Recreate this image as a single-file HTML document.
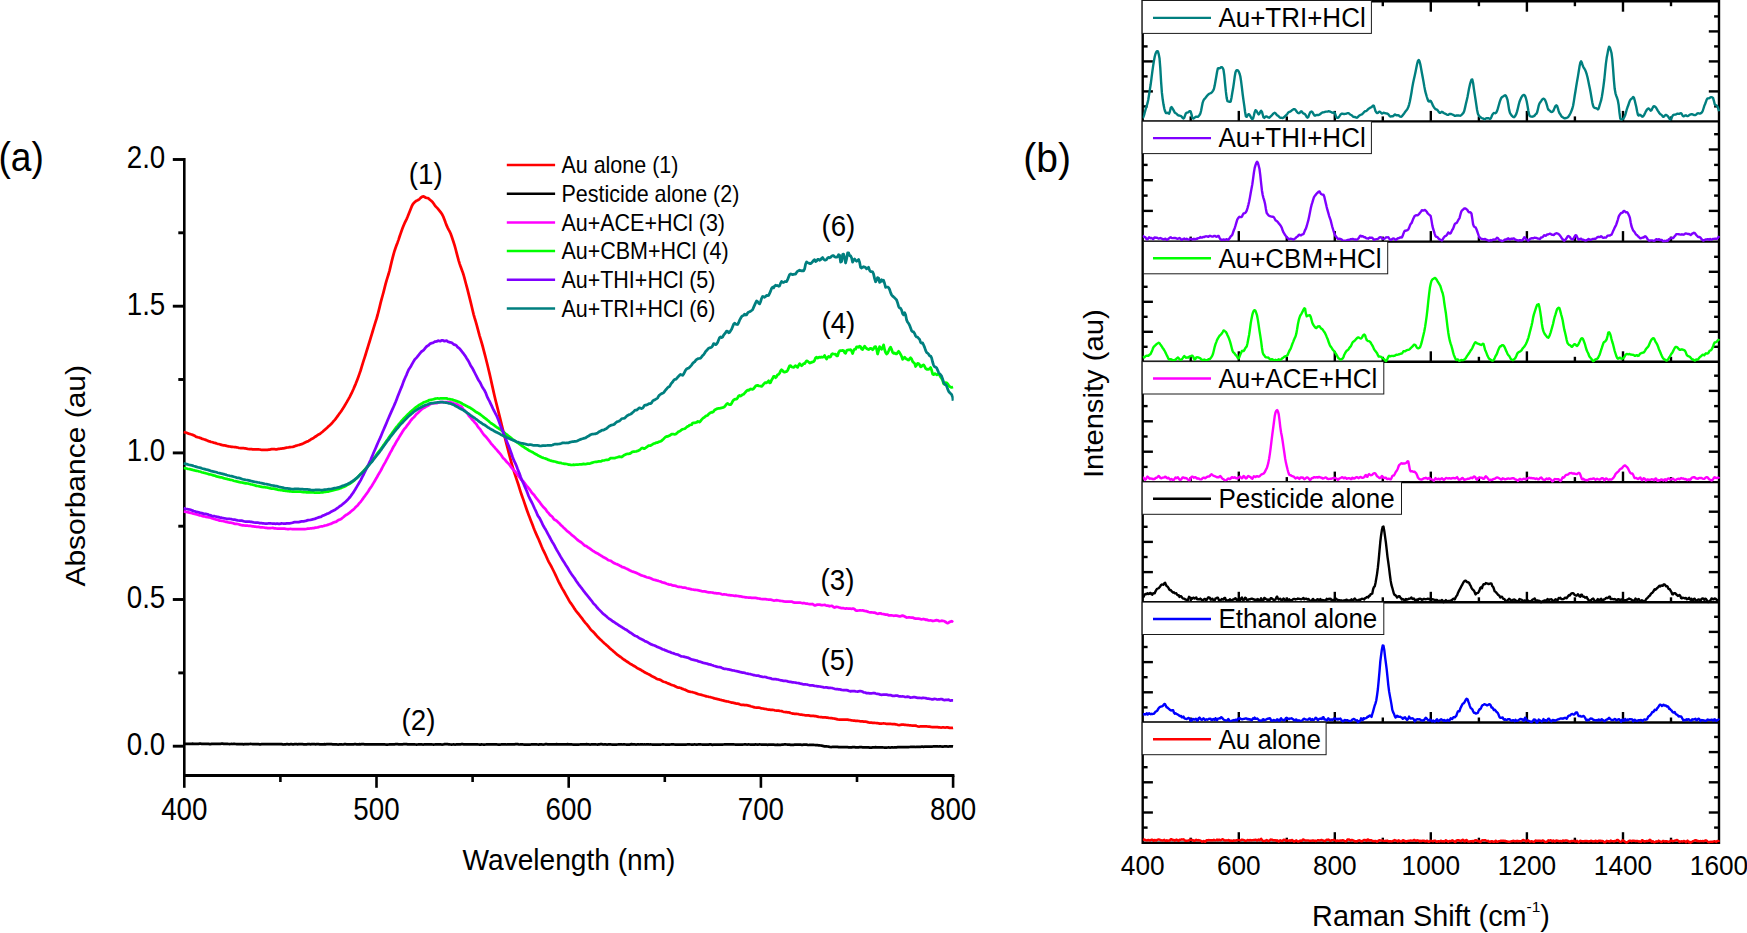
<!DOCTYPE html>
<html lang="en"><head><meta charset="utf-8"><title>UV-vis and Raman spectra</title>
<style>html,body{margin:0;padding:0;background:#fff;}svg{display:block;}</style></head>
<body>
<svg width="1747" height="933" viewBox="0 0 1747 933" font-family='"Liberation Sans", Arial, sans-serif' fill="#000">
<rect x="0" y="0" width="1747" height="933" fill="#fff"/>
<g id="uvvis">
<line x1="184.3" y1="158.1" x2="184.3" y2="777" stroke="#000" stroke-width="2.6" stroke-linecap="butt"/>
<line x1="183" y1="775.5" x2="954.4" y2="775.5" stroke="#000" stroke-width="2.9" stroke-linecap="butt"/>
<line x1="184.3" y1="775.5" x2="184.3" y2="787.8" stroke="#000" stroke-width="2.6" stroke-linecap="butt"/>
<text transform="translate(184.3,819.6) scale(0.89,1)" font-size="31.2" text-anchor="middle" >400</text>
<line x1="280.4" y1="775.5" x2="280.4" y2="782" stroke="#000" stroke-width="2.6" stroke-linecap="butt"/>
<line x1="376.5" y1="775.5" x2="376.5" y2="787.8" stroke="#000" stroke-width="2.6" stroke-linecap="butt"/>
<text transform="translate(376.5,819.6) scale(0.89,1)" font-size="31.2" text-anchor="middle" >500</text>
<line x1="472.6" y1="775.5" x2="472.6" y2="782" stroke="#000" stroke-width="2.6" stroke-linecap="butt"/>
<line x1="568.7" y1="775.5" x2="568.7" y2="787.8" stroke="#000" stroke-width="2.6" stroke-linecap="butt"/>
<text transform="translate(568.7,819.6) scale(0.89,1)" font-size="31.2" text-anchor="middle" >600</text>
<line x1="664.8" y1="775.5" x2="664.8" y2="782" stroke="#000" stroke-width="2.6" stroke-linecap="butt"/>
<line x1="760.9" y1="775.5" x2="760.9" y2="787.8" stroke="#000" stroke-width="2.6" stroke-linecap="butt"/>
<text transform="translate(760.9,819.6) scale(0.89,1)" font-size="31.2" text-anchor="middle" >700</text>
<line x1="857" y1="775.5" x2="857" y2="782" stroke="#000" stroke-width="2.6" stroke-linecap="butt"/>
<line x1="953.1" y1="775.5" x2="953.1" y2="787.8" stroke="#000" stroke-width="2.6" stroke-linecap="butt"/>
<text transform="translate(953.1,819.6) scale(0.89,1)" font-size="31.2" text-anchor="middle" >800</text>
<line x1="172.8" y1="746.2" x2="184.3" y2="746.2" stroke="#000" stroke-width="2.9" stroke-linecap="butt"/>
<text transform="translate(165.3,754.5) scale(0.89,1)" font-size="31.2" text-anchor="end" >0.0</text>
<line x1="178.3" y1="672.9" x2="184.3" y2="672.9" stroke="#000" stroke-width="2.9" stroke-linecap="butt"/>
<line x1="172.8" y1="599.5" x2="184.3" y2="599.5" stroke="#000" stroke-width="2.9" stroke-linecap="butt"/>
<text transform="translate(165.3,607.8) scale(0.89,1)" font-size="31.2" text-anchor="end" >0.5</text>
<line x1="178.3" y1="526.2" x2="184.3" y2="526.2" stroke="#000" stroke-width="2.9" stroke-linecap="butt"/>
<line x1="172.8" y1="452.9" x2="184.3" y2="452.9" stroke="#000" stroke-width="2.9" stroke-linecap="butt"/>
<text transform="translate(165.3,461.2) scale(0.89,1)" font-size="31.2" text-anchor="end" >1.0</text>
<line x1="178.3" y1="379.5" x2="184.3" y2="379.5" stroke="#000" stroke-width="2.9" stroke-linecap="butt"/>
<line x1="172.8" y1="306.2" x2="184.3" y2="306.2" stroke="#000" stroke-width="2.9" stroke-linecap="butt"/>
<text transform="translate(165.3,314.5) scale(0.89,1)" font-size="31.2" text-anchor="end" >1.5</text>
<line x1="178.3" y1="232.8" x2="184.3" y2="232.8" stroke="#000" stroke-width="2.9" stroke-linecap="butt"/>
<line x1="172.8" y1="159.5" x2="184.3" y2="159.5" stroke="#000" stroke-width="2.9" stroke-linecap="butt"/>
<text transform="translate(165.3,167.8) scale(0.89,1)" font-size="31.2" text-anchor="end" >2.0</text>
<text transform="translate(569,869.9) scale(0.937,1)" font-size="30" text-anchor="middle" >Wavelength (nm)</text>
<text transform="translate(84.8,475.8) scale(0.925,1) rotate(-90)" font-size="30" text-anchor="middle">Absorbance (au)</text>
<text transform="translate(-1.6,171.4) scale(0.93,1)" font-size="40" text-anchor="start" >(a)</text>
<clipPath id="cl"><rect x="183.3" y="154.5" width="770.4" height="621"/></clipPath>
<g clip-path="url(#cl)">
<polyline points="183.6,432 184.6,432.3 185.6,432.5 186.6,432.8 187.6,433.2 188.6,433.6 189.6,433.9 190.6,434.2 191.6,434.5 192.6,434.9 193.6,435.3 194.6,435.8 195.6,436.4 196.6,436.9 197.6,437.2 198.6,437.5 199.6,437.7 200.6,438.1 201.6,438.6 202.6,438.9 203.6,439.2 204.6,439.5 205.6,439.9 206.6,440.3 207.6,440.7 208.6,441.1 209.6,441.4 210.6,441.8 211.6,442 212.6,442.3 213.6,442.6 214.6,442.8 215.6,443.1 216.6,443.5 217.6,443.8 218.6,444 219.6,444.3 220.6,444.6 221.6,444.9 222.6,445.2 223.6,445.4 224.6,445.4 225.6,445.6 226.6,445.9 227.6,446.1 228.6,446.3 229.6,446.5 230.6,446.7 231.6,446.9 232.6,446.9 233.6,447 234.6,447.1 235.6,447.2 236.6,447.3 237.6,447.5 238.6,447.8 239.6,448 240.6,448.1 241.6,448.1 242.6,448.1 243.6,448.2 244.6,448.3 245.6,448.4 246.6,448.7 247.6,448.9 248.6,449 249.6,449 250.6,449 251.6,449.1 252.6,449.3 253.6,449.3 254.6,449.3 255.6,449.4 256.6,449.4 257.6,449.4 258.6,449.4 259.6,449.5 260.6,449.7 261.6,449.8 262.6,449.9 263.6,449.9 264.6,449.9 265.6,449.9 266.6,449.9 267.6,449.9 268.6,449.7 269.6,449.6 270.6,449.4 271.6,449.2 272.6,449.1 273.6,449.1 274.6,449.2 275.6,449.3 276.6,449.3 277.6,449.1 278.6,448.9 279.6,448.8 280.6,448.7 281.6,448.6 282.6,448.4 283.6,448.3 284.6,448.1 285.6,447.9 286.6,447.7 287.6,447.5 288.6,447.4 289.6,447.2 290.6,447.1 291.6,447 292.6,446.9 293.6,446.6 294.6,446.2 295.6,445.9 296.6,445.5 297.6,445.3 298.6,445 299.6,444.8 300.6,444.4 301.6,444.1 302.6,443.7 303.6,443.3 304.6,442.8 305.6,442.3 306.6,441.8 307.6,441.4 308.6,440.9 309.6,440.3 310.6,439.6 311.6,438.9 312.6,438.4 313.6,437.9 314.6,437.2 315.6,436.5 316.6,435.8 317.6,435.1 318.6,434.5 319.6,434 320.6,433.3 321.6,432.5 322.6,431.7 323.6,430.8 324.6,429.9 325.6,429.1 326.6,428.2 327.6,427.3 328.6,426.3 329.6,425.4 330.6,424.5 331.6,423.5 332.6,422.4 333.6,421.2 334.6,420.1 335.6,418.9 336.6,417.5 337.6,416.1 338.6,414.7 339.6,413.3 340.6,412 341.6,410.6 342.6,409.1 343.6,407.4 344.6,405.8 345.6,404.1 346.6,402.4 347.6,400.6 348.6,398.9 349.6,397.1 350.6,395.2 351.6,393.2 352.6,391 353.6,388.8 354.6,386.4 355.6,384.1 356.6,381.5 357.6,378.9 358.6,376.2 359.6,373.4 360.6,370.5 361.6,367.2 362.6,363.8 363.6,360.7 364.6,357.6 365.6,354.5 366.6,351.2 367.6,348 368.6,344.7 369.6,341.5 370.6,338.1 371.6,334.8 372.6,331.5 373.6,328.2 374.6,324.9 375.6,321.7 376.6,318.5 377.6,315 378.6,311.1 379.6,307.1 380.6,302.9 381.6,299.2 382.6,295.5 383.6,291.8 384.6,287.9 385.6,283.9 386.6,280.3 387.6,277.2 388.6,274 389.6,270.3 390.6,266.2 391.6,261.9 392.6,257.9 393.6,254.1 394.6,250.7 395.6,247.7 396.6,245 397.6,242.4 398.6,239.6 399.6,236.5 400.6,233.6 401.6,230.7 402.6,228.1 403.6,225.6 404.6,223.2 405.6,221.1 406.6,219.1 407.6,216.8 408.6,214.3 409.6,211.8 410.6,209.3 411.6,206.7 412.6,204.6 413.6,203.2 414.6,202.2 415.6,201.4 416.6,200.7 417.6,200.3 418.6,199.8 419.6,198.9 420.6,197.9 421.6,197.1 422.6,196.5 423.6,196.4 424.6,197 425.6,197.7 426.6,197.9 427.6,198 428.6,198.5 429.6,199.4 430.6,200.3 431.6,201.1 432.6,202.2 433.6,203.5 434.6,205 435.6,206.4 436.6,207.4 437.6,208.4 438.6,209.6 439.6,210.8 440.6,212.1 441.6,213.5 442.6,215.2 443.6,217.4 444.6,220 445.6,222.8 446.6,225.4 447.6,227.6 448.6,229.6 449.6,231.4 450.6,233.5 451.6,236.2 452.6,239.2 453.6,242.2 454.6,245.4 455.6,249 456.6,252.9 457.6,256.7 458.6,260.3 459.6,263.6 460.6,266.6 461.6,269.3 462.6,271.9 463.6,275 464.6,278.7 465.6,282.5 466.6,286.2 467.6,289.9 468.6,293.8 469.6,297.8 470.6,301.8 471.6,306 472.6,310.3 473.6,314.3 474.6,317.9 475.6,321.2 476.6,324.7 477.6,328.4 478.6,332.2 479.6,335.8 480.6,339.1 481.6,342.5 482.6,346 483.6,349.8 484.6,353.7 485.6,357.5 486.6,361.5 487.6,365.5 488.6,369.7 489.6,373.9 490.6,378.3 491.6,382.9 492.6,387.4 493.6,391.9 494.6,396.3 495.6,400.5 496.6,404.4 497.6,408.3 498.6,412.3 499.6,416.3 500.6,420.3 501.6,424.5 502.6,428.6 503.6,432.5 504.6,436.4 505.6,440.4 506.6,444.3 507.6,448.2 508.6,452.1 509.6,456 510.6,459.7 511.6,463.3 512.6,466.8 513.6,470.1 514.6,473.3 515.6,476.4 516.6,479.4 517.6,482.3 518.6,485.3 519.6,488.6 520.6,491.8 521.6,494.8 522.6,497.6 523.6,500.4 524.6,503.4 525.6,506.3 526.6,509.2 527.6,512 528.6,514.7 529.6,517.3 530.6,519.9 531.6,522.5 532.6,525.1 533.6,527.8 534.6,530.3 535.6,532.6 536.6,534.9 537.6,537.1 538.6,539.3 539.6,541.6 540.6,544 541.6,546.5 542.6,548.8 543.6,550.8 544.6,552.9 545.6,555 546.6,557.2 547.6,559.5 548.6,561.6 549.6,563.4 550.6,565.2 551.6,567 552.6,569 553.6,571 554.6,573 555.6,575.1 556.6,577.3 557.6,579.5 558.6,581.6 559.6,583.5 560.6,585.4 561.6,587.3 562.6,589.1 563.6,590.8 564.6,592.5 565.6,594.3 566.6,596.1 567.6,597.9 568.6,599.7 569.6,601.4 570.6,602.9 571.6,604.3 572.6,605.8 573.6,607.3 574.6,608.9 575.6,610.3 576.6,611.6 577.6,612.8 578.6,614 579.6,615.3 580.6,616.7 581.6,617.9 582.6,619.2 583.6,620.6 584.6,621.9 585.6,623.1 586.6,624.2 587.6,625.4 588.6,626.7 589.6,628 590.6,629.3 591.6,630.4 592.6,631.3 593.6,632.3 594.6,633.3 595.6,634.5 596.6,635.7 597.6,636.8 598.6,637.8 599.6,638.8 600.6,639.7 601.6,640.6 602.6,641.6 603.6,642.6 604.6,643.5 605.6,644.3 606.6,645.2 607.6,646.1 608.6,647 609.6,648 610.6,648.9 611.6,649.7 612.6,650.5 613.6,651.4 614.6,652.3 615.6,653.2 616.6,654.1 617.6,654.9 618.6,655.6 619.6,656.3 620.6,657 621.6,657.8 622.6,658.6 623.6,659.3 624.6,660 625.6,660.7 626.6,661.3 627.6,662 628.6,662.7 629.6,663.4 630.6,664 631.6,664.5 632.6,665.1 633.6,665.7 634.6,666.3 635.6,666.9 636.6,667.6 637.6,668.2 638.6,668.7 639.6,669.2 640.6,669.8 641.6,670.4 642.6,671.1 643.6,671.6 644.6,672.2 645.6,672.8 646.6,673.3 647.6,673.8 648.6,674.2 649.6,674.7 650.6,675.3 651.6,676 652.6,676.6 653.6,677.1 654.6,677.6 655.6,678.1 656.6,678.7 657.6,679.1 658.6,679.3 659.6,679.6 660.6,680 661.6,680.6 662.6,681.2 663.6,681.7 664.6,682 665.6,682.3 666.6,682.8 667.6,683.2 668.6,683.6 669.6,684 670.6,684.5 671.6,684.9 672.6,685.2 673.6,685.5 674.6,685.9 675.6,686.4 676.6,687 677.6,687.4 678.6,687.6 679.6,687.7 680.6,688 681.6,688.4 682.6,688.9 683.6,689.3 684.6,689.6 685.6,689.9 686.6,690.4 687.6,690.9 688.6,691.4 689.6,691.7 690.6,691.9 691.6,692 692.6,692.2 693.6,692.5 694.6,692.8 695.6,693.1 696.6,693.5 697.6,693.9 698.6,694.2 699.6,694.5 700.6,694.7 701.6,694.9 702.6,695.2 703.6,695.5 704.6,695.8 705.6,696.1 706.6,696.4 707.6,696.5 708.6,696.8 709.6,697 710.6,697.2 711.6,697.5 712.6,697.8 713.6,698.1 714.6,698.5 715.6,698.7 716.6,698.9 717.6,699.1 718.6,699.3 719.6,699.6 720.6,699.8 721.6,700.1 722.6,700.3 723.6,700.6 724.6,700.9 725.6,701.1 726.6,701.3 727.6,701.5 728.6,701.7 729.6,702 730.6,702.3 731.6,702.6 732.6,702.7 733.6,702.9 734.6,703.1 735.6,703.4 736.6,703.6 737.6,703.7 738.6,703.9 739.6,704.3 740.6,704.6 741.6,704.8 742.6,704.8 743.6,704.9 744.6,705.1 745.6,705.1 746.6,705.2 747.6,705.4 748.6,705.6 749.6,705.8 750.6,706.2 751.6,706.5 752.6,706.8 753.6,707.1 754.6,707.4 755.6,707.5 756.6,707.5 757.6,707.5 758.6,707.5 759.6,707.8 760.6,708.1 761.6,708.3 762.6,708.5 763.6,708.7 764.6,708.8 765.6,709 766.6,709.2 767.6,709.5 768.6,709.6 769.6,709.7 770.6,709.8 771.6,709.8 772.6,709.9 773.6,710 774.6,710.3 775.6,710.5 776.6,710.6 777.6,710.6 778.6,710.7 779.6,710.9 780.6,711 781.6,711.1 782.6,711.5 783.6,711.8 784.6,712 785.6,712.1 786.6,712.2 787.6,712.3 788.6,712.3 789.6,712.6 790.6,713 791.6,713.3 792.6,713.6 793.6,713.7 794.6,713.8 795.6,713.8 796.6,713.9 797.6,714 798.6,714.2 799.6,714.5 800.6,714.7 801.6,714.7 802.6,714.8 803.6,715 804.6,715.2 805.6,715.3 806.6,715.3 807.6,715.4 808.6,715.4 809.6,715.6 810.6,715.8 811.6,715.9 812.6,715.9 813.6,715.9 814.6,716.1 815.6,716.2 816.6,716.4 817.6,716.6 818.6,716.9 819.6,717 820.6,717.1 821.6,717.2 822.6,717.3 823.6,717.4 824.6,717.4 825.6,717.4 826.6,717.6 827.6,717.7 828.6,717.9 829.6,718 830.6,718.1 831.6,718.2 832.6,718.3 833.6,718.5 834.6,718.6 835.6,718.8 836.6,719.1 837.6,719.4 838.6,719.5 839.6,719.5 840.6,719.5 841.6,719.5 842.6,719.5 843.6,719.5 844.6,719.6 845.6,719.6 846.6,719.6 847.6,719.6 848.6,719.8 849.6,720 850.6,720.2 851.6,720.3 852.6,720.5 853.6,720.7 854.6,720.7 855.6,720.8 856.6,720.8 857.6,720.9 858.6,721 859.6,721.2 860.6,721.3 861.6,721.3 862.6,721.4 863.6,721.6 864.6,721.6 865.6,721.6 866.6,721.8 867.6,722.1 868.6,722.5 869.6,722.6 870.6,722.6 871.6,722.7 872.6,722.8 873.6,722.8 874.6,722.9 875.6,723 876.6,723.1 877.6,723.2 878.6,723.3 879.6,723.6 880.6,723.7 881.6,723.6 882.6,723.5 883.6,723.4 884.6,723.5 885.6,723.7 886.6,723.8 887.6,723.9 888.6,723.8 889.6,723.8 890.6,723.9 891.6,724 892.6,724 893.6,724.1 894.6,724.1 895.6,724.3 896.6,724.5 897.6,724.8 898.6,725 899.6,725 900.6,724.8 901.6,724.6 902.6,724.6 903.6,724.7 904.6,724.8 905.6,724.9 906.6,725 907.6,725 908.6,725.2 909.6,725.3 910.6,725.4 911.6,725.5 912.6,725.5 913.6,725.5 914.6,725.5 915.6,725.6 916.6,726 917.6,726.3 918.6,726.5 919.6,726.5 920.6,726.4 921.6,726.4 922.6,726.4 923.6,726.4 924.6,726.4 925.6,726.4 926.6,726.4 927.6,726.5 928.6,726.5 929.6,726.6 930.6,726.8 931.6,727 932.6,727 933.6,727 934.6,727 935.6,727 936.6,727 937.6,727.1 938.6,727.3 939.6,727.4 940.6,727.5 941.6,727.5 942.6,727.4 943.6,727.4 944.6,727.5 945.6,727.5 946.6,727.4 947.6,727.4 948.6,727.6 949.6,727.8 950.6,727.9 951.6,727.9 952.6,727.9 953.1,727.8" fill="none" stroke="#ff0000" stroke-width="2.75" stroke-linejoin="round" stroke-linecap="butt" />
<polyline points="183.6,743.8 184.6,743.8 185.6,743.9 186.6,743.9 187.6,743.9 188.6,743.9 189.6,743.9 190.6,743.9 191.6,743.8 192.6,743.7 193.6,743.8 194.6,743.8 195.6,743.8 196.6,743.8 197.6,743.9 198.6,743.9 199.6,743.7 200.6,743.7 201.6,743.8 202.6,743.8 203.6,743.8 204.6,743.8 205.6,743.9 206.6,743.9 207.6,743.9 208.6,743.9 209.6,744.1 210.6,744.1 211.6,743.9 212.6,743.8 213.6,743.9 214.6,743.9 215.6,743.8 216.6,743.8 217.6,743.9 218.6,743.8 219.6,743.8 220.6,743.8 221.6,743.7 222.6,743.7 223.6,743.9 224.6,743.9 225.6,743.9 226.6,743.8 227.6,743.9 228.6,744 229.6,744.1 230.6,744 231.6,743.9 232.6,744 233.6,743.9 234.6,743.9 235.6,744 236.6,744.1 237.6,744.1 238.6,744.1 239.6,744.1 240.6,744.1 241.6,744 242.6,744.1 243.6,744.3 244.6,744.2 245.6,744.1 246.6,744.1 247.6,744.1 248.6,744.1 249.6,744 250.6,743.9 251.6,744 252.6,744.1 253.6,744.1 254.6,744.2 255.6,744.2 256.6,744.1 257.6,744.1 258.6,744.2 259.6,744.3 260.6,744.3 261.6,744.2 262.6,744.2 263.6,744.2 264.6,744.1 265.6,744.1 266.6,744.2 267.6,744.2 268.6,744.1 269.6,744.1 270.6,744.1 271.6,744.1 272.6,744.1 273.6,744 274.6,744.1 275.6,744.2 276.6,744.1 277.6,744.1 278.6,744.1 279.6,744.1 280.6,744.1 281.6,744.1 282.6,744.3 283.6,744.5 284.6,744.4 285.6,744.3 286.6,744.2 287.6,744.2 288.6,744.3 289.6,744.3 290.6,744.2 291.6,744.2 292.6,744.3 293.6,744.3 294.6,744.2 295.6,744.2 296.6,744.2 297.6,744.3 298.6,744.2 299.6,744.2 300.6,744.1 301.6,744.1 302.6,744.2 303.6,744.3 304.6,744.3 305.6,744.3 306.6,744.3 307.6,744.2 308.6,744.1 309.6,744.2 310.6,744.3 311.6,744.2 312.6,744.2 313.6,744.2 314.6,744.2 315.6,744.3 316.6,744.2 317.6,744.1 318.6,744.2 319.6,744.3 320.6,744.4 321.6,744.3 322.6,744.3 323.6,744.3 324.6,744.2 325.6,744.3 326.6,744.2 327.6,744.2 328.6,744.2 329.6,744.2 330.6,744.2 331.6,744.2 332.6,744.3 333.6,744.3 334.6,744.4 335.6,744.4 336.6,744.4 337.6,744.5 338.6,744.5 339.6,744.3 340.6,744.3 341.6,744.4 342.6,744.5 343.6,744.4 344.6,744.2 345.6,744.2 346.6,744.3 347.6,744.4 348.6,744.4 349.6,744.3 350.6,744.4 351.6,744.4 352.6,744.4 353.6,744.3 354.6,744.2 355.6,744.2 356.6,744.3 357.6,744.3 358.6,744.3 359.6,744.2 360.6,744.3 361.6,744.2 362.6,744.1 363.6,744.2 364.6,744.3 365.6,744.4 366.6,744.4 367.6,744.4 368.6,744.4 369.6,744.4 370.6,744.4 371.6,744.4 372.6,744.4 373.6,744.3 374.6,744.3 375.6,744.3 376.6,744.3 377.6,744.3 378.6,744.4 379.6,744.4 380.6,744.3 381.6,744.3 382.6,744.4 383.6,744.4 384.6,744.4 385.6,744.5 386.6,744.5 387.6,744.6 388.6,744.5 389.6,744.3 390.6,744.3 391.6,744.4 392.6,744.4 393.6,744.3 394.6,744.3 395.6,744.2 396.6,744.2 397.6,744.2 398.6,744.3 399.6,744.3 400.6,744.3 401.6,744.3 402.6,744.3 403.6,744.2 404.6,744.1 405.6,744.1 406.6,744.1 407.6,744.3 408.6,744.4 409.6,744.4 410.6,744.3 411.6,744.3 412.6,744.3 413.6,744.4 414.6,744.4 415.6,744.5 416.6,744.6 417.6,744.5 418.6,744.4 419.6,744.3 420.6,744.4 421.6,744.4 422.6,744.5 423.6,744.5 424.6,744.4 425.6,744.3 426.6,744.3 427.6,744.4 428.6,744.4 429.6,744.3 430.6,744.3 431.6,744.3 432.6,744.5 433.6,744.6 434.6,744.5 435.6,744.3 436.6,744.3 437.6,744.4 438.6,744.4 439.6,744.4 440.6,744.4 441.6,744.5 442.6,744.5 443.6,744.4 444.6,744.2 445.6,744.2 446.6,744.2 447.6,744.2 448.6,744.3 449.6,744.4 450.6,744.5 451.6,744.6 452.6,744.5 453.6,744.4 454.6,744.5 455.6,744.5 456.6,744.4 457.6,744.3 458.6,744.3 459.6,744.3 460.6,744.3 461.6,744.2 462.6,744.2 463.6,744.3 464.6,744.4 465.6,744.4 466.6,744.4 467.6,744.4 468.6,744.4 469.6,744.3 470.6,744.3 471.6,744.3 472.6,744.4 473.6,744.4 474.6,744.3 475.6,744.3 476.6,744.4 477.6,744.4 478.6,744.5 479.6,744.6 480.6,744.6 481.6,744.4 482.6,744.5 483.6,744.6 484.6,744.6 485.6,744.5 486.6,744.4 487.6,744.3 488.6,744.3 489.6,744.4 490.6,744.4 491.6,744.4 492.6,744.3 493.6,744.3 494.6,744.3 495.6,744.3 496.6,744.4 497.6,744.5 498.6,744.5 499.6,744.5 500.6,744.5 501.6,744.4 502.6,744.4 503.6,744.4 504.6,744.4 505.6,744.4 506.6,744.5 507.6,744.4 508.6,744.3 509.6,744.3 510.6,744.3 511.6,744.4 512.6,744.4 513.6,744.4 514.6,744.3 515.6,744.1 516.6,744.2 517.6,744.2 518.6,744.4 519.6,744.5 520.6,744.4 521.6,744.3 522.6,744.4 523.6,744.5 524.6,744.5 525.6,744.5 526.6,744.6 527.6,744.7 528.6,744.6 529.6,744.5 530.6,744.5 531.6,744.4 532.6,744.3 533.6,744.3 534.6,744.3 535.6,744.3 536.6,744.4 537.6,744.5 538.6,744.6 539.6,744.4 540.6,744.4 541.6,744.4 542.6,744.5 543.6,744.5 544.6,744.4 545.6,744.2 546.6,744.2 547.6,744.3 548.6,744.4 549.6,744.4 550.6,744.3 551.6,744.3 552.6,744.4 553.6,744.4 554.6,744.4 555.6,744.3 556.6,744.2 557.6,744.3 558.6,744.4 559.6,744.3 560.6,744.3 561.6,744.4 562.6,744.3 563.6,744.3 564.6,744.4 565.6,744.4 566.6,744.3 567.6,744.2 568.6,744.3 569.6,744.3 570.6,744.3 571.6,744.4 572.6,744.5 573.6,744.5 574.6,744.5 575.6,744.5 576.6,744.6 577.6,744.6 578.6,744.6 579.6,744.5 580.6,744.4 581.6,744.4 582.6,744.3 583.6,744.3 584.6,744.3 585.6,744.3 586.6,744.2 587.6,744.3 588.6,744.4 589.6,744.5 590.6,744.5 591.6,744.4 592.6,744.4 593.6,744.3 594.6,744.4 595.6,744.4 596.6,744.5 597.6,744.6 598.6,744.4 599.6,744.3 600.6,744.2 601.6,744.2 602.6,744.3 603.6,744.5 604.6,744.4 605.6,744.3 606.6,744.5 607.6,744.5 608.6,744.4 609.6,744.3 610.6,744.4 611.6,744.5 612.6,744.5 613.6,744.6 614.6,744.6 615.6,744.6 616.6,744.6 617.6,744.5 618.6,744.3 619.6,744.4 620.6,744.4 621.6,744.4 622.6,744.5 623.6,744.4 624.6,744.4 625.6,744.5 626.6,744.6 627.6,744.5 628.6,744.6 629.6,744.6 630.6,744.4 631.6,744.2 632.6,744.3 633.6,744.3 634.6,744.3 635.6,744.5 636.6,744.5 637.6,744.4 638.6,744.4 639.6,744.5 640.6,744.4 641.6,744.3 642.6,744.4 643.6,744.5 644.6,744.4 645.6,744.5 646.6,744.4 647.6,744.4 648.6,744.4 649.6,744.5 650.6,744.4 651.6,744.5 652.6,744.6 653.6,744.7 654.6,744.6 655.6,744.5 656.6,744.5 657.6,744.5 658.6,744.6 659.6,744.6 660.6,744.6 661.6,744.5 662.6,744.4 663.6,744.4 664.6,744.5 665.6,744.6 666.6,744.6 667.6,744.6 668.6,744.6 669.6,744.6 670.6,744.5 671.6,744.3 672.6,744.3 673.6,744.4 674.6,744.5 675.6,744.5 676.6,744.6 677.6,744.6 678.6,744.7 679.6,744.6 680.6,744.5 681.6,744.5 682.6,744.5 683.6,744.5 684.6,744.5 685.6,744.5 686.6,744.5 687.6,744.4 688.6,744.4 689.6,744.4 690.6,744.5 691.6,744.6 692.6,744.5 693.6,744.5 694.6,744.4 695.6,744.5 696.6,744.5 697.6,744.5 698.6,744.4 699.6,744.3 700.6,744.4 701.6,744.5 702.6,744.6 703.6,744.6 704.6,744.5 705.6,744.5 706.6,744.6 707.6,744.7 708.6,744.6 709.6,744.4 710.6,744.4 711.6,744.6 712.6,744.8 713.6,744.7 714.6,744.7 715.6,744.6 716.6,744.5 717.6,744.5 718.6,744.5 719.6,744.5 720.6,744.6 721.6,744.6 722.6,744.6 723.6,744.5 724.6,744.4 725.6,744.4 726.6,744.4 727.6,744.4 728.6,744.3 729.6,744.3 730.6,744.3 731.6,744.3 732.6,744.3 733.6,744.3 734.6,744.5 735.6,744.6 736.6,744.6 737.6,744.5 738.6,744.5 739.6,744.6 740.6,744.6 741.6,744.6 742.6,744.6 743.6,744.5 744.6,744.4 745.6,744.4 746.6,744.5 747.6,744.5 748.6,744.4 749.6,744.5 750.6,744.6 751.6,744.6 752.6,744.6 753.6,744.6 754.6,744.6 755.6,744.4 756.6,744.5 757.6,744.5 758.6,744.5 759.6,744.4 760.6,744.5 761.6,744.7 762.6,744.7 763.6,744.6 764.6,744.7 765.6,744.7 766.6,744.7 767.6,744.8 768.6,744.7 769.6,744.6 770.6,744.5 771.6,744.6 772.6,744.5 773.6,744.5 774.6,744.8 775.6,744.9 776.6,744.8 777.6,744.7 778.6,744.8 779.6,744.9 780.6,744.8 781.6,744.7 782.6,744.5 783.6,744.5 784.6,744.4 785.6,744.4 786.6,744.5 787.6,744.6 788.6,744.6 789.6,744.7 790.6,744.9 791.6,744.9 792.6,744.8 793.6,744.8 794.6,744.7 795.6,744.7 796.6,744.7 797.6,744.6 798.6,744.6 799.6,744.6 800.6,744.7 801.6,744.8 802.6,744.8 803.6,744.7 804.6,744.6 805.6,744.6 806.6,744.7 807.6,744.9 808.6,745 809.6,744.9 810.6,744.8 811.6,744.8 812.6,744.8 813.6,744.9 814.6,745 815.6,745.1 816.6,745.2 817.6,745.2 818.6,745.3 819.6,745.4 820.6,745.5 821.6,745.7 822.6,745.9 823.6,746.1 824.6,746.3 825.6,746.4 826.6,746.4 827.6,746.5 828.6,746.7 829.6,746.9 830.6,747 831.6,747 832.6,746.9 833.6,746.9 834.6,746.9 835.6,746.9 836.6,746.9 837.6,746.9 838.6,747.1 839.6,747.2 840.6,747 841.6,747 842.6,747 843.6,747 844.6,747 845.6,747 846.6,747.2 847.6,747.2 848.6,747.3 849.6,747.3 850.6,747.4 851.6,747.3 852.6,747.1 853.6,747 854.6,747.1 855.6,747.3 856.6,747.3 857.6,747.3 858.6,747.3 859.6,747.2 860.6,747.2 861.6,747.2 862.6,747.3 863.6,747.4 864.6,747.4 865.6,747.3 866.6,747.3 867.6,747.3 868.6,747.4 869.6,747.6 870.6,747.7 871.6,747.6 872.6,747.4 873.6,747.3 874.6,747.3 875.6,747.2 876.6,747.3 877.6,747.3 878.6,747.4 879.6,747.4 880.6,747.4 881.6,747.3 882.6,747.4 883.6,747.5 884.6,747.6 885.6,747.6 886.6,747.6 887.6,747.5 888.6,747.4 889.6,747.5 890.6,747.5 891.6,747.4 892.6,747.4 893.6,747.5 894.6,747.4 895.6,747.4 896.6,747.3 897.6,747.2 898.6,747.2 899.6,747.1 900.6,747 901.6,747 902.6,747.1 903.6,747.1 904.6,747 905.6,747 906.6,747.2 907.6,747.2 908.6,747.1 909.6,747 910.6,746.9 911.6,746.9 912.6,746.9 913.6,746.8 914.6,746.9 915.6,747 916.6,746.8 917.6,746.8 918.6,746.8 919.6,746.8 920.6,746.8 921.6,746.7 922.6,746.7 923.6,746.8 924.6,746.7 925.6,746.6 926.6,746.6 927.6,746.6 928.6,746.7 929.6,746.6 930.6,746.5 931.6,746.5 932.6,746.5 933.6,746.4 934.6,746.3 935.6,746.3 936.6,746.4 937.6,746.4 938.6,746.5 939.6,746.4 940.6,746.4 941.6,746.5 942.6,746.5 943.6,746.5 944.6,746.4 945.6,746.3 946.6,746.4 947.6,746.5 948.6,746.5 949.6,746.4 950.6,746.3 951.6,746.3 952.6,746.3 953.1,746.4" fill="none" stroke="#000000" stroke-width="2.75" stroke-linejoin="round" stroke-linecap="butt" />
<polyline points="183.6,511.6 184.6,511.6 185.6,511.8 186.6,512 187.6,512.1 188.6,512.4 189.6,512.7 190.6,512.9 191.6,513 192.6,513.4 193.6,513.7 194.6,514 195.6,514.2 196.6,514.4 197.6,514.6 198.6,515 199.6,515.4 200.6,515.5 201.6,515.7 202.6,516.1 203.6,516.3 204.6,516.5 205.6,516.8 206.6,517 207.6,517 208.6,517.3 209.6,517.5 210.6,517.8 211.6,518.1 212.6,518.4 213.6,518.8 214.6,519 215.6,519.4 216.6,519.6 217.6,519.8 218.6,520.2 219.6,520.6 220.6,520.7 221.6,520.8 222.6,521 223.6,521.2 224.6,521.5 225.6,521.8 226.6,521.9 227.6,522.2 228.6,522.5 229.6,522.6 230.6,522.7 231.6,522.8 232.6,523 233.6,523.4 234.6,523.8 235.6,523.8 236.6,523.9 237.6,524 238.6,524.3 239.6,524.6 240.6,524.9 241.6,525.1 242.6,525.3 243.6,525.4 244.6,525.5 245.6,525.5 246.6,525.5 247.6,525.7 248.6,525.8 249.6,525.9 250.6,525.9 251.6,526.2 252.6,526.4 253.6,526.4 254.6,526.6 255.6,526.7 256.6,526.8 257.6,526.8 258.6,526.9 259.6,527.2 260.6,527.3 261.6,527.3 262.6,527.4 263.6,527.5 264.6,527.7 265.6,527.8 266.6,527.9 267.6,528.1 268.6,528.2 269.6,528.1 270.6,528.1 271.6,528 272.6,527.9 273.6,528.1 274.6,528.3 275.6,528.4 276.6,528.5 277.6,528.5 278.6,528.5 279.6,528.6 280.6,528.6 281.6,528.7 282.6,528.7 283.6,528.7 284.6,528.7 285.6,528.8 286.6,529 287.6,529.2 288.6,529.1 289.6,529 290.6,528.9 291.6,529 292.6,529 293.6,529 294.6,529.1 295.6,529.1 296.6,529 297.6,529.1 298.6,529.2 299.6,529.2 300.6,529.2 301.6,529.1 302.6,529.2 303.6,529.1 304.6,529 305.6,529 306.6,528.9 307.6,528.7 308.6,528.5 309.6,528.5 310.6,528.4 311.6,528.3 312.6,528.2 313.6,528.2 314.6,527.9 315.6,527.5 316.6,527.5 317.6,527.4 318.6,527.1 319.6,526.8 320.6,526.5 321.6,526.4 322.6,526.3 323.6,526 324.6,525.6 325.6,525.5 326.6,525.2 327.6,524.9 328.6,524.5 329.6,524.2 330.6,524 331.6,523.4 332.6,522.9 333.6,522.5 334.6,522.1 335.6,521.9 336.6,521.4 337.6,520.6 338.6,520 339.6,519.6 340.6,519.2 341.6,518.6 342.6,517.8 343.6,517 344.6,516.1 345.6,515.3 346.6,514.7 347.6,514.1 348.6,513.4 349.6,512.8 350.6,511.8 351.6,510.9 352.6,510.2 353.6,509.4 354.6,508.4 355.6,507.2 356.6,506.3 357.6,505.4 358.6,504.1 359.6,502.9 360.6,501.8 361.6,500.5 362.6,499.1 363.6,497.7 364.6,496.4 365.6,495 366.6,493.7 367.6,492.3 368.6,490.7 369.6,489 370.6,487.6 371.6,486.2 372.6,484.6 373.6,482.9 374.6,481.2 375.6,479.5 376.6,477.8 377.6,476 378.6,474.2 379.6,472.6 380.6,470.9 381.6,469 382.6,467 383.6,465.1 384.6,463.4 385.6,461.6 386.6,459.7 387.6,457.8 388.6,455.9 389.6,454 390.6,452 391.6,450.4 392.6,448.4 393.6,446.5 394.6,445 395.6,443.1 396.6,441.3 397.6,439.8 398.6,438.2 399.6,436.4 400.6,434.8 401.6,433.2 402.6,431.6 403.6,430 404.6,428.7 405.6,427.6 406.6,426.2 407.6,424.9 408.6,423.7 409.6,422.2 410.6,420.7 411.6,419.5 412.6,418.3 413.6,417.5 414.6,416.5 415.6,415.1 416.6,414 417.6,413.2 418.6,412.2 419.6,411.3 420.6,410.3 421.6,409.3 422.6,408.6 423.6,408.1 424.6,407.6 425.6,406.9 426.6,406.3 427.6,405.9 428.6,405.3 429.6,404.6 430.6,403.9 431.6,403.6 432.6,403.5 433.6,403.2 434.6,403.1 435.6,403.2 436.6,403.2 437.6,402.9 438.6,402.3 439.6,402 440.6,402.1 441.6,402.2 442.6,402.2 443.6,402.1 444.6,402.2 445.6,402.2 446.6,402.1 447.6,402.1 448.6,402.1 449.6,402.2 450.6,402.4 451.6,402.6 452.6,402.8 453.6,403.2 454.6,403.5 455.6,403.8 456.6,404.1 457.6,404.7 458.6,405.4 459.6,405.7 460.6,406 461.6,406.9 462.6,408.2 463.6,409.6 464.6,410.6 465.6,411.5 466.6,412.4 467.6,413.8 468.6,415.3 469.6,416.6 470.6,417.6 471.6,418.8 472.6,420 473.6,421 474.6,422.3 475.6,423.4 476.6,424.5 477.6,426.2 478.6,427.6 479.6,428.6 480.6,429.9 481.6,431.5 482.6,433 483.6,434.3 484.6,435.5 485.6,436.5 486.6,437.7 487.6,438.9 488.6,440.1 489.6,441.4 490.6,442.8 491.6,444.1 492.6,445.2 493.6,446.3 494.6,447.4 495.6,448.6 496.6,449.6 497.6,450.8 498.6,452 499.6,453.1 500.6,454.3 501.6,455.7 502.6,457.3 503.6,458.5 504.6,459.3 505.6,460.5 506.6,461.8 507.6,462.8 508.6,463.7 509.6,464.9 510.6,466.3 511.6,467.6 512.6,468.9 513.6,470.1 514.6,471 515.6,472.1 516.6,473.5 517.6,474.9 518.6,476.1 519.6,477.3 520.6,478.8 521.6,480 522.6,480.8 523.6,481.8 524.6,483.1 525.6,484.5 526.6,485.9 527.6,487 528.6,488.2 529.6,489.4 530.6,490.8 531.6,492.4 532.6,493.6 533.6,494.5 534.6,495.7 535.6,497.2 536.6,498.5 537.6,499.6 538.6,500.8 539.6,502.1 540.6,503.6 541.6,504.9 542.6,506.1 543.6,507.3 544.6,508.3 545.6,509.3 546.6,510.8 547.6,512.1 548.6,513.2 549.6,514.5 550.6,515.5 551.6,516.1 552.6,517.2 553.6,518.7 554.6,519.7 555.6,520.1 556.6,520.8 557.6,521.8 558.6,522.7 559.6,523.6 560.6,524.8 561.6,525.7 562.6,526.6 563.6,527.7 564.6,528.6 565.6,529.5 566.6,530.5 567.6,531.4 568.6,532.1 569.6,532.9 570.6,533.8 571.6,534.9 572.6,535.6 573.6,536.3 574.6,537.2 575.6,538.1 576.6,539.1 577.6,540 578.6,540.7 579.6,541.3 580.6,542 581.6,542.7 582.6,543.6 583.6,544.6 584.6,545.4 585.6,545.9 586.6,546.3 587.6,547.1 588.6,547.8 589.6,548.4 590.6,549.1 591.6,549.9 592.6,550.6 593.6,551.2 594.6,551.9 595.6,552.5 596.6,553.1 597.6,553.6 598.6,554.1 599.6,554.8 600.6,555.4 601.6,556 602.6,556.6 603.6,557.3 604.6,557.8 605.6,558.3 606.6,558.9 607.6,559.6 608.6,560.2 609.6,560.5 610.6,560.8 611.6,561.4 612.6,562.2 613.6,562.9 614.6,563.3 615.6,563.8 616.6,564.1 617.6,564.6 618.6,565.1 619.6,565.6 620.6,566 621.6,566.7 622.6,567.2 623.6,567.4 624.6,567.8 625.6,568.3 626.6,568.7 627.6,569.1 628.6,569.7 629.6,570.3 630.6,570.8 631.6,571.3 632.6,571.6 633.6,571.9 634.6,572.2 635.6,572.6 636.6,573 637.6,573.5 638.6,573.9 639.6,574.4 640.6,574.9 641.6,575.4 642.6,575.7 643.6,576 644.6,576.4 645.6,576.8 646.6,577.2 647.6,577.5 648.6,577.7 649.6,577.9 650.6,578.2 651.6,578.7 652.6,579.2 653.6,579.6 654.6,579.8 655.6,580.1 656.6,580.4 657.6,580.6 658.6,581 659.6,581.3 660.6,581.6 661.6,582.1 662.6,582.4 663.6,582.6 664.6,582.9 665.6,583.3 666.6,583.7 667.6,584 668.6,584.4 669.6,584.6 670.6,584.7 671.6,584.9 672.6,585.4 673.6,585.7 674.6,585.7 675.6,585.9 676.6,586.3 677.6,586.6 678.6,586.8 679.6,586.9 680.6,587 681.6,587.2 682.6,587.5 683.6,587.5 684.6,587.5 685.6,587.8 686.6,588.2 687.6,588.5 688.6,588.6 689.6,588.8 690.6,589.1 691.6,589.4 692.6,589.5 693.6,589.7 694.6,589.8 695.6,589.9 696.6,590 697.6,590.2 698.6,590.4 699.6,590.6 700.6,590.8 701.6,591.1 702.6,591.3 703.6,591.3 704.6,591.4 705.6,591.6 706.6,591.9 707.6,592.1 708.6,592.3 709.6,592.4 710.6,592.4 711.6,592.5 712.6,592.6 713.6,592.9 714.6,593.1 715.6,593.2 716.6,593.4 717.6,593.4 718.6,593.3 719.6,593.5 720.6,593.8 721.6,594.2 722.6,594.5 723.6,594.4 724.6,594.4 725.6,594.5 726.6,594.7 727.6,595 728.6,595.1 729.6,595.1 730.6,595.3 731.6,595.3 732.6,595.5 733.6,595.7 734.6,595.8 735.6,595.7 736.6,595.8 737.6,596 738.6,596.2 739.6,596.4 740.6,596.4 741.6,596.6 742.6,596.8 743.6,597 744.6,597.1 745.6,597.3 746.6,597.4 747.6,597.5 748.6,597.6 749.6,597.7 750.6,597.6 751.6,597.8 752.6,597.9 753.6,597.9 754.6,597.8 755.6,597.9 756.6,598.1 757.6,598.3 758.6,598.5 759.6,598.6 760.6,598.9 761.6,599 762.6,599 763.6,599 764.6,599 765.6,599.1 766.6,599.3 767.6,599.5 768.6,599.6 769.6,599.6 770.6,599.7 771.6,599.9 772.6,600.2 773.6,600.5 774.6,600.5 775.6,600.3 776.6,600.2 777.6,600.3 778.6,600.5 779.6,600.8 780.6,600.9 781.6,601 782.6,601.1 783.6,601.3 784.6,601.5 785.6,601.5 786.6,601.5 787.6,601.6 788.6,601.7 789.6,601.7 790.6,601.7 791.6,601.7 792.6,601.9 793.6,602.4 794.6,602.6 795.6,602.6 796.6,602.6 797.6,602.6 798.6,602.6 799.6,602.7 800.6,602.7 801.6,603 802.6,603.3 803.6,603 804.6,603.2 805.6,603.5 806.6,603.5 807.6,603.7 808.6,604 809.6,604.1 810.6,604.2 811.6,604.1 812.6,604 813.6,604.8 814.6,605.4 815.6,605.3 816.6,604.9 817.6,604.5 818.6,604.5 819.6,604.6 820.6,604.9 821.6,605.2 822.6,605.1 823.6,605 824.6,604.9 825.6,605.3 826.6,605.6 827.6,605.6 828.6,605.9 829.6,606.3 830.6,606 831.6,605.8 832.6,606.3 833.6,607.1 834.6,607.5 835.6,607.1 836.6,606.8 837.6,607 838.6,607.3 839.6,607.5 840.6,608 841.6,608.2 842.6,608.1 843.6,608.2 844.6,608.5 845.6,608.6 846.6,608.4 847.6,608.5 848.6,608.5 849.6,608.5 850.6,608.7 851.6,608.8 852.6,608.6 853.6,608.6 854.6,609.2 855.6,610.2 856.6,610.7 857.6,610.6 858.6,610.5 859.6,610.4 860.6,610.4 861.6,610.5 862.6,610.4 863.6,610.6 864.6,611 865.6,611.1 866.6,611.2 867.6,611.6 868.6,612 869.6,612.3 870.6,612.3 871.6,612.3 872.6,612.5 873.6,612.6 874.6,612.6 875.6,613 876.6,613.5 877.6,613.8 878.6,613.7 879.6,613.3 880.6,613.4 881.6,613.8 882.6,614 883.6,614.1 884.6,614.3 885.6,614.6 886.6,614.7 887.6,614.7 888.6,615.3 889.6,615.4 890.6,615.3 891.6,615.4 892.6,615.5 893.6,615.8 894.6,615.7 895.6,615.5 896.6,615.6 897.6,615.8 898.6,616.2 899.6,616.4 900.6,616.3 901.6,615.9 902.6,615.6 903.6,616 904.6,616.4 905.6,617.1 906.6,617.6 907.6,617.5 908.6,617.4 909.6,617.4 910.6,617.5 911.6,617.5 912.6,617.6 913.6,617.9 914.6,618.4 915.6,618.6 916.6,618.7 917.6,618.6 918.6,618.6 919.6,618.8 920.6,619.1 921.6,619.3 922.6,619.2 923.6,619 924.6,619.3 925.6,619.8 926.6,619.7 927.6,619.9 928.6,620.4 929.6,620.5 930.6,620.4 931.6,620.5 932.6,621 933.6,620.9 934.6,620.7 935.6,620.4 936.6,620.2 937.6,620.3 938.6,620.9 939.6,621.2 940.6,621 941.6,620.7 942.6,620.8 943.6,621 944.6,621.3 945.6,622 946.6,622.7 947.6,623.1 948.6,622.7 949.6,622 950.6,621.5 951.6,621.2 952.6,621.8 953.1,622.5" fill="none" stroke="#ff00ff" stroke-width="2.75" stroke-linejoin="round" stroke-linecap="butt" />
<polyline points="183.6,468 184.6,468.1 185.6,468.3 186.6,468.5 187.6,468.8 188.6,469 189.6,469.2 190.6,469.4 191.6,469.6 192.6,469.9 193.6,470.1 194.6,470.4 195.6,470.6 196.6,470.8 197.6,471 198.6,471.3 199.6,471.5 200.6,471.8 201.6,472.2 202.6,472.5 203.6,472.7 204.6,473 205.6,473.2 206.6,473.5 207.6,473.8 208.6,474.1 209.6,474.3 210.6,474.5 211.6,474.8 212.6,475.1 213.6,475.4 214.6,475.7 215.6,475.9 216.6,476.4 217.6,476.7 218.6,476.9 219.6,477.1 220.6,477.3 221.6,477.4 222.6,477.7 223.6,478.1 224.6,478.4 225.6,478.6 226.6,478.8 227.6,479.1 228.6,479.3 229.6,479.6 230.6,479.8 231.6,480 232.6,480.3 233.6,480.7 234.6,481 235.6,481.2 236.6,481.4 237.6,481.7 238.6,481.9 239.6,482.2 240.6,482.3 241.6,482.5 242.6,482.7 243.6,482.9 244.6,483.1 245.6,483.3 246.6,483.4 247.6,483.5 248.6,483.7 249.6,484 250.6,484.3 251.6,484.5 252.6,484.7 253.6,485 254.6,485.3 255.6,485.6 256.6,485.9 257.6,486 258.6,486.1 259.6,486.4 260.6,486.6 261.6,486.8 262.6,487 263.6,487 264.6,487.2 265.6,487.3 266.6,487.5 267.6,487.7 268.6,487.9 269.6,488.1 270.6,488.4 271.6,488.6 272.6,488.7 273.6,488.7 274.6,488.9 275.6,489.1 276.6,489.3 277.6,489.6 278.6,489.8 279.6,489.9 280.6,490.1 281.6,490.2 282.6,490.4 283.6,490.6 284.6,490.7 285.6,490.9 286.6,490.9 287.6,491.1 288.6,491.2 289.6,491.4 290.6,491.4 291.6,491.5 292.6,491.5 293.6,491.6 294.6,491.6 295.6,491.5 296.6,491.5 297.6,491.6 298.6,491.6 299.6,491.6 300.6,491.7 301.6,491.8 302.6,492 303.6,492 304.6,492 305.6,492.1 306.6,492.3 307.6,492.4 308.6,492.3 309.6,492.2 310.6,492.4 311.6,492.4 312.6,492.4 313.6,492.4 314.6,492.6 315.6,492.6 316.6,492.5 317.6,492.6 318.6,492.6 319.6,492.7 320.6,492.5 321.6,492.4 322.6,492.4 323.6,492.2 324.6,492 325.6,491.9 326.6,491.7 327.6,491.5 328.6,491.5 329.6,491.2 330.6,491 331.6,490.7 332.6,490.4 333.6,490.1 334.6,489.9 335.6,489.7 336.6,489.5 337.6,489.2 338.6,488.9 339.6,488.5 340.6,488.2 341.6,487.7 342.6,487.3 343.6,486.9 344.6,486.5 345.6,486 346.6,485.4 347.6,484.8 348.6,484.3 349.6,483.7 350.6,483.1 351.6,482.4 352.6,481.6 353.6,480.9 354.6,480.1 355.6,479.1 356.6,478.2 357.6,477.2 358.6,476.2 359.6,475.1 360.6,474 361.6,473 362.6,472 363.6,471 364.6,469.8 365.6,468.6 366.6,467.4 367.6,466.2 368.6,465 369.6,463.8 370.6,462.6 371.6,461.4 372.6,460 373.6,458.6 374.6,457.3 375.6,456 376.6,454.5 377.6,453.1 378.6,451.9 379.6,450.7 380.6,449.4 381.6,448 382.6,446.6 383.6,445.1 384.6,443.7 385.6,442.2 386.6,440.8 387.6,439.5 388.6,438 389.6,436.5 390.6,435.2 391.6,433.8 392.6,432.4 393.6,431 394.6,429.6 395.6,428.2 396.6,427 397.6,425.8 398.6,424.5 399.6,423.3 400.6,422.2 401.6,421 402.6,419.8 403.6,418.7 404.6,417.7 405.6,416.7 406.6,415.6 407.6,414.6 408.6,413.7 409.6,412.8 410.6,411.8 411.6,410.9 412.6,410 413.6,409.2 414.6,408.4 415.6,407.5 416.6,406.8 417.6,406.1 418.6,405.4 419.6,404.8 420.6,404.3 421.6,403.7 422.6,403.1 423.6,402.6 424.6,402.1 425.6,401.8 426.6,401.4 427.6,400.9 428.6,400.4 429.6,400 430.6,399.8 431.6,399.7 432.6,399.5 433.6,399.2 434.6,398.9 435.6,398.7 436.6,398.5 437.6,398.4 438.6,398.5 439.6,398.5 440.6,398.4 441.6,398.4 442.6,398.4 443.6,398.4 444.6,398.4 445.6,398.3 446.6,398.4 447.6,398.8 448.6,399 449.6,399.1 450.6,399.3 451.6,399.5 452.6,399.7 453.6,400.1 454.6,400.4 455.6,400.7 456.6,401.1 457.6,401.5 458.6,401.9 459.6,402.3 460.6,402.7 461.6,403.3 462.6,403.9 463.6,404.4 464.6,404.9 465.6,405.5 466.6,406.1 467.6,406.6 468.6,407 469.6,407.6 470.6,408.1 471.6,408.8 472.6,409.4 473.6,410.1 474.6,410.9 475.6,411.7 476.6,412.2 477.6,412.8 478.6,413.3 479.6,414 480.6,414.7 481.6,415.5 482.6,416.3 483.6,417.1 484.6,417.9 485.6,418.6 486.6,419.4 487.6,420.2 488.6,421.1 489.6,422 490.6,422.8 491.6,423.5 492.6,424.1 493.6,424.8 494.6,425.6 495.6,426.4 496.6,427.1 497.6,427.7 498.6,428.3 499.6,429 500.6,429.7 501.6,430.5 502.6,431.4 503.6,432.1 504.6,432.9 505.6,433.7 506.6,434.5 507.6,435.2 508.6,436 509.6,436.8 510.6,437.6 511.6,438.4 512.6,439.3 513.6,440 514.6,440.8 515.6,441.4 516.6,442.1 517.6,442.7 518.6,443.4 519.6,444.2 520.6,444.9 521.6,445.6 522.6,446.3 523.6,446.9 524.6,447.6 525.6,448.3 526.6,448.9 527.6,449.5 528.6,450.2 529.6,450.8 530.6,451.3 531.6,451.7 532.6,452.2 533.6,452.9 534.6,453.5 535.6,454.1 536.6,454.5 537.6,455.1 538.6,455.8 539.6,456.2 540.6,456.7 541.6,457.2 542.6,457.6 543.6,458 544.6,458.3 545.6,458.6 546.6,459 547.6,459.4 548.6,459.9 549.6,460.3 550.6,460.6 551.6,460.9 552.6,461.1 553.6,461.3 554.6,461.5 555.6,461.8 556.6,462.1 557.6,462.4 558.6,462.6 559.6,462.8 560.6,462.8 561.6,463.2 562.6,463.5 563.6,463.6 564.6,463.8 565.6,463.9 566.6,464 567.6,464.3 568.6,464.6 569.6,464.6 570.6,464.8 571.6,465 572.6,464.9 573.6,464.7 574.6,464.8 575.6,464.7 576.6,464.5 577.6,464.5 578.6,464.5 579.6,464.4 580.6,464.4 581.6,464.4 582.6,464.1 583.6,463.9 584.6,464.1 585.6,464.1 586.6,463.9 587.6,463.6 588.6,463.6 589.6,463.6 590.6,463.3 591.6,462.9 592.6,462.6 593.6,462.3 594.6,462 595.6,461.9 596.6,461.9 597.6,461.7 598.6,461.4 599.6,461.4 600.6,461.4 601.6,461.1 602.6,460.6 603.6,460.5 604.6,460.3 605.6,460 606.6,459.8 607.6,459.9 608.6,459.7 609.6,458.9 610.6,458.2 611.6,458.1 612.6,458.1 613.6,458.2 614.6,458.2 615.6,457.8 616.6,457.5 617.6,457.2 618.6,456.9 619.6,456.7 620.6,456.8 621.6,457 622.6,456.4 623.6,455.5 624.6,454.9 625.6,454.5 626.6,454 627.6,453.8 628.6,453.8 629.6,453.7 630.6,453.2 631.6,452.4 632.6,451.8 633.6,451.6 634.6,451.6 635.6,451.5 636.6,451.3 637.6,450.9 638.6,450.6 639.6,450.1 640.6,449.1 641.6,448.1 642.6,448 643.6,448.5 644.6,448.5 645.6,447.9 646.6,447.2 647.6,446.4 648.6,445.7 649.6,445.5 650.6,445.5 651.6,445 652.6,444.2 653.6,443.7 654.6,443.5 655.6,443 656.6,442.5 657.6,442.5 658.6,442 659.6,441.5 660.6,441.4 661.6,440.8 662.6,439.8 663.6,438.9 664.6,437.9 665.6,436.9 666.6,436.4 667.6,436.5 668.6,435.9 669.6,435.6 670.6,434.9 671.6,434.2 672.6,434.1 673.6,434.2 674.6,434.3 675.6,434.2 676.6,433.4 677.6,432.5 678.6,431.6 679.6,431.2 680.6,430.6 681.6,429.8 682.6,429.3 683.6,429 684.6,428.7 685.6,428.1 686.6,427.1 687.6,426.6 688.6,426.1 689.6,425 690.6,424.9 691.6,424.7 692.6,423 693.6,422.8 694.6,422.9 695.6,422.6 696.6,422.5 697.6,421.4 698.6,421.8 699.6,422.1 700.6,421 701.6,419.6 702.6,418.6 703.6,417.7 704.6,417.2 705.6,416.1 706.6,415.7 707.6,415.4 708.6,414.1 709.6,413.3 710.6,412.7 711.6,412.2 712.6,412.3 713.6,411.4 714.6,409.9 715.6,409.4 716.6,408.9 717.6,408.6 718.6,408.4 719.6,408.3 720.6,408.2 721.6,407.8 722.6,407.7 723.6,407.3 724.6,406.6 725.6,405.3 726.6,404 727.6,403.5 728.6,404.1 729.6,404.7 730.6,404.7 731.6,403.4 732.6,401.4 733.6,400 734.6,399.4 735.6,399.1 736.6,399.1 737.6,397.9 738.6,396 739.6,395.5 740.6,396 741.6,395.4 742.6,394.6 743.6,394.3 744.6,393.1 745.6,392 746.6,390.8 747.6,390.1 748.6,390.4 749.6,389.6 750.6,389 751.6,389.1 752.6,389.4 753.6,388.8 754.6,387.4 755.6,386.1 756.6,385.6 757.6,385.3 758.6,385.8 759.6,386 760.6,386.1 761.6,386.4 762.6,385.5 763.6,384.2 764.6,383.1 765.6,382.6 766.6,382.8 767.6,381.9 768.6,380.8 769.6,382.9 770.6,382.6 771.6,380.1 772.6,378.5 773.6,376.4 774.6,376.4 775.6,377.7 776.6,376.5 777.6,374.7 778.6,374.4 779.6,373.2 780.6,370.9 781.6,369.7 782.6,370.5 783.6,371.9 784.6,372.1 785.6,371.7 786.6,371.6 787.6,370.4 788.6,368.1 789.6,365.8 790.6,365.7 791.6,367 792.6,367.2 793.6,367.4 794.6,366.5 795.6,365.6 796.6,366.6 797.6,367.4 798.6,365.2 799.6,363.7 800.6,364.9 801.6,365.7 802.6,364.8 803.6,363.7 804.6,363.6 805.6,362.2 806.6,360.9 807.6,361.1 808.6,362.1 809.6,363 810.6,362.8 811.6,362.2 812.6,362.1 813.6,361.6 814.6,360.3 815.6,357.9 816.6,357.2 817.6,358 818.6,357.3 819.6,357.2 820.6,357.4 821.6,357 822.6,357.3 823.6,357 824.6,355.5 825.6,357.5 826.6,359.1 827.6,357.4 828.6,356.4 829.6,357.1 830.6,356.7 831.6,354.4 832.6,353.7 833.6,354 834.6,354.3 835.6,354.2 836.6,355.9 837.6,355.9 838.6,352.5 839.6,350.9 840.6,350.6 841.6,350.7 842.6,350.4 843.6,350.5 844.6,352.6 845.6,353.3 846.6,350.7 847.6,350 848.6,349.8 849.6,349.8 850.6,349.7 851.6,351 852.6,353.5 853.6,350.5 854.6,349.2 855.6,349.2 856.6,346.8 857.6,346.9 858.6,347.3 859.6,346.1 860.6,346.7 861.6,349 862.6,349.5 863.6,347.8 864.6,346.1 865.6,347.6 866.6,348.5 867.6,349.2 868.6,349.5 869.6,348.8 870.6,348.3 871.6,348.8 872.6,349.7 873.6,348.7 874.6,346.8 875.6,346.6 876.6,349.3 877.6,354 878.6,350.6 879.6,346.6 880.6,347.7 881.6,349.3 882.6,347.9 883.6,344.8 884.6,349.5 885.6,352.5 886.6,354 887.6,353.2 888.6,351 889.6,348.5 890.6,347.2 891.6,349.4 892.6,352.3 893.6,353.4 894.6,352.9 895.6,353.9 896.6,353.9 897.6,352.6 898.6,351.3 899.6,352.6 900.6,354.4 901.6,356.3 902.6,359.4 903.6,358.3 904.6,357.1 905.6,358.3 906.6,359 907.6,359.8 908.6,360 909.6,358.8 910.6,357.8 911.6,358.9 912.6,361.5 913.6,362.5 914.6,363.4 915.6,366.5 916.6,365.2 917.6,363.3 918.6,363.5 919.6,364.9 920.6,366.9 921.6,366.5 922.6,365.2 923.6,364.9 924.6,366.3 925.6,368.4 926.6,369.3 927.6,369.2 928.6,369.3 929.6,368.9 930.6,367.5 931.6,370.1 932.6,374 933.6,374.7 934.6,373.7 935.6,373.9 936.6,374.9 937.6,374.5 938.6,374 939.6,375.1 940.6,377.1 941.6,378.6 942.6,380.1 943.6,383.6 944.6,384.3 945.6,382.6 946.6,382.8 947.6,383.7 948.6,385.3 949.6,386.6 950.6,387.1 951.6,387.4 952.6,387.2 953.1,387" fill="none" stroke="#00ff00" stroke-width="2.75" stroke-linejoin="round" stroke-linecap="butt" />
<polyline points="183.6,508.1 184.6,508.5 185.6,508.8 186.6,509 187.6,509.2 188.6,509.3 189.6,509.5 190.6,509.8 191.6,510.2 192.6,510.6 193.6,511 194.6,511.3 195.6,511.6 196.6,511.8 197.6,512 198.6,512.3 199.6,512.6 200.6,512.8 201.6,513 202.6,513.4 203.6,513.8 204.6,513.9 205.6,513.9 206.6,514.1 207.6,514.3 208.6,514.8 209.6,515.1 210.6,515.4 211.6,515.8 212.6,516 213.6,516 214.6,516.2 215.6,516.5 216.6,516.7 217.6,516.8 218.6,517.1 219.6,517.4 220.6,517.6 221.6,517.7 222.6,518 223.6,518.2 224.6,518.3 225.6,518.5 226.6,518.8 227.6,518.8 228.6,518.8 229.6,518.9 230.6,519 231.6,519.2 232.6,519.5 233.6,519.6 234.6,519.7 235.6,519.9 236.6,520.2 237.6,520.4 238.6,520.5 239.6,520.7 240.6,520.7 241.6,520.7 242.6,520.9 243.6,521.2 244.6,521.5 245.6,521.6 246.6,521.6 247.6,521.5 248.6,521.6 249.6,521.7 250.6,521.8 251.6,521.9 252.6,522.2 253.6,522.4 254.6,522.5 255.6,522.5 256.6,522.5 257.6,522.5 258.6,522.8 259.6,523.1 260.6,523.2 261.6,523.2 262.6,523.3 263.6,523.4 264.6,523.5 265.6,523.5 266.6,523.5 267.6,523.5 268.6,523.4 269.6,523.3 270.6,523.4 271.6,523.5 272.6,523.6 273.6,523.6 274.6,523.7 275.6,523.8 276.6,523.7 277.6,523.7 278.6,523.9 279.6,523.9 280.6,523.7 281.6,523.4 282.6,523.5 283.6,523.6 284.6,523.7 285.6,523.6 286.6,523.4 287.6,523.3 288.6,523.3 289.6,523.3 290.6,523.2 291.6,523 292.6,522.7 293.6,522.4 294.6,522.2 295.6,522.2 296.6,522.1 297.6,522.2 298.6,522.2 299.6,521.9 300.6,521.6 301.6,521.4 302.6,521.4 303.6,521.4 304.6,521.2 305.6,521 306.6,520.6 307.6,520.2 308.6,520.1 309.6,520 310.6,519.9 311.6,519.7 312.6,519.4 313.6,519.2 314.6,519 315.6,518.5 316.6,518.1 317.6,517.8 318.6,517.4 319.6,517.1 320.6,516.9 321.6,516.4 322.6,515.8 323.6,515.4 324.6,515 325.6,514.5 326.6,514.1 327.6,513.6 328.6,513.2 329.6,512.7 330.6,512.1 331.6,511.6 332.6,511.1 333.6,510.6 334.6,510.1 335.6,509.4 336.6,508.7 337.6,508 338.6,507.2 339.6,506.4 340.6,505.8 341.6,505.1 342.6,504.2 343.6,503.4 344.6,502.6 345.6,501.7 346.6,500.7 347.6,499.8 348.6,498.7 349.6,497.5 350.6,496.3 351.6,494.9 352.6,493.5 353.6,492.1 354.6,490.4 355.6,488.8 356.6,487.1 357.6,485.4 358.6,483.7 359.6,482.1 360.6,480.3 361.6,478.3 362.6,476.4 363.6,474.5 364.6,472.4 365.6,470.3 366.6,468.4 367.6,466.4 368.6,464.3 369.6,462.2 370.6,460 371.6,457.6 372.6,455.2 373.6,452.8 374.6,450.5 375.6,448.2 376.6,445.9 377.6,443.5 378.6,441.3 379.6,439.2 380.6,436.9 381.6,434.4 382.6,432 383.6,429.7 384.6,427.4 385.6,425.1 386.6,422.7 387.6,420.3 388.6,418 389.6,415.6 390.6,413.4 391.6,411.1 392.6,408.9 393.6,406.7 394.6,404.4 395.6,402 396.6,399.4 397.6,396.8 398.6,394.3 399.6,391.8 400.6,389.3 401.6,386.9 402.6,384.2 403.6,381.4 404.6,379 405.6,376.8 406.6,374.6 407.6,372.1 408.6,369.8 409.6,368.2 410.6,366.8 411.6,364.9 412.6,363.1 413.6,361.4 414.6,359.7 415.6,358.6 416.6,357.6 417.6,356.4 418.6,355.2 419.6,353.8 420.6,352.6 421.6,351.5 422.6,350.8 423.6,350.1 424.6,348.9 425.6,347.6 426.6,346.5 427.6,345.8 428.6,345.3 429.6,344.2 430.6,343.5 431.6,343.1 432.6,342.9 433.6,342.5 434.6,341.7 435.6,341.6 436.6,341.4 437.6,340.9 438.6,340.7 439.6,341 440.6,341 441.6,340.4 442.6,340.3 443.6,340.9 444.6,341.2 445.6,340.8 446.6,340.7 447.6,341.4 448.6,341.9 449.6,342.3 450.6,342.4 451.6,342.7 452.6,343.4 453.6,344.4 454.6,344.8 455.6,344.9 456.6,345.8 457.6,347.2 458.6,347.9 459.6,348.6 460.6,349.9 461.6,351.2 462.6,352.5 463.6,353.7 464.6,355.1 465.6,356.6 466.6,358.2 467.6,359.7 468.6,361.4 469.6,363.3 470.6,365.4 471.6,367 472.6,368.6 473.6,370.5 474.6,372.5 475.6,374.5 476.6,376.4 477.6,378.5 478.6,380.2 479.6,381.7 480.6,383.5 481.6,385.6 482.6,387.5 483.6,389.1 484.6,390.6 485.6,392.6 486.6,395.2 487.6,397.7 488.6,399.6 489.6,401.4 490.6,403.6 491.6,405.7 492.6,407.9 493.6,410 494.6,411.9 495.6,413.8 496.6,415.7 497.6,418 498.6,420.6 499.6,423.4 500.6,426.1 501.6,428.6 502.6,430.9 503.6,433.2 504.6,435.7 505.6,438.3 506.6,440.9 507.6,443.4 508.6,445.8 509.6,448.5 510.6,451.2 511.6,454 512.6,457 513.6,459.7 514.6,461.8 515.6,463.9 516.6,466.3 517.6,469 518.6,471.5 519.6,473.9 520.6,476.8 521.6,479.4 522.6,481.6 523.6,483.8 524.6,486.2 525.6,488.5 526.6,490.7 527.6,493.3 528.6,496 529.6,498.1 530.6,500.1 531.6,502 532.6,504 533.6,506.3 534.6,508.5 535.6,510.5 536.6,512.8 537.6,515.2 538.6,516.9 539.6,518.2 540.6,520.2 541.6,522.2 542.6,524.3 543.6,526.3 544.6,528 545.6,529.6 546.6,531.4 547.6,533.3 548.6,535.2 549.6,537 550.6,538.9 551.6,540.8 552.6,542.5 553.6,544.1 554.6,545.8 555.6,547.8 556.6,549.7 557.6,551.4 558.6,553.1 559.6,554.8 560.6,556.6 561.6,558.3 562.6,559.9 563.6,561.5 564.6,563.1 565.6,564.7 566.6,566.2 567.6,567.8 568.6,569.5 569.6,571.2 570.6,572.8 571.6,574.3 572.6,575.7 573.6,577 574.6,578.3 575.6,579.9 576.6,581.5 577.6,582.9 578.6,584.3 579.6,585.6 580.6,586.9 581.6,588.1 582.6,589.5 583.6,590.9 584.6,592.2 585.6,593.5 586.6,594.7 587.6,595.9 588.6,597.1 589.6,598.4 590.6,599.7 591.6,600.8 592.6,602.2 593.6,603.6 594.6,604.6 595.6,605.5 596.6,606.8 597.6,608 598.6,609.1 599.6,610.1 600.6,611.1 601.6,612.2 602.6,613.3 603.6,614.1 604.6,614.8 605.6,615.7 606.6,616.6 607.6,617.5 608.6,618.3 609.6,619 610.6,619.6 611.6,620.4 612.6,621.2 613.6,621.8 614.6,622.4 615.6,623.1 616.6,623.8 617.6,624.4 618.6,625.1 619.6,625.8 620.6,626.4 621.6,627 622.6,627.6 623.6,628.3 624.6,628.9 625.6,629.4 626.6,630 627.6,630.7 628.6,631.5 629.6,632.2 630.6,632.8 631.6,633.4 632.6,634.1 633.6,634.9 634.6,635.5 635.6,636 636.6,636.3 637.6,636.9 638.6,637.6 639.6,638.2 640.6,638.7 641.6,639.2 642.6,639.7 643.6,640.3 644.6,640.9 645.6,641.4 646.6,641.8 647.6,642.3 648.6,642.9 649.6,643.5 650.6,644.1 651.6,644.5 652.6,644.9 653.6,645.2 654.6,645.5 655.6,646.1 656.6,646.6 657.6,647 658.6,647.4 659.6,647.7 660.6,648.2 661.6,648.9 662.6,649.3 663.6,649.5 664.6,649.9 665.6,650.4 666.6,650.8 667.6,651.3 668.6,651.6 669.6,651.8 670.6,652.4 671.6,652.8 672.6,653 673.6,653.4 674.6,653.8 675.6,654.1 676.6,654.3 677.6,654.5 678.6,655 679.6,655.6 680.6,656.1 681.6,656.4 682.6,656.5 683.6,656.6 684.6,656.9 685.6,657.2 686.6,657.4 687.6,657.7 688.6,657.9 689.6,658.4 690.6,659 691.6,659.5 692.6,659.7 693.6,659.9 694.6,660.1 695.6,660.3 696.6,660.5 697.6,660.9 698.6,661.4 699.6,661.7 700.6,661.9 701.6,662.2 702.6,662.6 703.6,662.9 704.6,663.1 705.6,663.3 706.6,663.5 707.6,663.9 708.6,664.3 709.6,664.4 710.6,664.6 711.6,665 712.6,665.3 713.6,665.7 714.6,666 715.6,666.3 716.6,666.7 717.6,666.9 718.6,667 719.6,667 720.6,667.3 721.6,667.8 722.6,668.2 723.6,668.6 724.6,668.8 725.6,668.9 726.6,669 727.6,669.3 728.6,669.4 729.6,669.6 730.6,669.8 731.6,670.1 732.6,670.3 733.6,670.5 734.6,670.7 735.6,671 736.6,671.2 737.6,671.4 738.6,671.6 739.6,671.9 740.6,672.2 741.6,672.4 742.6,672.6 743.6,672.7 744.6,672.8 745.6,673.2 746.6,673.5 747.6,673.7 748.6,673.9 749.6,674 750.6,674.2 751.6,674.5 752.6,674.8 753.6,675.1 754.6,675.2 755.6,675.5 756.6,675.6 757.6,675.6 758.6,675.7 759.6,676.1 760.6,676.4 761.6,676.7 762.6,676.9 763.6,677 764.6,676.9 765.6,677 766.6,677.4 767.6,677.7 768.6,678 769.6,678.1 770.6,678.3 771.6,678.8 772.6,679 773.6,679 774.6,679 775.6,679.1 776.6,679.3 777.6,679.5 778.6,679.7 779.6,680 780.6,680.3 781.6,680.4 782.6,680.6 783.6,680.8 784.6,680.8 785.6,680.8 786.6,681 787.6,681.4 788.6,681.7 789.6,681.8 790.6,681.9 791.6,682.1 792.6,682.3 793.6,682.4 794.6,682.5 795.6,682.7 796.6,682.9 797.6,683 798.6,683.1 799.6,683.4 800.6,683.6 801.6,683.8 802.6,684.1 803.6,684.3 804.6,684.4 805.6,684.4 806.6,684.5 807.6,684.7 808.6,685 809.6,685.3 810.6,685.4 811.6,685.3 812.6,685.3 813.6,685.7 814.6,685.9 815.6,686 816.6,686.2 817.6,686.4 818.6,686.4 819.6,686.5 820.6,686.7 821.6,686.8 822.6,687 823.6,687.4 824.6,687.5 825.6,687.3 826.6,687.4 827.6,687.6 828.6,687.9 829.6,687.9 830.6,687.9 831.6,688 832.6,688.2 833.6,688.5 834.6,688.8 835.6,689 836.6,689 837.6,689.1 838.6,689.3 839.6,689.3 840.6,689.6 841.6,689.9 842.6,690 843.6,690 844.6,690 845.6,690 846.6,690.1 847.6,690.4 848.6,690.8 849.6,691 850.6,691.4 851.6,691.2 852.6,691 853.6,691 854.6,691.2 855.6,691.4 856.6,691.5 857.6,691.6 858.6,691.3 859.6,691.1 860.6,691.2 861.6,691.3 862.6,691.7 863.6,692.3 864.6,692.5 865.6,692.7 866.6,693.1 867.6,693.1 868.6,693.1 869.6,693.3 870.6,693.3 871.6,693.3 872.6,693.2 873.6,693 874.6,693.1 875.6,693.5 876.6,693.8 877.6,693.8 878.6,694 879.6,694.4 880.6,694.7 881.6,694.8 882.6,694.7 883.6,694.5 884.6,694.5 885.6,694.6 886.6,694.7 887.6,694.9 888.6,695.2 889.6,695.1 890.6,695.1 891.6,695.5 892.6,695.9 893.6,695.9 894.6,695.9 895.6,695.7 896.6,695.6 897.6,695.7 898.6,696.1 899.6,696.4 900.6,696.4 901.6,696.5 902.6,696.4 903.6,696.5 904.6,696.8 905.6,697 906.6,696.8 907.6,696.6 908.6,696.8 909.6,697.2 910.6,697.6 911.6,697.5 912.6,697.3 913.6,697.1 914.6,697.1 915.6,697.3 916.6,697.7 917.6,697.9 918.6,697.9 919.6,697.8 920.6,698 921.6,698.2 922.6,697.9 923.6,697.8 924.6,698 925.6,698.1 926.6,698.4 927.6,698.6 928.6,698.7 929.6,698.8 930.6,699 931.6,699.3 932.6,699.4 933.6,699.1 934.6,698.9 935.6,699 936.6,699.3 937.6,699.5 938.6,699.3 939.6,699.3 940.6,699.2 941.6,699.1 942.6,699.4 943.6,700 944.6,700.1 945.6,699.9 946.6,699.9 947.6,699.9 948.6,699.7 949.6,700.2 950.6,700.6 951.6,700.4 952.6,700.4 953.1,700.4" fill="none" stroke="#7f00ff" stroke-width="2.75" stroke-linejoin="round" stroke-linecap="butt" />
<polyline points="183.6,463.4 184.6,463.7 185.6,463.9 186.6,464.1 187.6,464.4 188.6,464.7 189.6,465 190.6,465.1 191.6,465.3 192.6,465.6 193.6,466 194.6,466.3 195.6,466.6 196.6,466.9 197.6,467.2 198.6,467.5 199.6,467.7 200.6,467.9 201.6,468.3 202.6,468.6 203.6,468.8 204.6,469.1 205.6,469.4 206.6,469.6 207.6,469.8 208.6,470.1 209.6,470.5 210.6,470.9 211.6,471.2 212.6,471.4 213.6,471.6 214.6,471.8 215.6,472 216.6,472.3 217.6,472.7 218.6,473 219.6,473.2 220.6,473.4 221.6,473.7 222.6,473.9 223.6,474.1 224.6,474.4 225.6,474.6 226.6,475 227.6,475.3 228.6,475.5 229.6,475.8 230.6,476 231.6,476.2 232.6,476.4 233.6,476.7 234.6,477 235.6,477.3 236.6,477.6 237.6,477.8 238.6,477.9 239.6,478.1 240.6,478.5 241.6,478.9 242.6,479.2 243.6,479.5 244.6,479.7 245.6,479.9 246.6,480 247.6,480.1 248.6,480.3 249.6,480.6 250.6,480.9 251.6,481.2 252.6,481.4 253.6,481.6 254.6,481.8 255.6,482 256.6,482.2 257.6,482.4 258.6,482.5 259.6,482.7 260.6,483 261.6,483.2 262.6,483.4 263.6,483.6 264.6,483.9 265.6,484 266.6,484.1 267.6,484.3 268.6,484.5 269.6,484.8 270.6,485.1 271.6,485.3 272.6,485.5 273.6,485.7 274.6,485.9 275.6,486.1 276.6,486.2 277.6,486.4 278.6,486.7 279.6,487 280.6,487.2 281.6,487.3 282.6,487.5 283.6,487.9 284.6,488.2 285.6,488.3 286.6,488.3 287.6,488.4 288.6,488.6 289.6,488.7 290.6,488.8 291.6,489 292.6,489.1 293.6,489.1 294.6,488.9 295.6,488.9 296.6,488.9 297.6,488.8 298.6,488.9 299.6,489 300.6,489 301.6,489 302.6,489.2 303.6,489.4 304.6,489.4 305.6,489.4 306.6,489.4 307.6,489.4 308.6,489.6 309.6,489.7 310.6,489.9 311.6,490 312.6,490 313.6,490 314.6,490 315.6,489.8 316.6,489.8 317.6,489.8 318.6,489.9 319.6,489.9 320.6,490 321.6,490 322.6,490 323.6,489.8 324.6,489.7 325.6,489.6 326.6,489.5 327.6,489.3 328.6,489.2 329.6,489.1 330.6,489 331.6,488.9 332.6,488.7 333.6,488.4 334.6,488.2 335.6,488 336.6,487.8 337.6,487.5 338.6,487.3 339.6,487.1 340.6,486.7 341.6,486.3 342.6,485.9 343.6,485.7 344.6,485.3 345.6,484.9 346.6,484.5 347.6,484.1 348.6,483.6 349.6,483.1 350.6,482.4 351.6,481.7 352.6,481.1 353.6,480.4 354.6,479.7 355.6,478.9 356.6,478.1 357.6,477.2 358.6,476.2 359.6,475.2 360.6,474.3 361.6,473.4 362.6,472.4 363.6,471.3 364.6,470.2 365.6,469.1 366.6,468 367.6,466.8 368.6,465.5 369.6,464.3 370.6,463.2 371.6,462.1 372.6,460.8 373.6,459.5 374.6,458.1 375.6,456.8 376.6,455.6 377.6,454.4 378.6,453.1 379.6,451.8 380.6,450.5 381.6,449.1 382.6,447.6 383.6,446.2 384.6,444.8 385.6,443.5 386.6,442 387.6,440.7 388.6,439.5 389.6,438.1 390.6,436.6 391.6,435.3 392.6,434.1 393.6,432.8 394.6,431.5 395.6,430.3 396.6,429.1 397.6,428 398.6,426.8 399.6,425.5 400.6,424.4 401.6,423.4 402.6,422.5 403.6,421.4 404.6,420.4 405.6,419.4 406.6,418.3 407.6,417.3 408.6,416.3 409.6,415.4 410.6,414.6 411.6,413.8 412.6,412.9 413.6,412 414.6,411.2 415.6,410.6 416.6,409.9 417.6,409.3 418.6,408.6 419.6,408 420.6,407.6 421.6,407 422.6,406.5 423.6,406 424.6,405.5 425.6,405.1 426.6,404.8 427.6,404.5 428.6,404.1 429.6,403.6 430.6,403.3 431.6,403.1 432.6,403 433.6,403 434.6,402.8 435.6,402.7 436.6,402.5 437.6,402.4 438.6,402.3 439.6,402.3 440.6,402.2 441.6,402.1 442.6,402.2 443.6,402.4 444.6,402.5 445.6,402.6 446.6,402.7 447.6,403 448.6,403.3 449.6,403.5 450.6,403.7 451.6,403.9 452.6,404.4 453.6,404.8 454.6,405.3 455.6,406 456.6,406.5 457.6,407 458.6,407.6 459.6,408.2 460.6,408.7 461.6,409.3 462.6,409.8 463.6,410.3 464.6,411 465.6,411.7 466.6,412.5 467.6,413.1 468.6,413.7 469.6,414.5 470.6,415.3 471.6,416 472.6,416.8 473.6,417.4 474.6,418 475.6,418.8 476.6,419.5 477.6,420.3 478.6,421.1 479.6,421.9 480.6,422.5 481.6,423.2 482.6,423.9 483.6,424.4 484.6,425 485.6,425.7 486.6,426.4 487.6,427.1 488.6,427.7 489.6,428.4 490.6,429 491.6,429.6 492.6,430 493.6,430.6 494.6,431.3 495.6,431.9 496.6,432.3 497.6,432.8 498.6,433.3 499.6,433.8 500.6,434.4 501.6,434.9 502.6,435.5 503.6,435.9 504.6,436.4 505.6,436.8 506.6,437.3 507.6,437.9 508.6,438.3 509.6,438.8 510.6,439.2 511.6,439.6 512.6,439.9 513.6,440.4 514.6,440.8 515.6,441.3 516.6,441.7 517.6,442 518.6,442.4 519.6,442.7 520.6,443 521.6,443.3 522.6,443.4 523.6,443.6 524.6,443.8 525.6,444.1 526.6,444.4 527.6,444.7 528.6,444.8 529.6,444.6 530.6,444.6 531.6,444.8 532.6,445.1 533.6,445.3 534.6,445.3 535.6,445.3 536.6,445.4 537.6,445.4 538.6,445.6 539.6,445.9 540.6,446 541.6,445.8 542.6,445.6 543.6,445.5 544.6,445.6 545.6,445.6 546.6,445.5 547.6,445.4 548.6,445.3 549.6,445.3 550.6,445.3 551.6,445.3 552.6,445 553.6,444.5 554.6,444.2 555.6,444.1 556.6,444.1 557.6,444.2 558.6,444 559.6,443.8 560.6,443.6 561.6,443.3 562.6,442.9 563.6,442.8 564.6,442.9 565.6,443 566.6,442.8 567.6,442.9 568.6,442.8 569.6,442.4 570.6,442 571.6,441.8 572.6,441.7 573.6,441.6 574.6,441.4 575.6,441.3 576.6,441.1 577.6,440.7 578.6,440.2 579.6,439.8 580.6,439.4 581.6,439 582.6,438.7 583.6,438.4 584.6,438.1 585.6,437.9 586.6,437.1 587.6,436.5 588.6,436 589.6,435.3 590.6,434.7 591.6,434.3 592.6,434 593.6,434 594.6,433.9 595.6,433.8 596.6,433.4 597.6,432.9 598.6,432.2 599.6,431.5 600.6,431.1 601.6,430.4 602.6,430 603.6,430 604.6,429.5 605.6,428.9 606.6,428.4 607.6,427.6 608.6,426.6 609.6,425.9 610.6,425.4 611.6,425.1 612.6,424.8 613.6,424.7 614.6,424 615.6,422.9 616.6,422.2 617.6,421.5 618.6,421.3 619.6,420.9 620.6,419.9 621.6,418.8 622.6,418.5 623.6,418.4 624.6,418.1 625.6,417.3 626.6,416.2 627.6,415.5 628.6,414.9 629.6,414.5 630.6,414.2 631.6,413.5 632.6,412.6 633.6,411.7 634.6,410.6 635.6,410.1 636.6,410.1 637.6,409.4 638.6,408.3 639.6,407.9 640.6,408.3 641.6,408.6 642.6,408.1 643.6,406.8 644.6,405.3 645.6,405 646.6,405.1 647.6,404.6 648.6,403.9 649.6,403.5 650.6,403.5 651.6,402.8 652.6,401.1 653.6,400.2 654.6,400.1 655.6,399.2 656.6,398.8 657.6,398 658.6,396.2 659.6,395 660.6,394.2 661.6,393.6 662.6,393.2 663.6,392.8 664.6,391.4 665.6,390 666.6,389 667.6,387.7 668.6,386.9 669.6,386.4 670.6,384.6 671.6,383.1 672.6,382 673.6,380.4 674.6,379.4 675.6,379.4 676.6,378.5 677.6,377.3 678.6,376.3 679.6,375.1 680.6,374.4 681.6,374.9 682.6,375.3 683.6,374.1 684.6,372.1 685.6,370.1 686.6,369 687.6,368.4 688.6,368.1 689.6,367.3 690.6,366.2 691.6,365.1 692.6,363.5 693.6,362.5 694.6,361.9 695.6,360.5 696.6,359.4 697.6,358.9 698.6,358.5 699.6,358.4 700.6,358.1 701.6,356.9 702.6,355.6 703.6,354.7 704.6,353.3 705.6,351.5 706.6,350.6 707.6,349.3 708.6,348.2 709.6,347.9 710.6,347.6 711.6,347.3 712.6,345.9 713.6,343.6 714.6,343.8 715.6,344.7 716.6,344.1 717.6,342.6 718.6,340.1 719.6,337.6 720.6,337 721.6,337.6 722.6,337 723.6,335.1 724.6,333.9 725.6,332.7 726.6,331.1 727.6,331.4 728.6,332.8 729.6,332.4 730.6,330.7 731.6,329.3 732.6,326.8 733.6,324.2 734.6,323.2 735.6,323.9 736.6,324.4 737.6,324.5 738.6,322.8 739.6,320.2 740.6,318.3 741.6,316.6 742.6,315.8 743.6,315.5 744.6,314.1 745.6,315 746.6,314.8 747.6,313 748.6,312.1 749.6,311.8 750.6,311.3 751.6,310.5 752.6,309.7 753.6,307.4 754.6,305.1 755.6,302.9 756.6,301 757.6,301.6 758.6,303.1 759.6,303.9 760.6,301.7 761.6,298.3 762.6,296.5 763.6,296.6 764.6,297.3 765.6,296.5 766.6,295.3 767.6,295.7 768.6,295.4 769.6,293.3 770.6,291.1 771.6,288.3 772.6,287.2 773.6,287.9 774.6,286 775.6,285.2 776.6,285.7 777.6,285.5 778.6,286.3 779.6,285.9 780.6,283.1 781.6,281.4 782.6,282.4 783.6,282.5 784.6,281.7 785.6,281.5 786.6,281.6 787.6,279.7 788.6,277 789.6,274.6 790.6,274 791.6,274.2 792.6,274.6 793.6,274.4 794.6,274.2 795.6,274.2 796.6,272.3 797.6,271.2 798.6,270.8 799.6,270.1 800.6,270.7 801.6,270.9 802.6,270.6 803.6,270.9 804.6,268.9 805.6,264 806.6,261.9 807.6,262.7 808.6,263 809.6,263.5 810.6,263.5 811.6,262.8 812.6,261.8 813.6,260.4 814.6,259.7 815.6,261.6 816.6,260.9 817.6,259.4 818.6,259.3 819.6,260.3 820.6,259.8 821.6,258.3 822.6,257.5 823.6,259.2 824.6,260 825.6,260 826.6,259.5 827.6,258 828.6,257.4 829.6,257.8 830.6,257.3 831.6,256.2 832.6,255.6 833.6,255.7 834.6,256.8 835.6,257.2 836.6,257.2 837.6,256.7 838.6,254.7 839.6,255.3 840.6,262.1 841.6,261.5 842.6,254.6 843.6,254.1 844.6,258.2 845.6,263 846.6,258.9 847.6,252.9 848.6,252.8 849.6,255.6 850.6,255.9 851.6,257.8 852.6,262.2 853.6,260 854.6,259 855.6,260.5 856.6,261.3 857.6,260.4 858.6,259.5 859.6,262.2 860.6,267.4 861.6,268 862.6,267.2 863.6,266.7 864.6,267.1 865.6,267.5 866.6,268.8 867.6,268.1 868.6,267.3 869.6,270.4 870.6,271.6 871.6,271.6 872.6,271.8 873.6,274.1 874.6,278.6 875.6,281.8 876.6,280.1 877.6,277.6 878.6,278.2 879.6,282.3 880.6,281.7 881.6,279.7 882.6,281.1 883.6,280.3 884.6,283.5 885.6,287.3 886.6,287 887.6,287 888.6,287.6 889.6,289.5 890.6,292.6 891.6,294.9 892.6,296.1 893.6,296.9 894.6,297.8 895.6,298.9 896.6,300 897.6,302.9 898.6,306.4 899.6,307.9 900.6,308.3 901.6,310.2 902.6,313.6 903.6,314.9 904.6,312.7 905.6,314.8 906.6,319.9 907.6,322.2 908.6,323.3 909.6,325.3 910.6,327.9 911.6,330.8 912.6,331.6 913.6,331.9 914.6,333.5 915.6,335.9 916.6,337 917.6,337.2 918.6,338.3 919.6,339.4 920.6,342.4 921.6,343.2 922.6,342.9 923.6,345 924.6,347.4 925.6,350.4 926.6,352.5 927.6,353.1 928.6,354.2 929.6,355.8 930.6,356 931.6,357.9 932.6,362 933.6,365.2 934.6,366.7 935.6,367.1 936.6,367.8 937.6,370.1 938.6,372.6 939.6,373.7 940.6,374.7 941.6,376.1 942.6,378.9 943.6,382.4 944.6,384.2 945.6,384.6 946.6,386.1 947.6,388.9 948.6,391.3 949.6,392.5 950.6,393.5 951.6,394.4 952.6,396.9 953.1,400.7" fill="none" stroke="#007f7f" stroke-width="2.75" stroke-linejoin="round" stroke-linecap="butt" />
</g>
<line x1="506.8" y1="165" x2="555.1" y2="165" stroke="#ff0000" stroke-width="2.5" stroke-linecap="butt"/>
<text transform="translate(561.4,173.2) scale(0.896,1)" font-size="24" text-anchor="start" >Au alone (1)</text>
<line x1="506.8" y1="193.7" x2="555.1" y2="193.7" stroke="#000000" stroke-width="2.5" stroke-linecap="butt"/>
<text transform="translate(561.4,201.9) scale(0.896,1)" font-size="24" text-anchor="start" >Pesticide alone (2)</text>
<line x1="506.8" y1="222.4" x2="555.1" y2="222.4" stroke="#ff00ff" stroke-width="2.5" stroke-linecap="butt"/>
<text transform="translate(561.4,230.6) scale(0.896,1)" font-size="24" text-anchor="start" >Au+ACE+HCl (3)</text>
<line x1="506.8" y1="251.1" x2="555.1" y2="251.1" stroke="#00ff00" stroke-width="2.5" stroke-linecap="butt"/>
<text transform="translate(561.4,259.3) scale(0.896,1)" font-size="24" text-anchor="start" >Au+CBM+HCl (4)</text>
<line x1="506.8" y1="279.8" x2="555.1" y2="279.8" stroke="#7f00ff" stroke-width="2.5" stroke-linecap="butt"/>
<text transform="translate(561.4,288) scale(0.896,1)" font-size="24" text-anchor="start" >Au+THI+HCl (5)</text>
<line x1="506.8" y1="308.5" x2="555.1" y2="308.5" stroke="#007f7f" stroke-width="2.5" stroke-linecap="butt"/>
<text transform="translate(561.4,316.7) scale(0.896,1)" font-size="24" text-anchor="start" >Au+TRI+HCl (6)</text>
<text transform="translate(425.7,183.9) scale(0.925,1)" font-size="30" text-anchor="middle" >(1)</text>
<text transform="translate(418.5,729.9) scale(0.925,1)" font-size="30" text-anchor="middle" >(2)</text>
<text transform="translate(837.5,589.8) scale(0.925,1)" font-size="30" text-anchor="middle" >(3)</text>
<text transform="translate(838.4,333.2) scale(0.925,1)" font-size="30" text-anchor="middle" >(4)</text>
<text transform="translate(837.5,670.4) scale(0.925,1)" font-size="30" text-anchor="middle" >(5)</text>
<text transform="translate(838.4,235.6) scale(0.925,1)" font-size="30" text-anchor="middle" >(6)</text>
</g>
<g id="raman">
<line x1="1142.7" y1="0" x2="1142.7" y2="843.9" stroke="#000" stroke-width="2.4" stroke-linecap="butt"/>
<line x1="1719" y1="0" x2="1719" y2="843.9" stroke="#000" stroke-width="2.4" stroke-linecap="butt"/>
<line x1="1142.7" y1="1.2" x2="1719" y2="1.2" stroke="#000" stroke-width="2.4" stroke-linecap="butt"/>
<line x1="1142.7" y1="121.4" x2="1719" y2="121.4" stroke="#000" stroke-width="2.4" stroke-linecap="butt"/>
<line x1="1142.7" y1="241.6" x2="1719" y2="241.6" stroke="#000" stroke-width="2.4" stroke-linecap="butt"/>
<line x1="1142.7" y1="361.8" x2="1719" y2="361.8" stroke="#000" stroke-width="2.4" stroke-linecap="butt"/>
<line x1="1142.7" y1="482.1" x2="1719" y2="482.1" stroke="#000" stroke-width="2.4" stroke-linecap="butt"/>
<line x1="1142.7" y1="602.3" x2="1719" y2="602.3" stroke="#000" stroke-width="2.4" stroke-linecap="butt"/>
<line x1="1142.7" y1="722.5" x2="1719" y2="722.5" stroke="#000" stroke-width="2.4" stroke-linecap="butt"/>
<line x1="1142.7" y1="842.7" x2="1719" y2="842.7" stroke="#000" stroke-width="2.4" stroke-linecap="butt"/>
<line x1="1190.7" y1="1.2" x2="1190.7" y2="6.2" stroke="#000" stroke-width="2.4" stroke-linecap="butt"/>
<line x1="1190.7" y1="121.4" x2="1190.7" y2="116.4" stroke="#000" stroke-width="2.4" stroke-linecap="butt"/>
<line x1="1190.7" y1="241.6" x2="1190.7" y2="236.6" stroke="#000" stroke-width="2.4" stroke-linecap="butt"/>
<line x1="1190.7" y1="361.8" x2="1190.7" y2="356.8" stroke="#000" stroke-width="2.4" stroke-linecap="butt"/>
<line x1="1190.7" y1="482.1" x2="1190.7" y2="477.1" stroke="#000" stroke-width="2.4" stroke-linecap="butt"/>
<line x1="1190.7" y1="602.3" x2="1190.7" y2="597.3" stroke="#000" stroke-width="2.4" stroke-linecap="butt"/>
<line x1="1190.7" y1="722.5" x2="1190.7" y2="717.5" stroke="#000" stroke-width="2.4" stroke-linecap="butt"/>
<line x1="1190.7" y1="842.7" x2="1190.7" y2="837.7" stroke="#000" stroke-width="2.4" stroke-linecap="butt"/>
<line x1="1238.8" y1="1.2" x2="1238.8" y2="11.7" stroke="#000" stroke-width="2.4" stroke-linecap="butt"/>
<line x1="1238.8" y1="121.4" x2="1238.8" y2="110.9" stroke="#000" stroke-width="2.4" stroke-linecap="butt"/>
<line x1="1238.8" y1="241.6" x2="1238.8" y2="231.1" stroke="#000" stroke-width="2.4" stroke-linecap="butt"/>
<line x1="1238.8" y1="361.8" x2="1238.8" y2="351.3" stroke="#000" stroke-width="2.4" stroke-linecap="butt"/>
<line x1="1238.8" y1="482.1" x2="1238.8" y2="471.6" stroke="#000" stroke-width="2.4" stroke-linecap="butt"/>
<line x1="1238.8" y1="602.3" x2="1238.8" y2="591.8" stroke="#000" stroke-width="2.4" stroke-linecap="butt"/>
<line x1="1238.8" y1="722.5" x2="1238.8" y2="712" stroke="#000" stroke-width="2.4" stroke-linecap="butt"/>
<line x1="1238.8" y1="842.7" x2="1238.8" y2="832.2" stroke="#000" stroke-width="2.4" stroke-linecap="butt"/>
<line x1="1286.8" y1="1.2" x2="1286.8" y2="6.2" stroke="#000" stroke-width="2.4" stroke-linecap="butt"/>
<line x1="1286.8" y1="121.4" x2="1286.8" y2="116.4" stroke="#000" stroke-width="2.4" stroke-linecap="butt"/>
<line x1="1286.8" y1="241.6" x2="1286.8" y2="236.6" stroke="#000" stroke-width="2.4" stroke-linecap="butt"/>
<line x1="1286.8" y1="361.8" x2="1286.8" y2="356.8" stroke="#000" stroke-width="2.4" stroke-linecap="butt"/>
<line x1="1286.8" y1="482.1" x2="1286.8" y2="477.1" stroke="#000" stroke-width="2.4" stroke-linecap="butt"/>
<line x1="1286.8" y1="602.3" x2="1286.8" y2="597.3" stroke="#000" stroke-width="2.4" stroke-linecap="butt"/>
<line x1="1286.8" y1="722.5" x2="1286.8" y2="717.5" stroke="#000" stroke-width="2.4" stroke-linecap="butt"/>
<line x1="1286.8" y1="842.7" x2="1286.8" y2="837.7" stroke="#000" stroke-width="2.4" stroke-linecap="butt"/>
<line x1="1334.8" y1="1.2" x2="1334.8" y2="11.7" stroke="#000" stroke-width="2.4" stroke-linecap="butt"/>
<line x1="1334.8" y1="121.4" x2="1334.8" y2="110.9" stroke="#000" stroke-width="2.4" stroke-linecap="butt"/>
<line x1="1334.8" y1="241.6" x2="1334.8" y2="231.1" stroke="#000" stroke-width="2.4" stroke-linecap="butt"/>
<line x1="1334.8" y1="361.8" x2="1334.8" y2="351.3" stroke="#000" stroke-width="2.4" stroke-linecap="butt"/>
<line x1="1334.8" y1="482.1" x2="1334.8" y2="471.6" stroke="#000" stroke-width="2.4" stroke-linecap="butt"/>
<line x1="1334.8" y1="602.3" x2="1334.8" y2="591.8" stroke="#000" stroke-width="2.4" stroke-linecap="butt"/>
<line x1="1334.8" y1="722.5" x2="1334.8" y2="712" stroke="#000" stroke-width="2.4" stroke-linecap="butt"/>
<line x1="1334.8" y1="842.7" x2="1334.8" y2="832.2" stroke="#000" stroke-width="2.4" stroke-linecap="butt"/>
<line x1="1382.8" y1="1.2" x2="1382.8" y2="6.2" stroke="#000" stroke-width="2.4" stroke-linecap="butt"/>
<line x1="1382.8" y1="121.4" x2="1382.8" y2="116.4" stroke="#000" stroke-width="2.4" stroke-linecap="butt"/>
<line x1="1382.8" y1="241.6" x2="1382.8" y2="236.6" stroke="#000" stroke-width="2.4" stroke-linecap="butt"/>
<line x1="1382.8" y1="361.8" x2="1382.8" y2="356.8" stroke="#000" stroke-width="2.4" stroke-linecap="butt"/>
<line x1="1382.8" y1="482.1" x2="1382.8" y2="477.1" stroke="#000" stroke-width="2.4" stroke-linecap="butt"/>
<line x1="1382.8" y1="602.3" x2="1382.8" y2="597.3" stroke="#000" stroke-width="2.4" stroke-linecap="butt"/>
<line x1="1382.8" y1="722.5" x2="1382.8" y2="717.5" stroke="#000" stroke-width="2.4" stroke-linecap="butt"/>
<line x1="1382.8" y1="842.7" x2="1382.8" y2="837.7" stroke="#000" stroke-width="2.4" stroke-linecap="butt"/>
<line x1="1430.8" y1="1.2" x2="1430.8" y2="11.7" stroke="#000" stroke-width="2.4" stroke-linecap="butt"/>
<line x1="1430.8" y1="121.4" x2="1430.8" y2="110.9" stroke="#000" stroke-width="2.4" stroke-linecap="butt"/>
<line x1="1430.8" y1="241.6" x2="1430.8" y2="231.1" stroke="#000" stroke-width="2.4" stroke-linecap="butt"/>
<line x1="1430.8" y1="361.8" x2="1430.8" y2="351.3" stroke="#000" stroke-width="2.4" stroke-linecap="butt"/>
<line x1="1430.8" y1="482.1" x2="1430.8" y2="471.6" stroke="#000" stroke-width="2.4" stroke-linecap="butt"/>
<line x1="1430.8" y1="602.3" x2="1430.8" y2="591.8" stroke="#000" stroke-width="2.4" stroke-linecap="butt"/>
<line x1="1430.8" y1="722.5" x2="1430.8" y2="712" stroke="#000" stroke-width="2.4" stroke-linecap="butt"/>
<line x1="1430.8" y1="842.7" x2="1430.8" y2="832.2" stroke="#000" stroke-width="2.4" stroke-linecap="butt"/>
<line x1="1478.9" y1="1.2" x2="1478.9" y2="6.2" stroke="#000" stroke-width="2.4" stroke-linecap="butt"/>
<line x1="1478.9" y1="121.4" x2="1478.9" y2="116.4" stroke="#000" stroke-width="2.4" stroke-linecap="butt"/>
<line x1="1478.9" y1="241.6" x2="1478.9" y2="236.6" stroke="#000" stroke-width="2.4" stroke-linecap="butt"/>
<line x1="1478.9" y1="361.8" x2="1478.9" y2="356.8" stroke="#000" stroke-width="2.4" stroke-linecap="butt"/>
<line x1="1478.9" y1="482.1" x2="1478.9" y2="477.1" stroke="#000" stroke-width="2.4" stroke-linecap="butt"/>
<line x1="1478.9" y1="602.3" x2="1478.9" y2="597.3" stroke="#000" stroke-width="2.4" stroke-linecap="butt"/>
<line x1="1478.9" y1="722.5" x2="1478.9" y2="717.5" stroke="#000" stroke-width="2.4" stroke-linecap="butt"/>
<line x1="1478.9" y1="842.7" x2="1478.9" y2="837.7" stroke="#000" stroke-width="2.4" stroke-linecap="butt"/>
<line x1="1526.9" y1="1.2" x2="1526.9" y2="11.7" stroke="#000" stroke-width="2.4" stroke-linecap="butt"/>
<line x1="1526.9" y1="121.4" x2="1526.9" y2="110.9" stroke="#000" stroke-width="2.4" stroke-linecap="butt"/>
<line x1="1526.9" y1="241.6" x2="1526.9" y2="231.1" stroke="#000" stroke-width="2.4" stroke-linecap="butt"/>
<line x1="1526.9" y1="361.8" x2="1526.9" y2="351.3" stroke="#000" stroke-width="2.4" stroke-linecap="butt"/>
<line x1="1526.9" y1="482.1" x2="1526.9" y2="471.6" stroke="#000" stroke-width="2.4" stroke-linecap="butt"/>
<line x1="1526.9" y1="602.3" x2="1526.9" y2="591.8" stroke="#000" stroke-width="2.4" stroke-linecap="butt"/>
<line x1="1526.9" y1="722.5" x2="1526.9" y2="712" stroke="#000" stroke-width="2.4" stroke-linecap="butt"/>
<line x1="1526.9" y1="842.7" x2="1526.9" y2="832.2" stroke="#000" stroke-width="2.4" stroke-linecap="butt"/>
<line x1="1574.9" y1="1.2" x2="1574.9" y2="6.2" stroke="#000" stroke-width="2.4" stroke-linecap="butt"/>
<line x1="1574.9" y1="121.4" x2="1574.9" y2="116.4" stroke="#000" stroke-width="2.4" stroke-linecap="butt"/>
<line x1="1574.9" y1="241.6" x2="1574.9" y2="236.6" stroke="#000" stroke-width="2.4" stroke-linecap="butt"/>
<line x1="1574.9" y1="361.8" x2="1574.9" y2="356.8" stroke="#000" stroke-width="2.4" stroke-linecap="butt"/>
<line x1="1574.9" y1="482.1" x2="1574.9" y2="477.1" stroke="#000" stroke-width="2.4" stroke-linecap="butt"/>
<line x1="1574.9" y1="602.3" x2="1574.9" y2="597.3" stroke="#000" stroke-width="2.4" stroke-linecap="butt"/>
<line x1="1574.9" y1="722.5" x2="1574.9" y2="717.5" stroke="#000" stroke-width="2.4" stroke-linecap="butt"/>
<line x1="1574.9" y1="842.7" x2="1574.9" y2="837.7" stroke="#000" stroke-width="2.4" stroke-linecap="butt"/>
<line x1="1623" y1="1.2" x2="1623" y2="11.7" stroke="#000" stroke-width="2.4" stroke-linecap="butt"/>
<line x1="1623" y1="121.4" x2="1623" y2="110.9" stroke="#000" stroke-width="2.4" stroke-linecap="butt"/>
<line x1="1623" y1="241.6" x2="1623" y2="231.1" stroke="#000" stroke-width="2.4" stroke-linecap="butt"/>
<line x1="1623" y1="361.8" x2="1623" y2="351.3" stroke="#000" stroke-width="2.4" stroke-linecap="butt"/>
<line x1="1623" y1="482.1" x2="1623" y2="471.6" stroke="#000" stroke-width="2.4" stroke-linecap="butt"/>
<line x1="1623" y1="602.3" x2="1623" y2="591.8" stroke="#000" stroke-width="2.4" stroke-linecap="butt"/>
<line x1="1623" y1="722.5" x2="1623" y2="712" stroke="#000" stroke-width="2.4" stroke-linecap="butt"/>
<line x1="1623" y1="842.7" x2="1623" y2="832.2" stroke="#000" stroke-width="2.4" stroke-linecap="butt"/>
<line x1="1671" y1="1.2" x2="1671" y2="6.2" stroke="#000" stroke-width="2.4" stroke-linecap="butt"/>
<line x1="1671" y1="121.4" x2="1671" y2="116.4" stroke="#000" stroke-width="2.4" stroke-linecap="butt"/>
<line x1="1671" y1="241.6" x2="1671" y2="236.6" stroke="#000" stroke-width="2.4" stroke-linecap="butt"/>
<line x1="1671" y1="361.8" x2="1671" y2="356.8" stroke="#000" stroke-width="2.4" stroke-linecap="butt"/>
<line x1="1671" y1="482.1" x2="1671" y2="477.1" stroke="#000" stroke-width="2.4" stroke-linecap="butt"/>
<line x1="1671" y1="602.3" x2="1671" y2="597.3" stroke="#000" stroke-width="2.4" stroke-linecap="butt"/>
<line x1="1671" y1="722.5" x2="1671" y2="717.5" stroke="#000" stroke-width="2.4" stroke-linecap="butt"/>
<line x1="1671" y1="842.7" x2="1671" y2="837.7" stroke="#000" stroke-width="2.4" stroke-linecap="butt"/>
<line x1="1142.7" y1="106.4" x2="1147.6" y2="106.4" stroke="#000" stroke-width="2.4" stroke-linecap="butt"/>
<line x1="1719" y1="106.4" x2="1714.1" y2="106.4" stroke="#000" stroke-width="2.4" stroke-linecap="butt"/>
<line x1="1142.7" y1="91.4" x2="1152.9" y2="91.4" stroke="#000" stroke-width="2.4" stroke-linecap="butt"/>
<line x1="1719" y1="91.4" x2="1708.8" y2="91.4" stroke="#000" stroke-width="2.4" stroke-linecap="butt"/>
<line x1="1142.7" y1="76.4" x2="1147.6" y2="76.4" stroke="#000" stroke-width="2.4" stroke-linecap="butt"/>
<line x1="1719" y1="76.4" x2="1714.1" y2="76.4" stroke="#000" stroke-width="2.4" stroke-linecap="butt"/>
<line x1="1142.7" y1="61.4" x2="1152.9" y2="61.4" stroke="#000" stroke-width="2.4" stroke-linecap="butt"/>
<line x1="1719" y1="61.4" x2="1708.8" y2="61.4" stroke="#000" stroke-width="2.4" stroke-linecap="butt"/>
<line x1="1142.7" y1="46.4" x2="1147.6" y2="46.4" stroke="#000" stroke-width="2.4" stroke-linecap="butt"/>
<line x1="1719" y1="46.4" x2="1714.1" y2="46.4" stroke="#000" stroke-width="2.4" stroke-linecap="butt"/>
<line x1="1142.7" y1="31.4" x2="1152.9" y2="31.4" stroke="#000" stroke-width="2.4" stroke-linecap="butt"/>
<line x1="1719" y1="31.4" x2="1708.8" y2="31.4" stroke="#000" stroke-width="2.4" stroke-linecap="butt"/>
<line x1="1142.7" y1="16.4" x2="1147.6" y2="16.4" stroke="#000" stroke-width="2.4" stroke-linecap="butt"/>
<line x1="1719" y1="16.4" x2="1714.1" y2="16.4" stroke="#000" stroke-width="2.4" stroke-linecap="butt"/>
<line x1="1142.7" y1="226.3" x2="1147.6" y2="226.3" stroke="#000" stroke-width="2.4" stroke-linecap="butt"/>
<line x1="1719" y1="226.3" x2="1714.1" y2="226.3" stroke="#000" stroke-width="2.4" stroke-linecap="butt"/>
<line x1="1142.7" y1="210.9" x2="1152.9" y2="210.9" stroke="#000" stroke-width="2.4" stroke-linecap="butt"/>
<line x1="1719" y1="210.9" x2="1708.8" y2="210.9" stroke="#000" stroke-width="2.4" stroke-linecap="butt"/>
<line x1="1142.7" y1="195.6" x2="1147.6" y2="195.6" stroke="#000" stroke-width="2.4" stroke-linecap="butt"/>
<line x1="1719" y1="195.6" x2="1714.1" y2="195.6" stroke="#000" stroke-width="2.4" stroke-linecap="butt"/>
<line x1="1142.7" y1="180.2" x2="1152.9" y2="180.2" stroke="#000" stroke-width="2.4" stroke-linecap="butt"/>
<line x1="1719" y1="180.2" x2="1708.8" y2="180.2" stroke="#000" stroke-width="2.4" stroke-linecap="butt"/>
<line x1="1142.7" y1="164.9" x2="1147.6" y2="164.9" stroke="#000" stroke-width="2.4" stroke-linecap="butt"/>
<line x1="1719" y1="164.9" x2="1714.1" y2="164.9" stroke="#000" stroke-width="2.4" stroke-linecap="butt"/>
<line x1="1142.7" y1="149.5" x2="1152.9" y2="149.5" stroke="#000" stroke-width="2.4" stroke-linecap="butt"/>
<line x1="1719" y1="149.5" x2="1708.8" y2="149.5" stroke="#000" stroke-width="2.4" stroke-linecap="butt"/>
<line x1="1142.7" y1="134.2" x2="1147.6" y2="134.2" stroke="#000" stroke-width="2.4" stroke-linecap="butt"/>
<line x1="1719" y1="134.2" x2="1714.1" y2="134.2" stroke="#000" stroke-width="2.4" stroke-linecap="butt"/>
<line x1="1142.7" y1="346.8" x2="1147.6" y2="346.8" stroke="#000" stroke-width="2.4" stroke-linecap="butt"/>
<line x1="1719" y1="346.8" x2="1714.1" y2="346.8" stroke="#000" stroke-width="2.4" stroke-linecap="butt"/>
<line x1="1142.7" y1="331.8" x2="1152.9" y2="331.8" stroke="#000" stroke-width="2.4" stroke-linecap="butt"/>
<line x1="1719" y1="331.8" x2="1708.8" y2="331.8" stroke="#000" stroke-width="2.4" stroke-linecap="butt"/>
<line x1="1142.7" y1="316.8" x2="1147.6" y2="316.8" stroke="#000" stroke-width="2.4" stroke-linecap="butt"/>
<line x1="1719" y1="316.8" x2="1714.1" y2="316.8" stroke="#000" stroke-width="2.4" stroke-linecap="butt"/>
<line x1="1142.7" y1="301.8" x2="1152.9" y2="301.8" stroke="#000" stroke-width="2.4" stroke-linecap="butt"/>
<line x1="1719" y1="301.8" x2="1708.8" y2="301.8" stroke="#000" stroke-width="2.4" stroke-linecap="butt"/>
<line x1="1142.7" y1="286.8" x2="1147.6" y2="286.8" stroke="#000" stroke-width="2.4" stroke-linecap="butt"/>
<line x1="1719" y1="286.8" x2="1714.1" y2="286.8" stroke="#000" stroke-width="2.4" stroke-linecap="butt"/>
<line x1="1142.7" y1="271.8" x2="1152.9" y2="271.8" stroke="#000" stroke-width="2.4" stroke-linecap="butt"/>
<line x1="1719" y1="271.8" x2="1708.8" y2="271.8" stroke="#000" stroke-width="2.4" stroke-linecap="butt"/>
<line x1="1142.7" y1="256.8" x2="1147.6" y2="256.8" stroke="#000" stroke-width="2.4" stroke-linecap="butt"/>
<line x1="1719" y1="256.8" x2="1714.1" y2="256.8" stroke="#000" stroke-width="2.4" stroke-linecap="butt"/>
<line x1="1142.7" y1="466.9" x2="1147.6" y2="466.9" stroke="#000" stroke-width="2.4" stroke-linecap="butt"/>
<line x1="1719" y1="466.9" x2="1714.1" y2="466.9" stroke="#000" stroke-width="2.4" stroke-linecap="butt"/>
<line x1="1142.7" y1="451.7" x2="1152.9" y2="451.7" stroke="#000" stroke-width="2.4" stroke-linecap="butt"/>
<line x1="1719" y1="451.7" x2="1708.8" y2="451.7" stroke="#000" stroke-width="2.4" stroke-linecap="butt"/>
<line x1="1142.7" y1="436.5" x2="1147.6" y2="436.5" stroke="#000" stroke-width="2.4" stroke-linecap="butt"/>
<line x1="1719" y1="436.5" x2="1714.1" y2="436.5" stroke="#000" stroke-width="2.4" stroke-linecap="butt"/>
<line x1="1142.7" y1="421.3" x2="1152.9" y2="421.3" stroke="#000" stroke-width="2.4" stroke-linecap="butt"/>
<line x1="1719" y1="421.3" x2="1708.8" y2="421.3" stroke="#000" stroke-width="2.4" stroke-linecap="butt"/>
<line x1="1142.7" y1="406.1" x2="1147.6" y2="406.1" stroke="#000" stroke-width="2.4" stroke-linecap="butt"/>
<line x1="1719" y1="406.1" x2="1714.1" y2="406.1" stroke="#000" stroke-width="2.4" stroke-linecap="butt"/>
<line x1="1142.7" y1="390.9" x2="1152.9" y2="390.9" stroke="#000" stroke-width="2.4" stroke-linecap="butt"/>
<line x1="1719" y1="390.9" x2="1708.8" y2="390.9" stroke="#000" stroke-width="2.4" stroke-linecap="butt"/>
<line x1="1142.7" y1="375.7" x2="1147.6" y2="375.7" stroke="#000" stroke-width="2.4" stroke-linecap="butt"/>
<line x1="1719" y1="375.7" x2="1714.1" y2="375.7" stroke="#000" stroke-width="2.4" stroke-linecap="butt"/>
<line x1="1142.7" y1="587.2" x2="1147.6" y2="587.2" stroke="#000" stroke-width="2.4" stroke-linecap="butt"/>
<line x1="1719" y1="587.2" x2="1714.1" y2="587.2" stroke="#000" stroke-width="2.4" stroke-linecap="butt"/>
<line x1="1142.7" y1="572.1" x2="1152.9" y2="572.1" stroke="#000" stroke-width="2.4" stroke-linecap="butt"/>
<line x1="1719" y1="572.1" x2="1708.8" y2="572.1" stroke="#000" stroke-width="2.4" stroke-linecap="butt"/>
<line x1="1142.7" y1="557" x2="1147.6" y2="557" stroke="#000" stroke-width="2.4" stroke-linecap="butt"/>
<line x1="1719" y1="557" x2="1714.1" y2="557" stroke="#000" stroke-width="2.4" stroke-linecap="butt"/>
<line x1="1142.7" y1="541.9" x2="1152.9" y2="541.9" stroke="#000" stroke-width="2.4" stroke-linecap="butt"/>
<line x1="1719" y1="541.9" x2="1708.8" y2="541.9" stroke="#000" stroke-width="2.4" stroke-linecap="butt"/>
<line x1="1142.7" y1="526.8" x2="1147.6" y2="526.8" stroke="#000" stroke-width="2.4" stroke-linecap="butt"/>
<line x1="1719" y1="526.8" x2="1714.1" y2="526.8" stroke="#000" stroke-width="2.4" stroke-linecap="butt"/>
<line x1="1142.7" y1="511.7" x2="1152.9" y2="511.7" stroke="#000" stroke-width="2.4" stroke-linecap="butt"/>
<line x1="1719" y1="511.7" x2="1708.8" y2="511.7" stroke="#000" stroke-width="2.4" stroke-linecap="butt"/>
<line x1="1142.7" y1="496.6" x2="1147.6" y2="496.6" stroke="#000" stroke-width="2.4" stroke-linecap="butt"/>
<line x1="1719" y1="496.6" x2="1714.1" y2="496.6" stroke="#000" stroke-width="2.4" stroke-linecap="butt"/>
<line x1="1142.7" y1="707.4" x2="1147.6" y2="707.4" stroke="#000" stroke-width="2.4" stroke-linecap="butt"/>
<line x1="1719" y1="707.4" x2="1714.1" y2="707.4" stroke="#000" stroke-width="2.4" stroke-linecap="butt"/>
<line x1="1142.7" y1="692.3" x2="1152.9" y2="692.3" stroke="#000" stroke-width="2.4" stroke-linecap="butt"/>
<line x1="1719" y1="692.3" x2="1708.8" y2="692.3" stroke="#000" stroke-width="2.4" stroke-linecap="butt"/>
<line x1="1142.7" y1="677.2" x2="1147.6" y2="677.2" stroke="#000" stroke-width="2.4" stroke-linecap="butt"/>
<line x1="1719" y1="677.2" x2="1714.1" y2="677.2" stroke="#000" stroke-width="2.4" stroke-linecap="butt"/>
<line x1="1142.7" y1="662.1" x2="1152.9" y2="662.1" stroke="#000" stroke-width="2.4" stroke-linecap="butt"/>
<line x1="1719" y1="662.1" x2="1708.8" y2="662.1" stroke="#000" stroke-width="2.4" stroke-linecap="butt"/>
<line x1="1142.7" y1="647" x2="1147.6" y2="647" stroke="#000" stroke-width="2.4" stroke-linecap="butt"/>
<line x1="1719" y1="647" x2="1714.1" y2="647" stroke="#000" stroke-width="2.4" stroke-linecap="butt"/>
<line x1="1142.7" y1="631.9" x2="1152.9" y2="631.9" stroke="#000" stroke-width="2.4" stroke-linecap="butt"/>
<line x1="1719" y1="631.9" x2="1708.8" y2="631.9" stroke="#000" stroke-width="2.4" stroke-linecap="butt"/>
<line x1="1142.7" y1="616.8" x2="1147.6" y2="616.8" stroke="#000" stroke-width="2.4" stroke-linecap="butt"/>
<line x1="1719" y1="616.8" x2="1714.1" y2="616.8" stroke="#000" stroke-width="2.4" stroke-linecap="butt"/>
<line x1="1142.7" y1="827.6" x2="1147.6" y2="827.6" stroke="#000" stroke-width="2.4" stroke-linecap="butt"/>
<line x1="1719" y1="827.6" x2="1714.1" y2="827.6" stroke="#000" stroke-width="2.4" stroke-linecap="butt"/>
<line x1="1142.7" y1="812.5" x2="1152.9" y2="812.5" stroke="#000" stroke-width="2.4" stroke-linecap="butt"/>
<line x1="1719" y1="812.5" x2="1708.8" y2="812.5" stroke="#000" stroke-width="2.4" stroke-linecap="butt"/>
<line x1="1142.7" y1="797.4" x2="1147.6" y2="797.4" stroke="#000" stroke-width="2.4" stroke-linecap="butt"/>
<line x1="1719" y1="797.4" x2="1714.1" y2="797.4" stroke="#000" stroke-width="2.4" stroke-linecap="butt"/>
<line x1="1142.7" y1="782.3" x2="1152.9" y2="782.3" stroke="#000" stroke-width="2.4" stroke-linecap="butt"/>
<line x1="1719" y1="782.3" x2="1708.8" y2="782.3" stroke="#000" stroke-width="2.4" stroke-linecap="butt"/>
<line x1="1142.7" y1="767.2" x2="1147.6" y2="767.2" stroke="#000" stroke-width="2.4" stroke-linecap="butt"/>
<line x1="1719" y1="767.2" x2="1714.1" y2="767.2" stroke="#000" stroke-width="2.4" stroke-linecap="butt"/>
<line x1="1142.7" y1="752.1" x2="1152.9" y2="752.1" stroke="#000" stroke-width="2.4" stroke-linecap="butt"/>
<line x1="1719" y1="752.1" x2="1708.8" y2="752.1" stroke="#000" stroke-width="2.4" stroke-linecap="butt"/>
<line x1="1142.7" y1="737" x2="1147.6" y2="737" stroke="#000" stroke-width="2.4" stroke-linecap="butt"/>
<line x1="1719" y1="737" x2="1714.1" y2="737" stroke="#000" stroke-width="2.4" stroke-linecap="butt"/>
<clipPath id="cr0"><rect x="1142.7" y="1.2" width="577.5" height="121.6"/></clipPath>
<polyline points="1142.7,118.1 1143.5,116.6 1144.3,114.3 1145.1,111.3 1145.9,108.4 1146.7,105.9 1147.5,103.2 1148.3,99.5 1149.1,94.5 1149.9,89.4 1150.7,84.3 1151.5,78.2 1152.3,71.9 1153.1,66.2 1153.9,61.1 1154.7,56.8 1155.5,53.8 1156.3,52.1 1157.1,51.1 1157.9,51.4 1158.7,54.1 1159.5,58.2 1160.3,68.2 1161.1,81.8 1161.9,92.7 1162.7,99.3 1163.5,104.6 1164.3,108.6 1165.1,111.3 1165.9,113.1 1166.7,113 1167.5,112.8 1168.3,113.3 1169.1,113.7 1169.9,111.5 1170.7,107.9 1171.5,107.1 1172.3,108.1 1173.1,109.4 1173.9,110.9 1174.7,112.5 1175.5,113.2 1176.3,113.5 1177.1,114.3 1177.9,115.1 1178.7,115.5 1179.5,115.7 1180.3,115.9 1181.1,116.2 1181.9,116.9 1182.7,117.9 1183.5,118.5 1184.3,117.6 1185.1,115.4 1185.9,113.3 1186.7,112.6 1187.5,112.6 1188.3,112.2 1189.1,111.5 1189.9,111.1 1190.7,111.6 1191.5,114.4 1192.3,117.6 1193.1,118.6 1193.9,118.2 1194.7,117.6 1195.5,116.9 1196.3,116.6 1197.1,116.8 1197.9,116.8 1198.7,116.1 1199.5,115 1200.3,113.7 1201.1,110.8 1201.9,106.5 1202.7,102.6 1203.5,100.4 1204.3,99.1 1205.1,98.3 1205.9,97.4 1206.7,96.3 1207.5,95.3 1208.3,94.5 1209.1,93.8 1209.9,93.5 1210.7,93.2 1211.5,92.6 1212.3,91.7 1213.1,90.6 1213.9,89 1214.7,85.6 1215.5,81 1216.3,76.5 1217.1,71.7 1217.9,68.3 1218.7,68.1 1219.5,68.3 1220.3,68 1221.1,67.1 1221.9,67.2 1222.7,68 1223.5,69.8 1224.3,75.5 1225.1,83.8 1225.9,91.9 1226.7,98.1 1227.5,101.2 1228.3,101.5 1229.1,101.6 1229.9,101.9 1230.7,101.4 1231.5,97.7 1232.3,92.7 1233.1,88.3 1233.9,82.8 1234.7,76.8 1235.5,72.3 1236.3,70.6 1237.1,70.1 1237.9,70.3 1238.7,71.6 1239.5,73.4 1240.3,76.3 1241.1,81.3 1241.9,87.7 1242.7,94.5 1243.5,100.4 1244.3,105.9 1245.1,112 1245.9,116.5 1246.7,116.8 1247.5,115.5 1248.3,114.3 1249.1,114.3 1249.9,115.4 1250.7,116.9 1251.5,118.3 1252.3,119.2 1253.1,118.4 1253.9,115.5 1254.7,112.1 1255.5,110.2 1256.3,110.6 1257.1,112 1257.9,113.5 1258.7,114.4 1259.5,113.5 1260.3,111.8 1261.1,110.8 1261.9,111.7 1262.7,114.5 1263.5,117.3 1264.3,117.9 1265.1,117.2 1265.9,116.5 1266.7,116.5 1267.5,116.9 1268.3,117.4 1269.1,117.7 1269.9,117.2 1270.7,116.4 1271.5,115.7 1272.3,114.8 1273.1,113.9 1273.9,113.2 1274.7,112.8 1275.5,113.2 1276.3,114.4 1277.1,115.3 1277.9,115.6 1278.7,116.4 1279.5,117.3 1280.3,117.8 1281.1,117.8 1281.9,117.9 1282.7,118 1283.5,117.7 1284.3,117 1285.1,116.2 1285.9,115.5 1286.7,114.7 1287.5,113.6 1288.3,112.4 1289.1,111.9 1289.9,111.8 1290.7,111.3 1291.5,110.6 1292.3,110 1293.1,109.5 1293.9,109.1 1294.7,109.1 1295.5,109.8 1296.3,111 1297.1,112.2 1297.9,112.9 1298.7,113.2 1299.5,113 1300.3,112.1 1301.1,111.2 1301.9,111.6 1302.7,112.9 1303.5,113.5 1304.3,113.7 1305.1,114.3 1305.9,115.5 1306.7,117 1307.5,117.7 1308.3,117 1309.1,114.9 1309.9,112.9 1310.7,111.8 1311.5,111.5 1312.3,112 1313.1,113.3 1313.9,114.7 1314.7,115.6 1315.5,115.6 1316.3,115.1 1317.1,114.9 1317.9,115 1318.7,115 1319.5,114.7 1320.3,114 1321.1,113.3 1321.9,112.8 1322.7,112.4 1323.5,112.3 1324.3,112.1 1325.1,111.8 1325.9,111.6 1326.7,111.6 1327.5,111.6 1328.3,111.3 1329.1,111.3 1329.9,111.5 1330.7,111.9 1331.5,112.2 1332.3,112.7 1333.1,112.9 1333.9,112.4 1334.7,112.6 1335.5,114.9 1336.3,117.3 1337.1,117.9 1337.9,117.8 1338.7,117.2 1339.5,116.1 1340.3,114.9 1341.1,114 1341.9,113.6 1342.7,113.7 1343.5,114 1344.3,114 1345.1,113.9 1345.9,113.8 1346.7,113.5 1347.5,113.1 1348.3,113.1 1349.1,113.6 1349.9,114.2 1350.7,114.7 1351.5,115.1 1352.3,115.8 1353.1,116.7 1353.9,117 1354.7,117 1355.5,117.2 1356.3,117.6 1357.1,117.7 1357.9,117 1358.7,116.1 1359.5,115.4 1360.3,114.9 1361.1,114.7 1361.9,114.4 1362.7,113.7 1363.5,112.8 1364.3,111.9 1365.1,111.2 1365.9,111.1 1366.7,110.7 1367.5,109.9 1368.3,109 1369.1,108.4 1369.9,107.9 1370.7,107.5 1371.5,107.1 1372.3,106.3 1373.1,105.5 1373.9,105.9 1374.7,108.5 1375.5,111.1 1376.3,112.3 1377.1,113 1377.9,112.8 1378.7,112 1379.5,111.6 1380.3,112 1381.1,112.9 1381.9,113.5 1382.7,113.3 1383.5,112.8 1384.3,112.9 1385.1,113.3 1385.9,113.4 1386.7,113.5 1387.5,113.7 1388.3,114.3 1389.1,115.4 1389.9,116.3 1390.7,116.5 1391.5,116.3 1392.3,116.2 1393.1,116.2 1393.9,115.4 1394.7,114.5 1395.5,114.7 1396.3,115.3 1397.1,115.4 1397.9,115.1 1398.7,115.4 1399.5,116.2 1400.3,116.6 1401.1,116.7 1401.9,116.2 1402.7,115.2 1403.5,114.2 1404.3,113.2 1405.1,112 1405.9,110.9 1406.7,110 1407.5,108.9 1408.3,107 1409.1,104.6 1409.9,101.2 1410.7,97.1 1411.5,92.5 1412.3,87.4 1413.1,83 1413.9,79.3 1414.7,75.8 1415.5,72.1 1416.3,68 1417.1,64 1417.9,61 1418.7,60 1419.5,61.2 1420.3,64.3 1421.1,68.4 1421.9,73 1422.7,77.3 1423.5,81.6 1424.3,86.4 1425.1,90.6 1425.9,93.7 1426.7,96.5 1427.5,99 1428.3,101 1429.1,101.6 1429.9,100.8 1430.7,100.9 1431.5,102.3 1432.3,104.1 1433.1,105.9 1433.9,107.2 1434.7,108.2 1435.5,109.1 1436.3,109.5 1437.1,109.7 1437.9,110.6 1438.7,111.9 1439.5,112.8 1440.3,112.9 1441.1,112.3 1441.9,111.8 1442.7,112.1 1443.5,112.9 1444.3,113.3 1445.1,113.6 1445.9,114 1446.7,114.5 1447.5,114.9 1448.3,114.9 1449.1,114.3 1449.9,113.9 1450.7,114 1451.5,114.2 1452.3,114.5 1453.1,114.8 1453.9,115.2 1454.7,115.8 1455.5,115.9 1456.3,115.5 1457.1,115.4 1457.9,115.5 1458.7,115.5 1459.5,115.6 1460.3,115.7 1461.1,115.3 1461.9,114.5 1462.7,113.6 1463.5,112.7 1464.3,110.7 1465.1,107.4 1465.9,103.8 1466.7,100.4 1467.5,96.9 1468.3,92.6 1469.1,88.2 1469.9,84.7 1470.7,81.9 1471.5,79.7 1472.3,79.5 1473.1,83 1473.9,88.9 1474.7,94.1 1475.5,99.2 1476.3,104.7 1477.1,110 1477.9,113.8 1478.7,115.4 1479.5,116.3 1480.3,117 1481.1,117.7 1481.9,118.1 1482.7,118.3 1483.5,118.9 1484.3,119.3 1485.1,119 1485.9,118.4 1486.7,118.3 1487.5,118.3 1488.3,118.2 1489.1,118.5 1489.9,118.9 1490.7,118.4 1491.5,116.7 1492.3,114.8 1493.1,113.6 1493.9,113 1494.7,113.1 1495.5,113.2 1496.3,112.5 1497.1,110.8 1497.9,108.4 1498.7,105.5 1499.5,102.6 1500.3,100.2 1501.1,98.3 1501.9,97.2 1502.7,96.6 1503.5,96.2 1504.3,95.6 1505.1,95.2 1505.9,95.8 1506.7,97.5 1507.5,99.8 1508.3,104.5 1509.1,109.6 1509.9,112.7 1510.7,114.2 1511.5,115.4 1512.3,116.2 1513.1,116.9 1513.9,117.2 1514.7,116.7 1515.5,115.5 1516.3,113.9 1517.1,111.4 1517.9,108.2 1518.7,104.8 1519.5,101.8 1520.3,99.7 1521.1,97.9 1521.9,96.5 1522.7,95.5 1523.5,95 1524.3,95 1525.1,96 1525.9,98.2 1526.7,101.2 1527.5,105.6 1528.3,110.5 1529.1,114.5 1529.9,116.2 1530.7,116.5 1531.5,116.6 1532.3,116.7 1533.1,116.5 1533.9,116.2 1534.7,115.5 1535.5,114.4 1536.3,113.8 1537.1,112.4 1537.9,109.2 1538.7,105.7 1539.5,103.4 1540.3,102.3 1541.1,101.1 1541.9,99.8 1542.7,99 1543.5,98.7 1544.3,99 1545.1,100.1 1545.9,101.9 1546.7,104.4 1547.5,107.3 1548.3,109.5 1549.1,110.2 1549.9,110.7 1550.7,111.6 1551.5,112 1552.3,111.9 1553.1,111.2 1553.9,109.6 1554.7,107.6 1555.5,106 1556.3,105.3 1557.1,106 1557.9,108.4 1558.7,111.2 1559.5,113.2 1560.3,114.3 1561.1,115.7 1561.9,116.8 1562.7,117.3 1563.5,117.8 1564.3,118.3 1565.1,118.3 1565.9,118 1566.7,117.8 1567.5,117.5 1568.3,116.9 1569.1,115.7 1569.9,114.3 1570.7,112.7 1571.5,110.8 1572.3,108.8 1573.1,105.8 1573.9,101.1 1574.7,95.8 1575.5,91 1576.3,85.9 1577.1,81.1 1577.9,76.6 1578.7,71.6 1579.5,66.6 1580.3,62.7 1581.1,61.3 1581.9,62.9 1582.7,65.5 1583.5,67.3 1584.3,68.5 1585.1,69.9 1585.9,71.8 1586.7,74.2 1587.5,77.3 1588.3,80.9 1589.1,84.9 1589.9,88.7 1590.7,93 1591.5,97.8 1592.3,102.4 1593.1,105.8 1593.9,107.5 1594.7,107.8 1595.5,108.1 1596.3,108.2 1597.1,108.7 1597.9,109.5 1598.7,108.5 1599.5,105.7 1600.3,103 1601.1,100.4 1601.9,96.5 1602.7,91.5 1603.5,85.9 1604.3,79.5 1605.1,71.5 1605.9,63.6 1606.7,57.8 1607.5,53.8 1608.3,49.3 1609.1,46.7 1609.9,47.6 1610.7,50.1 1611.5,53 1612.3,59.1 1613.1,69.2 1613.9,80.1 1614.7,88.8 1615.5,93.3 1616.3,95.9 1617.1,98 1617.9,100.7 1618.7,105.3 1619.5,112.9 1620.3,118.7 1621.1,119.5 1621.9,119.6 1622.7,119.1 1623.5,118.5 1624.3,117.1 1625.1,115.3 1625.9,112.7 1626.7,109.7 1627.5,107.3 1628.3,105.3 1629.1,102.7 1629.9,100.6 1630.7,99.4 1631.5,98.8 1632.3,98 1633.1,97 1633.9,97.7 1634.7,100.3 1635.5,103.7 1636.3,107 1637.1,111.3 1637.9,114.8 1638.7,115.5 1639.5,114.8 1640.3,114.9 1641.1,115.7 1641.9,116.5 1642.7,116.7 1643.5,115.9 1644.3,114.6 1645.1,113 1645.9,111.3 1646.7,110 1647.5,108.9 1648.3,108.4 1649.1,108.8 1649.9,109.8 1650.7,110.7 1651.5,110.3 1652.3,108.6 1653.1,106.9 1653.9,106.1 1654.7,106.3 1655.5,107.1 1656.3,108.1 1657.1,109.5 1657.9,110.8 1658.7,112 1659.5,113.3 1660.3,114.2 1661.1,114.5 1661.9,115.3 1662.7,116.4 1663.5,116.9 1664.3,116.3 1665.1,115.3 1665.9,114.9 1666.7,115.3 1667.5,115.9 1668.3,116.8 1669.1,118.2 1669.9,119.4 1670.7,119.3 1671.5,118 1672.3,116.3 1673.1,115.1 1673.9,114.7 1674.7,114.6 1675.5,114.5 1676.3,114.3 1677.1,113.8 1677.9,113.7 1678.7,113.9 1679.5,113.8 1680.3,113.3 1681.1,113.1 1681.9,114.2 1682.7,115.7 1683.5,116.3 1684.3,116.1 1685.1,115.5 1685.9,115.3 1686.7,115.8 1687.5,116.1 1688.3,115.8 1689.1,115.3 1689.9,114.8 1690.7,114.3 1691.5,114.1 1692.3,114.2 1693.1,114.6 1693.9,115 1694.7,115.1 1695.5,115 1696.3,114.5 1697.1,113.6 1697.9,113.2 1698.7,113.4 1699.5,113.6 1700.3,113.5 1701.1,113.1 1701.9,112.4 1702.7,111 1703.5,108.5 1704.3,105.9 1705.1,104 1705.9,101.8 1706.7,99.6 1707.5,98.4 1708.3,98.4 1709.1,98.3 1709.9,97.8 1710.7,97.1 1711.5,97.1 1712.3,97.6 1713.1,98.1 1713.9,100.8 1714.7,104.2 1715.5,105 1716.3,105.4 1717.1,106 1717.9,107.3 1718.7,110.1 1719,111.3" fill="none" stroke="#007f7f" stroke-width="2.4" stroke-linejoin="round" stroke-linecap="butt" clip-path="url(#cr0)"/>
<clipPath id="cr1"><rect x="1142.7" y="121.4" width="577.5" height="121.6"/></clipPath>
<polyline points="1142.7,235.5 1143.5,236.3 1144.3,237.1 1145.1,237.1 1145.9,238.1 1146.7,239.3 1147.5,239.4 1148.3,238.3 1149.1,237.2 1149.9,237.7 1150.7,238.2 1151.5,238 1152.3,238.5 1153.1,239.2 1153.9,238.2 1154.7,237.4 1155.5,237.7 1156.3,237.7 1157.1,237.8 1157.9,238.2 1158.7,238.6 1159.5,238.4 1160.3,238 1161.1,238.4 1161.9,238.8 1162.7,239 1163.5,239.5 1164.3,239.2 1165.1,238.6 1165.9,239.1 1166.7,239.9 1167.5,239.6 1168.3,238.8 1169.1,238.4 1169.9,237.6 1170.7,237.3 1171.5,237.8 1172.3,238.1 1173.1,238.1 1173.9,238 1174.7,238 1175.5,238 1176.3,238.4 1177.1,238.8 1177.9,238.7 1178.7,238.5 1179.5,237.9 1180.3,238.4 1181.1,239.7 1181.9,240 1182.7,239.4 1183.5,238.8 1184.3,238.5 1185.1,239.1 1185.9,239.2 1186.7,238.7 1187.5,239.2 1188.3,239.6 1189.1,239.3 1189.9,238.9 1190.7,239 1191.5,238.9 1192.3,239.6 1193.1,239.2 1193.9,238.8 1194.7,239.4 1195.5,239.3 1196.3,238.8 1197.1,238.9 1197.9,238.1 1198.7,238.1 1199.5,237.9 1200.3,237.1 1201.1,237.6 1201.9,237.6 1202.7,237.2 1203.5,236.9 1204.3,237 1205.1,236.5 1205.9,236.3 1206.7,236.4 1207.5,236.5 1208.3,236.9 1209.1,236.1 1209.9,235.8 1210.7,236 1211.5,236.3 1212.3,236.6 1213.1,236.5 1213.9,236 1214.7,235.9 1215.5,236.2 1216.3,236.7 1217.1,236.6 1217.9,235.9 1218.7,236 1219.5,237.8 1220.3,239 1221.1,239.7 1221.9,240.1 1222.7,239.7 1223.5,239.5 1224.3,239.7 1225.1,239.8 1225.9,239.5 1226.7,239.2 1227.5,239.6 1228.3,239.7 1229.1,238.9 1229.9,237.8 1230.7,236.4 1231.5,235.8 1232.3,234.8 1233.1,232.4 1233.9,230 1234.7,228.2 1235.5,225.7 1236.3,222.9 1237.1,220.1 1237.9,218.4 1238.7,217.4 1239.5,216.8 1240.3,217 1241.1,217.1 1241.9,216.7 1242.7,214.9 1243.5,213.5 1244.3,213.3 1245.1,213 1245.9,212.1 1246.7,210.7 1247.5,208.1 1248.3,205.1 1249.1,201.8 1249.9,197.6 1250.7,193 1251.5,188.6 1252.3,184.4 1253.1,178.7 1253.9,172.6 1254.7,167.9 1255.5,165.2 1256.3,163 1257.1,161.7 1257.9,162.9 1258.7,165.8 1259.5,169 1260.3,175.3 1261.1,183 1261.9,190.2 1262.7,195 1263.5,198.1 1264.3,200.7 1265.1,204.1 1265.9,208.9 1266.7,213 1267.5,214 1268.3,215.1 1269.1,215.8 1269.9,216.2 1270.7,216.4 1271.5,216.6 1272.3,216.7 1273.1,216.8 1273.9,217.2 1274.7,218.7 1275.5,220.2 1276.3,220.8 1277.1,221.3 1277.9,222.1 1278.7,223.3 1279.5,224.1 1280.3,225.3 1281.1,226.4 1281.9,228.1 1282.7,230.6 1283.5,232.4 1284.3,233.7 1285.1,235.1 1285.9,236.1 1286.7,237 1287.5,238 1288.3,238.7 1289.1,239.2 1289.9,238.9 1290.7,238.6 1291.5,238.8 1292.3,239.1 1293.1,239.5 1293.9,239.5 1294.7,238.7 1295.5,238.3 1296.3,237.3 1297.1,236.8 1297.9,236.1 1298.7,234.9 1299.5,234.7 1300.3,235.3 1301.1,235.2 1301.9,234.6 1302.7,234.3 1303.5,234.1 1304.3,232.1 1305.1,230 1305.9,228.7 1306.7,226.2 1307.5,223.2 1308.3,220.4 1309.1,216.8 1309.9,212.8 1310.7,208.6 1311.5,205.2 1312.3,202.7 1313.1,199.9 1313.9,197.4 1314.7,196 1315.5,195.2 1316.3,194 1317.1,193.2 1317.9,192.5 1318.7,191.6 1319.5,191.4 1320.3,192.9 1321.1,194 1321.9,194.4 1322.7,194.7 1323.5,194.7 1324.3,196.7 1325.1,200.3 1325.9,203.6 1326.7,207.1 1327.5,210.2 1328.3,212.9 1329.1,215.8 1329.9,218.1 1330.7,220.4 1331.5,223.7 1332.3,226.8 1333.1,229.5 1333.9,232.1 1334.7,234.4 1335.5,235.9 1336.3,236.8 1337.1,238 1337.9,238.8 1338.7,238.7 1339.5,238.8 1340.3,238.9 1341.1,239.1 1341.9,239.7 1342.7,240.4 1343.5,240.9 1344.3,240.7 1345.1,240.6 1345.9,240.6 1346.7,240.4 1347.5,239.9 1348.3,239.9 1349.1,239.8 1349.9,239.5 1350.7,239.2 1351.5,239.1 1352.3,239 1353.1,238.9 1353.9,239.4 1354.7,239.5 1355.5,239.5 1356.3,239.6 1357.1,239.5 1357.9,238.9 1358.7,238.1 1359.5,236.8 1360.3,235.7 1361.1,235.9 1361.9,236.5 1362.7,236.1 1363.5,236.8 1364.3,237.3 1365.1,237.2 1365.9,237.9 1366.7,238.4 1367.5,238.4 1368.3,238.7 1369.1,238 1369.9,237.5 1370.7,237.8 1371.5,237.8 1372.3,237.8 1373.1,238.7 1373.9,240.1 1374.7,239.8 1375.5,239.3 1376.3,239.1 1377.1,239.1 1377.9,238.8 1378.7,238.2 1379.5,237.5 1380.3,237.1 1381.1,237.4 1381.9,238.1 1382.7,238.8 1383.5,238.8 1384.3,238.7 1385.1,238.2 1385.9,237.5 1386.7,237.3 1387.5,237.4 1388.3,237.3 1389.1,238.4 1389.9,239.6 1390.7,239.7 1391.5,239.7 1392.3,239 1393.1,238.4 1393.9,238.6 1394.7,239.1 1395.5,239.9 1396.3,239.9 1397.1,238.8 1397.9,238.3 1398.7,238.2 1399.5,237.7 1400.3,237.3 1401.1,237.5 1401.9,237.4 1402.7,235.8 1403.5,233.4 1404.3,231.6 1405.1,230.6 1405.9,230.8 1406.7,230.4 1407.5,230.1 1408.3,229.4 1409.1,227.8 1409.9,225.6 1410.7,223.9 1411.5,223.2 1412.3,221.2 1413.1,219.1 1413.9,217.5 1414.7,215.9 1415.5,215.4 1416.3,215.3 1417.1,215.4 1417.9,215.1 1418.7,214.4 1419.5,213.4 1420.3,212.5 1421.1,211.4 1421.9,210.1 1422.7,210.3 1423.5,210.5 1424.3,210.2 1425.1,210 1425.9,210.8 1426.7,211.7 1427.5,213.1 1428.3,213.9 1429.1,214.6 1429.9,215.2 1430.7,216.1 1431.5,220.4 1432.3,225.4 1433.1,228.7 1433.9,231.2 1434.7,233.8 1435.5,236.2 1436.3,236.9 1437.1,236.9 1437.9,237.7 1438.7,238.7 1439.5,239.4 1440.3,239.7 1441.1,240 1441.9,240.4 1442.7,239.4 1443.5,238 1444.3,236.9 1445.1,236.2 1445.9,235.9 1446.7,235.2 1447.5,234 1448.3,232.4 1449.1,232.9 1449.9,233.6 1450.7,233.2 1451.5,231.5 1452.3,229.8 1453.1,228.7 1453.9,226.5 1454.7,224.2 1455.5,223.3 1456.3,223.1 1457.1,222.3 1457.9,220.8 1458.7,219.3 1459.5,218.1 1460.3,215 1461.1,212.1 1461.9,210.5 1462.7,210 1463.5,209.2 1464.3,208.5 1465.1,208.4 1465.9,208.8 1466.7,209.4 1467.5,210.1 1468.3,211.6 1469.1,212.2 1469.9,212.1 1470.7,212.5 1471.5,213.7 1472.3,218.7 1473.1,224.3 1473.9,226.4 1474.7,227 1475.5,227.4 1476.3,228.8 1477.1,231 1477.9,233.3 1478.7,235.6 1479.5,237.5 1480.3,238.2 1481.1,238.6 1481.9,239 1482.7,239.1 1483.5,239.2 1484.3,239.2 1485.1,239 1485.9,239.7 1486.7,239.7 1487.5,240.2 1488.3,240.5 1489.1,240.7 1489.9,240.3 1490.7,240 1491.5,240.4 1492.3,240.1 1493.1,239.6 1493.9,239.5 1494.7,239.6 1495.5,239.3 1496.3,238.5 1497.1,237.7 1497.9,238.1 1498.7,239.2 1499.5,240.2 1500.3,240.4 1501.1,240.5 1501.9,241 1502.7,240.8 1503.5,240.5 1504.3,240 1505.1,239.4 1505.9,239.6 1506.7,239.4 1507.5,238.6 1508.3,238.3 1509.1,239 1509.9,239.5 1510.7,238.9 1511.5,238.7 1512.3,239 1513.1,238.5 1513.9,238.4 1514.7,239.2 1515.5,239.7 1516.3,240 1517.1,240.2 1517.9,240.5 1518.7,240.4 1519.5,240.2 1520.3,240.1 1521.1,240.4 1521.9,240.4 1522.7,239.9 1523.5,238.7 1524.3,237.2 1525.1,237.8 1525.9,239 1526.7,239.5 1527.5,239.8 1528.3,240.6 1529.1,240.1 1529.9,239.1 1530.7,238.6 1531.5,238.2 1532.3,238.1 1533.1,238.4 1533.9,238 1534.7,237.6 1535.5,237.8 1536.3,238 1537.1,238.2 1537.9,238.6 1538.7,238.6 1539.5,239.1 1540.3,238.7 1541.1,237.5 1541.9,237.3 1542.7,237.1 1543.5,236 1544.3,235.2 1545.1,235.6 1545.9,235.7 1546.7,234.7 1547.5,234.5 1548.3,234.3 1549.1,234 1549.9,233.7 1550.7,233.9 1551.5,234.6 1552.3,234.8 1553.1,234.8 1553.9,235 1554.7,234 1555.5,233.6 1556.3,233.3 1557.1,233.4 1557.9,233.6 1558.7,234.2 1559.5,234.9 1560.3,235.9 1561.1,237.1 1561.9,238.5 1562.7,239.2 1563.5,240.4 1564.3,240.7 1565.1,240 1565.9,239.1 1566.7,238 1567.5,236.5 1568.3,236 1569.1,236.4 1569.9,236.9 1570.7,238.4 1571.5,239.1 1572.3,239.5 1573.1,239.2 1573.9,238 1574.7,236.4 1575.5,235.2 1576.3,235.4 1577.1,237 1577.9,238.8 1578.7,239.7 1579.5,239.3 1580.3,238.8 1581.1,238.6 1581.9,239.4 1582.7,239.9 1583.5,239.7 1584.3,240.2 1585.1,240.5 1585.9,240.3 1586.7,240.4 1587.5,239.8 1588.3,239 1589.1,239.2 1589.9,239.7 1590.7,239.9 1591.5,239.5 1592.3,239.2 1593.1,238.9 1593.9,238.9 1594.7,238.8 1595.5,238.7 1596.3,238.1 1597.1,237.4 1597.9,237 1598.7,236.8 1599.5,237 1600.3,237 1601.1,236.2 1601.9,236.7 1602.7,237.7 1603.5,237.9 1604.3,237.4 1605.1,237.6 1605.9,237.6 1606.7,236.7 1607.5,235.7 1608.3,235.6 1609.1,235.5 1609.9,235.5 1610.7,235 1611.5,234.6 1612.3,233 1613.1,231.1 1613.9,229.4 1614.7,227.6 1615.5,226.2 1616.3,224.4 1617.1,222 1617.9,219.5 1618.7,216.6 1619.5,215 1620.3,214.1 1621.1,212.9 1621.9,212.9 1622.7,212.5 1623.5,211.2 1624.3,210.9 1625.1,211.6 1625.9,212.3 1626.7,212.1 1627.5,212.5 1628.3,214 1629.1,215.7 1629.9,217.9 1630.7,222.4 1631.5,226.3 1632.3,228.4 1633.1,230.4 1633.9,231.3 1634.7,232.3 1635.5,233.8 1636.3,234.7 1637.1,235.1 1637.9,236.2 1638.7,236.8 1639.5,237.7 1640.3,238.4 1641.1,238.1 1641.9,237.8 1642.7,237.5 1643.5,237.6 1644.3,236.7 1645.1,236.2 1645.9,236.6 1646.7,237.7 1647.5,239 1648.3,240 1649.1,240.7 1649.9,240.6 1650.7,240.4 1651.5,240.4 1652.3,240.4 1653.1,240.6 1653.9,240.8 1654.7,240.6 1655.5,239.8 1656.3,239.2 1657.1,239.5 1657.9,239.7 1658.7,239.1 1659.5,239.6 1660.3,240.2 1661.1,239.9 1661.9,240 1662.7,241.1 1663.5,241.2 1664.3,240.8 1665.1,241.1 1665.9,240.9 1666.7,240.5 1667.5,240.9 1668.3,239.9 1669.1,239.1 1669.9,238.7 1670.7,238.4 1671.5,237.9 1672.3,238 1673.1,238.1 1673.9,237.2 1674.7,236.1 1675.5,235.3 1676.3,234.2 1677.1,234.1 1677.9,234.1 1678.7,234.2 1679.5,234.4 1680.3,234.6 1681.1,234.5 1681.9,234.3 1682.7,234.5 1683.5,234.7 1684.3,234.4 1685.1,233.7 1685.9,233.5 1686.7,233.6 1687.5,233.8 1688.3,234 1689.1,234 1689.9,234.5 1690.7,235 1691.5,234.4 1692.3,233.5 1693.1,233.3 1693.9,232.8 1694.7,233 1695.5,234 1696.3,235.2 1697.1,235.9 1697.9,236.8 1698.7,237.1 1699.5,237 1700.3,237.5 1701.1,238.7 1701.9,239.5 1702.7,240.2 1703.5,240.6 1704.3,240.1 1705.1,239.7 1705.9,239.5 1706.7,239.4 1707.5,239.2 1708.3,239.3 1709.1,239.8 1709.9,239 1710.7,239.2 1711.5,239.6 1712.3,239.3 1713.1,238.9 1713.9,238.9 1714.7,238.8 1715.5,238.6 1716.3,238.8 1717.1,238.6 1717.9,237.9 1718.7,236.8 1719,236" fill="none" stroke="#7f00ff" stroke-width="2.4" stroke-linejoin="round" stroke-linecap="butt" clip-path="url(#cr1)"/>
<clipPath id="cr2"><rect x="1142.7" y="241.6" width="577.5" height="121.6"/></clipPath>
<polyline points="1142.7,357.5 1143.5,356.9 1144.3,357.4 1145.1,356.6 1145.9,355.9 1146.7,355.8 1147.5,355.7 1148.3,355.9 1149.1,355.1 1149.9,354.6 1150.7,353.8 1151.5,352.1 1152.3,350.2 1153.1,348 1153.9,346.7 1154.7,346 1155.5,345.2 1156.3,344.4 1157.1,343.7 1157.9,343.3 1158.7,342.7 1159.5,343.2 1160.3,344.4 1161.1,345.5 1161.9,346.7 1162.7,348 1163.5,349 1164.3,350.3 1165.1,351.8 1165.9,353.4 1166.7,355.1 1167.5,356.6 1168.3,358.6 1169.1,359.6 1169.9,359.5 1170.7,359.2 1171.5,359.4 1172.3,360.2 1173.1,360.3 1173.9,360.2 1174.7,360 1175.5,359.8 1176.3,358.9 1177.1,358.1 1177.9,357.5 1178.7,358.2 1179.5,359.4 1180.3,359.8 1181.1,359.7 1181.9,359.2 1182.7,358.1 1183.5,356.9 1184.3,355.9 1185.1,356.9 1185.9,357.8 1186.7,357.5 1187.5,357.5 1188.3,357.6 1189.1,356.8 1189.9,356.3 1190.7,356.1 1191.5,355.8 1192.3,355.7 1193.1,356.5 1193.9,358.5 1194.7,359.7 1195.5,358.8 1196.3,357.4 1197.1,357.3 1197.9,357.4 1198.7,357.5 1199.5,358.1 1200.3,358.2 1201.1,359.2 1201.9,359.6 1202.7,360.2 1203.5,359.9 1204.3,359.5 1205.1,359.9 1205.9,360.2 1206.7,360.3 1207.5,360 1208.3,359.3 1209.1,359.2 1209.9,358.9 1210.7,357.9 1211.5,356.9 1212.3,355.7 1213.1,353.5 1213.9,350.2 1214.7,346.8 1215.5,344.1 1216.3,342.1 1217.1,339.8 1217.9,338.5 1218.7,337.1 1219.5,335.8 1220.3,335.2 1221.1,334.3 1221.9,333.4 1222.7,332 1223.5,330.5 1224.3,330.7 1225.1,331.4 1225.9,332 1226.7,333.3 1227.5,335.3 1228.3,336.9 1229.1,338.8 1229.9,341.1 1230.7,343.9 1231.5,347 1232.3,350.2 1233.1,352.1 1233.9,352.7 1234.7,353.6 1235.5,354.8 1236.3,355.6 1237.1,356.7 1237.9,358.2 1238.7,358.5 1239.5,356.7 1240.3,354.5 1241.1,352.9 1241.9,351 1242.7,350.8 1243.5,351.1 1244.3,350.2 1245.1,348.5 1245.9,347.4 1246.7,346.5 1247.5,343.3 1248.3,339 1249.1,335 1249.9,329.5 1250.7,323.5 1251.5,318.9 1252.3,314.9 1253.1,312.2 1253.9,310.5 1254.7,310.1 1255.5,310.9 1256.3,313.1 1257.1,315.7 1257.9,320.1 1258.7,325.4 1259.5,330.9 1260.3,335.9 1261.1,341.2 1261.9,347.5 1262.7,352.6 1263.5,354.5 1264.3,355.4 1265.1,356.7 1265.9,357.3 1266.7,357.4 1267.5,357.6 1268.3,357.5 1269.1,358.3 1269.9,359.3 1270.7,359.7 1271.5,359.3 1272.3,359.2 1273.1,359.8 1273.9,360.2 1274.7,360.1 1275.5,359.8 1276.3,360.2 1277.1,360.4 1277.9,359.7 1278.7,359.3 1279.5,359.7 1280.3,359.7 1281.1,359.5 1281.9,358.7 1282.7,357.9 1283.5,357.4 1284.3,356.8 1285.1,356.4 1285.9,356.1 1286.7,355.8 1287.5,355.2 1288.3,353.2 1289.1,351.4 1289.9,349.9 1290.7,348.6 1291.5,346.3 1292.3,344 1293.1,342.1 1293.9,340 1294.7,338.1 1295.5,336.5 1296.3,333.7 1297.1,329.3 1297.9,324.2 1298.7,320.4 1299.5,317.6 1300.3,315.5 1301.1,314.3 1301.9,312.9 1302.7,311.4 1303.5,309.6 1304.3,308.3 1305.1,308.8 1305.9,313.7 1306.7,316.3 1307.5,315.7 1308.3,315.5 1309.1,315.3 1309.9,315.3 1310.7,316.9 1311.5,319.7 1312.3,322.8 1313.1,324.5 1313.9,325.7 1314.7,326.8 1315.5,327.9 1316.3,328.1 1317.1,327.2 1317.9,326.5 1318.7,326.3 1319.5,326.3 1320.3,327.4 1321.1,328.5 1321.9,328.9 1322.7,329.7 1323.5,330.9 1324.3,332 1325.1,333.2 1325.9,334.9 1326.7,336.9 1327.5,338.7 1328.3,341 1329.1,343.3 1329.9,345.3 1330.7,346.6 1331.5,347.5 1332.3,349 1333.1,350.1 1333.9,350.8 1334.7,351.8 1335.5,353.2 1336.3,354.5 1337.1,355.8 1337.9,357.6 1338.7,358.4 1339.5,358.8 1340.3,359.5 1341.1,359.5 1341.9,358.9 1342.7,358.5 1343.5,357 1344.3,354.7 1345.1,353.2 1345.9,351.8 1346.7,350.8 1347.5,350.2 1348.3,349.6 1349.1,348.3 1349.9,347.2 1350.7,346.4 1351.5,344.7 1352.3,342.9 1353.1,341.8 1353.9,341.4 1354.7,340.7 1355.5,339.8 1356.3,338.9 1357.1,338 1357.9,337.4 1358.7,337.5 1359.5,338 1360.3,338.3 1361.1,338.5 1361.9,337.7 1362.7,336.1 1363.5,334.8 1364.3,334.5 1365.1,335.3 1365.9,337.8 1366.7,340 1367.5,340.7 1368.3,341.1 1369.1,341.1 1369.9,341.7 1370.7,342.6 1371.5,344.1 1372.3,345.4 1373.1,346.9 1373.9,348.9 1374.7,350.2 1375.5,351.1 1376.3,352.2 1377.1,353.3 1377.9,355.2 1378.7,356.5 1379.5,356.4 1380.3,356.6 1381.1,356.9 1381.9,357.7 1382.7,358.3 1383.5,358.8 1384.3,359.3 1385.1,360.5 1385.9,361.2 1386.7,360.2 1387.5,358.7 1388.3,356.8 1389.1,355.8 1389.9,356.2 1390.7,356.3 1391.5,355.9 1392.3,355.9 1393.1,356 1393.9,355.8 1394.7,355.8 1395.5,355.3 1396.3,354.6 1397.1,354.8 1397.9,354.6 1398.7,354.3 1399.5,354.2 1400.3,353.8 1401.1,353.7 1401.9,353.4 1402.7,352.4 1403.5,351.3 1404.3,351.2 1405.1,351.4 1405.9,350.8 1406.7,350.1 1407.5,350 1408.3,349.9 1409.1,349.6 1409.9,349 1410.7,348.1 1411.5,347.4 1412.3,346.7 1413.1,345.7 1413.9,344.7 1414.7,344.6 1415.5,345.2 1416.3,346.6 1417.1,347.8 1417.9,348.3 1418.7,348.2 1419.5,347.8 1420.3,346.7 1421.1,344.4 1421.9,341.4 1422.7,338 1423.5,334.7 1424.3,331.3 1425.1,326.9 1425.9,321.6 1426.7,315.9 1427.5,309 1428.3,301.1 1429.1,294.2 1429.9,287.8 1430.7,283.7 1431.5,280.8 1432.3,279.6 1433.1,279.1 1433.9,278.4 1434.7,277.9 1435.5,278.2 1436.3,279.2 1437.1,280.5 1437.9,282 1438.7,283.2 1439.5,284.5 1440.3,285.9 1441.1,288.5 1441.9,291.2 1442.7,293.2 1443.5,296.9 1444.3,303 1445.1,308.4 1445.9,313.3 1446.7,320.1 1447.5,326.9 1448.3,332.7 1449.1,337.6 1449.9,341.2 1450.7,343.9 1451.5,346.2 1452.3,349.1 1453.1,352.4 1453.9,355.1 1454.7,357 1455.5,358.9 1456.3,359.9 1457.1,359.4 1457.9,359.5 1458.7,360.4 1459.5,360.9 1460.3,360.5 1461.1,360 1461.9,360.2 1462.7,360.1 1463.5,360 1464.3,359.5 1465.1,358.9 1465.9,358 1466.7,356.5 1467.5,355.4 1468.3,354.3 1469.1,353 1469.9,351.8 1470.7,350.4 1471.5,349.5 1472.3,348.1 1473.1,346.3 1473.9,344.6 1474.7,343 1475.5,342.2 1476.3,342.7 1477.1,343.4 1477.9,343.7 1478.7,344 1479.5,344.2 1480.3,344.7 1481.1,345 1481.9,344.5 1482.7,343.8 1483.5,343.9 1484.3,346.7 1485.1,349.9 1485.9,351.6 1486.7,353.6 1487.5,355.8 1488.3,357.3 1489.1,358.7 1489.9,359.1 1490.7,359.8 1491.5,360.3 1492.3,360.7 1493.1,360.5 1493.9,359.6 1494.7,358 1495.5,356.2 1496.3,355 1497.1,353.4 1497.9,350.9 1498.7,349 1499.5,347.2 1500.3,346.3 1501.1,346.2 1501.9,345.2 1502.7,345.1 1503.5,345.6 1504.3,346.6 1505.1,348.2 1505.9,350.4 1506.7,351.9 1507.5,353.9 1508.3,355.1 1509.1,355.8 1509.9,357.3 1510.7,358.8 1511.5,359.5 1512.3,360 1513.1,360.1 1513.9,359.4 1514.7,358.6 1515.5,357.7 1516.3,356 1517.1,354 1517.9,352.7 1518.7,352.1 1519.5,351.7 1520.3,351.4 1521.1,350.7 1521.9,349.7 1522.7,348.4 1523.5,347.5 1524.3,346.7 1525.1,345.3 1525.9,344.1 1526.7,342.3 1527.5,340.2 1528.3,338.1 1529.1,335.1 1529.9,332 1530.7,328.9 1531.5,325.8 1532.3,322.3 1533.1,317.6 1533.9,314.4 1534.7,311.8 1535.5,309.4 1536.3,306.9 1537.1,304.9 1537.9,304.5 1538.7,304.2 1539.5,307.4 1540.3,312.1 1541.1,317.5 1541.9,324 1542.7,328.7 1543.5,331.4 1544.3,333.1 1545.1,334.6 1545.9,335.6 1546.7,336.6 1547.5,337.4 1548.3,337.7 1549.1,336.6 1549.9,334.7 1550.7,332.3 1551.5,329.5 1552.3,326.7 1553.1,323.8 1553.9,320 1554.7,316.8 1555.5,314.4 1556.3,311.7 1557.1,309.1 1557.9,308.3 1558.7,307.7 1559.5,308.3 1560.3,311.1 1561.1,314.3 1561.9,317 1562.7,320.5 1563.5,325.3 1564.3,329.6 1565.1,332.7 1565.9,336.3 1566.7,340.1 1567.5,343 1568.3,344 1569.1,344.8 1569.9,345.1 1570.7,345.7 1571.5,346.7 1572.3,346.7 1573.1,345.5 1573.9,344.6 1574.7,344.1 1575.5,344.5 1576.3,345.6 1577.1,346.1 1577.9,345.1 1578.7,343.6 1579.5,342 1580.3,340.3 1581.1,338.8 1581.9,338.2 1582.7,338.5 1583.5,340.3 1584.3,342.4 1585.1,344.7 1585.9,347.7 1586.7,350.3 1587.5,352 1588.3,353.5 1589.1,355.8 1589.9,357.2 1590.7,358 1591.5,359 1592.3,360.3 1593.1,361.2 1593.9,360.9 1594.7,360 1595.5,359.3 1596.3,359 1597.1,358.9 1597.9,358.2 1598.7,356.5 1599.5,355 1600.3,352.7 1601.1,350 1601.9,347.7 1602.7,345.2 1603.5,342.8 1604.3,341.8 1605.1,341.6 1605.9,340.6 1606.7,339.1 1607.5,336.1 1608.3,332.6 1609.1,332.2 1609.9,333.4 1610.7,335.7 1611.5,339.1 1612.3,342 1613.1,344.4 1613.9,347.8 1614.7,351 1615.5,353.5 1616.3,356 1617.1,357.9 1617.9,358.7 1618.7,358.5 1619.5,357.7 1620.3,357.8 1621.1,358.5 1621.9,358.7 1622.7,358.6 1623.5,358.1 1624.3,357.1 1625.1,355.4 1625.9,354.5 1626.7,353.9 1627.5,354.2 1628.3,354.4 1629.1,353.9 1629.9,354.3 1630.7,354.5 1631.5,354.7 1632.3,354.9 1633.1,354.8 1633.9,355.1 1634.7,355.8 1635.5,355.9 1636.3,355.2 1637.1,355.1 1637.9,356 1638.7,355.7 1639.5,354.6 1640.3,353.6 1641.1,353.2 1641.9,353 1642.7,352.6 1643.5,352.6 1644.3,351.8 1645.1,350.6 1645.9,349.2 1646.7,348.1 1647.5,347.3 1648.3,346.5 1649.1,344.7 1649.9,342.8 1650.7,341.1 1651.5,339.7 1652.3,338.9 1653.1,338.1 1653.9,338.3 1654.7,339.9 1655.5,341.8 1656.3,342.9 1657.1,344.3 1657.9,346.2 1658.7,348.5 1659.5,350.6 1660.3,352.3 1661.1,354.3 1661.9,356.1 1662.7,357.6 1663.5,358.7 1664.3,359.4 1665.1,359.7 1665.9,360.3 1666.7,360.6 1667.5,359.9 1668.3,359 1669.1,357.5 1669.9,356.4 1670.7,355 1671.5,353.6 1672.3,352.7 1673.1,351.1 1673.9,349.5 1674.7,348 1675.5,347 1676.3,346.9 1677.1,347.1 1677.9,348 1678.7,349 1679.5,349.7 1680.3,349.8 1681.1,349.5 1681.9,349.3 1682.7,349.6 1683.5,350 1684.3,350.2 1685.1,350.9 1685.9,352.6 1686.7,354.8 1687.5,355.8 1688.3,356.1 1689.1,356.5 1689.9,356.9 1690.7,357.8 1691.5,358.8 1692.3,359.3 1693.1,359.5 1693.9,360 1694.7,360.6 1695.5,360.3 1696.3,359.4 1697.1,359.6 1697.9,359.6 1698.7,358.5 1699.5,357.5 1700.3,356.7 1701.1,356.3 1701.9,355.3 1702.7,354.6 1703.5,355 1704.3,355.3 1705.1,354.1 1705.9,353.3 1706.7,353.5 1707.5,353.5 1708.3,353.1 1709.1,351.6 1709.9,350.6 1710.7,350.3 1711.5,349.6 1712.3,348.2 1713.1,346.2 1713.9,343.8 1714.7,342.5 1715.5,342.3 1716.3,342 1717.1,341.3 1717.9,340.3 1718.7,339.9 1719,340.6" fill="none" stroke="#00ff00" stroke-width="2.4" stroke-linejoin="round" stroke-linecap="butt" clip-path="url(#cr2)"/>
<clipPath id="cr3"><rect x="1142.7" y="361.8" width="577.5" height="121.6"/></clipPath>
<polyline points="1142.7,477.6 1143.5,477.7 1144.3,478.9 1145.1,479.7 1145.9,479.1 1146.7,477.5 1147.5,476.6 1148.3,477.2 1149.1,478.3 1149.9,478.8 1150.7,478.4 1151.5,478.6 1152.3,479.1 1153.1,478.9 1153.9,479.2 1154.7,478.9 1155.5,477.9 1156.3,477.8 1157.1,477.5 1157.9,476.7 1158.7,476 1159.5,476.6 1160.3,477.9 1161.1,478.3 1161.9,478.1 1162.7,477.6 1163.5,477.6 1164.3,477.4 1165.1,476.6 1165.9,476.8 1166.7,478 1167.5,478.3 1168.3,477.8 1169.1,478.4 1169.9,479.5 1170.7,479.7 1171.5,478.9 1172.3,479.4 1173.1,480.2 1173.9,479.7 1174.7,478.6 1175.5,477.5 1176.3,478.2 1177.1,477.9 1177.9,477.3 1178.7,478.5 1179.5,479.7 1180.3,480 1181.1,479.5 1181.9,478.3 1182.7,477.4 1183.5,477.5 1184.3,478 1185.1,478.2 1185.9,478 1186.7,478.4 1187.5,479.1 1188.3,479.8 1189.1,480.9 1189.9,480.3 1190.7,478.1 1191.5,476.9 1192.3,476.6 1193.1,477.1 1193.9,477.7 1194.7,477.3 1195.5,477.2 1196.3,478 1197.1,478.7 1197.9,478.4 1198.7,478.5 1199.5,479.2 1200.3,479.4 1201.1,479.4 1201.9,478.9 1202.7,478 1203.5,477.7 1204.3,477.8 1205.1,478.3 1205.9,477.8 1206.7,477 1207.5,476.8 1208.3,476.4 1209.1,476.5 1209.9,476 1210.7,474.7 1211.5,474.3 1212.3,474.9 1213.1,475.5 1213.9,475.9 1214.7,476.3 1215.5,476.4 1216.3,477 1217.1,477.3 1217.9,477 1218.7,477.3 1219.5,476.5 1220.3,475.9 1221.1,476.9 1221.9,478.2 1222.7,478.9 1223.5,479.1 1224.3,480 1225.1,480.5 1225.9,480.3 1226.7,479.9 1227.5,478.9 1228.3,478.4 1229.1,478.9 1229.9,479.2 1230.7,478.5 1231.5,477.4 1232.3,477.1 1233.1,477.9 1233.9,477.8 1234.7,477.2 1235.5,477.7 1236.3,478.3 1237.1,478.3 1237.9,478.4 1238.7,477.8 1239.5,476.6 1240.3,476.7 1241.1,477.7 1241.9,478.3 1242.7,477.6 1243.5,476 1244.3,476.4 1245.1,477.7 1245.9,478.5 1246.7,478.1 1247.5,476.7 1248.3,476 1249.1,476.4 1249.9,476.9 1250.7,477.2 1251.5,478.3 1252.3,478.8 1253.1,477.6 1253.9,476.2 1254.7,476.6 1255.5,477.1 1256.3,476.3 1257.1,476.1 1257.9,476.5 1258.7,476.7 1259.5,476.3 1260.3,475.5 1261.1,474.7 1261.9,474.2 1262.7,474 1263.5,473.7 1264.3,472.8 1265.1,471.5 1265.9,469.7 1266.7,468.3 1267.5,466 1268.3,462.9 1269.1,458.7 1269.9,453.6 1270.7,447.7 1271.5,440.9 1272.3,434.5 1273.1,428.5 1273.9,422.5 1274.7,416.3 1275.5,412.6 1276.3,410.8 1277.1,410 1277.9,411.3 1278.7,414.1 1279.5,420.2 1280.3,427.1 1281.1,432.5 1281.9,436.5 1282.7,441.5 1283.5,447.1 1284.3,452.5 1285.1,458.2 1285.9,462.6 1286.7,466 1287.5,469.2 1288.3,472.1 1289.1,474.5 1289.9,475.1 1290.7,475.1 1291.5,475.9 1292.3,476.2 1293.1,476.5 1293.9,476.7 1294.7,477.6 1295.5,478.6 1296.3,478.1 1297.1,477.5 1297.9,477.7 1298.7,478.5 1299.5,478.9 1300.3,477.7 1301.1,477.4 1301.9,477.8 1302.7,477.5 1303.5,478.2 1304.3,479.2 1305.1,478.8 1305.9,478 1306.7,477.5 1307.5,477.4 1308.3,477.9 1309.1,479 1309.9,479.9 1310.7,479.6 1311.5,478.4 1312.3,478 1313.1,478 1313.9,477.2 1314.7,477.3 1315.5,477.5 1316.3,477.2 1317.1,477.3 1317.9,477.6 1318.7,476.9 1319.5,476.9 1320.3,477.5 1321.1,477.7 1321.9,477.8 1322.7,478.6 1323.5,478.4 1324.3,478 1325.1,477.7 1325.9,477.4 1326.7,477.9 1327.5,478.9 1328.3,479 1329.1,478.9 1329.9,478.9 1330.7,478.6 1331.5,478.7 1332.3,478.4 1333.1,478.1 1333.9,478.1 1334.7,477.8 1335.5,478.1 1336.3,478.3 1337.1,479.1 1337.9,479.9 1338.7,479.3 1339.5,478.4 1340.3,478.1 1341.1,477.7 1341.9,477.1 1342.7,477.3 1343.5,478.2 1344.3,478.2 1345.1,477.5 1345.9,478 1346.7,478.8 1347.5,478.5 1348.3,478.2 1349.1,478.4 1349.9,478.3 1350.7,479 1351.5,479 1352.3,477.7 1353.1,478 1353.9,478.6 1354.7,478.3 1355.5,477.6 1356.3,477.2 1357.1,477.1 1357.9,477.8 1358.7,478.2 1359.5,477.4 1360.3,476.9 1361.1,477.2 1361.9,477.7 1362.7,477.8 1363.5,477.6 1364.3,477 1365.1,475.5 1365.9,475.1 1366.7,476.7 1367.5,476.9 1368.3,474.9 1369.1,474.1 1369.9,474.8 1370.7,475.2 1371.5,475.1 1372.3,474.7 1373.1,473.8 1373.9,473.4 1374.7,473.2 1375.5,473.5 1376.3,475 1377.1,476.3 1377.9,476.8 1378.7,477.4 1379.5,478.1 1380.3,477.8 1381.1,477 1381.9,476 1382.7,476.7 1383.5,478 1384.3,478 1385.1,477.6 1385.9,477.7 1386.7,478.9 1387.5,479.1 1388.3,478.7 1389.1,478.7 1389.9,479.1 1390.7,479.4 1391.5,478.1 1392.3,476.1 1393.1,475.6 1393.9,475.5 1394.7,474.1 1395.5,472.4 1396.3,471.3 1397.1,470.1 1397.9,468.4 1398.7,466 1399.5,464.7 1400.3,464.3 1401.1,463.4 1401.9,463.3 1402.7,463.7 1403.5,463.5 1404.3,463.5 1405.1,463.4 1405.9,463 1406.7,462.5 1407.5,461.3 1408.3,461.5 1409.1,465.5 1409.9,469.9 1410.7,471.3 1411.5,471.2 1412.3,471.3 1413.1,471.7 1413.9,471.6 1414.7,471.7 1415.5,472.7 1416.3,473.4 1417.1,475.2 1417.9,477.5 1418.7,478.4 1419.5,479.2 1420.3,479.4 1421.1,479.5 1421.9,479.5 1422.7,479.1 1423.5,478.4 1424.3,478.2 1425.1,478.4 1425.9,477.8 1426.7,478.2 1427.5,479 1428.3,478.6 1429.1,478 1429.9,478.2 1430.7,479.1 1431.5,479.4 1432.3,479.7 1433.1,480.2 1433.9,480.6 1434.7,479.2 1435.5,478.1 1436.3,478.8 1437.1,479.4 1437.9,479 1438.7,478.7 1439.5,479.5 1440.3,479.5 1441.1,478.7 1441.9,478.2 1442.7,479 1443.5,479.7 1444.3,479.8 1445.1,478.8 1445.9,478 1446.7,478.2 1447.5,478.4 1448.3,478.5 1449.1,478.2 1449.9,478.3 1450.7,478.6 1451.5,478.5 1452.3,478.1 1453.1,478 1453.9,478.2 1454.7,478.3 1455.5,478.4 1456.3,477.7 1457.1,477.1 1457.9,478.4 1458.7,479.7 1459.5,479.7 1460.3,479.5 1461.1,479 1461.9,478.1 1462.7,477.9 1463.5,479.1 1464.3,479.9 1465.1,479.7 1465.9,479.3 1466.7,479.1 1467.5,478.8 1468.3,478.8 1469.1,478.7 1469.9,478.4 1470.7,477.7 1471.5,477.8 1472.3,478.3 1473.1,477.4 1473.9,476.5 1474.7,476.7 1475.5,477.4 1476.3,479.2 1477.1,479.7 1477.9,478.9 1478.7,477.7 1479.5,477.2 1480.3,477.6 1481.1,477.8 1481.9,477.8 1482.7,478.4 1483.5,478.9 1484.3,478.4 1485.1,476.9 1485.9,476.3 1486.7,477.1 1487.5,477.9 1488.3,479 1489.1,480.2 1489.9,480.3 1490.7,479.7 1491.5,479.9 1492.3,479.9 1493.1,479.1 1493.9,478.9 1494.7,478.9 1495.5,478.3 1496.3,477.6 1497.1,477.5 1497.9,477.7 1498.7,478 1499.5,478.5 1500.3,478.9 1501.1,479.6 1501.9,479.3 1502.7,478.3 1503.5,478.6 1504.3,478.9 1505.1,479.4 1505.9,479.2 1506.7,478.8 1507.5,478.7 1508.3,478.4 1509.1,478.7 1509.9,478.9 1510.7,478.7 1511.5,478.5 1512.3,478.2 1513.1,478.3 1513.9,478.3 1514.7,479 1515.5,479.6 1516.3,479.6 1517.1,480 1517.9,480.9 1518.7,480 1519.5,479 1520.3,479 1521.1,479.6 1521.9,479.5 1522.7,479.3 1523.5,478.8 1524.3,478.8 1525.1,479.1 1525.9,479.3 1526.7,478.7 1527.5,478.3 1528.3,478.3 1529.1,477.8 1529.9,477.9 1530.7,478.2 1531.5,478 1532.3,478.4 1533.1,478.3 1533.9,478.1 1534.7,478.7 1535.5,479 1536.3,478.5 1537.1,478.7 1537.9,479.4 1538.7,479.4 1539.5,478.6 1540.3,477.8 1541.1,477.5 1541.9,478.2 1542.7,479.2 1543.5,479.6 1544.3,479.8 1545.1,479.8 1545.9,479 1546.7,478.5 1547.5,479.1 1548.3,479.3 1549.1,478.3 1549.9,478.7 1550.7,479.5 1551.5,480.2 1552.3,481.3 1553.1,481.1 1553.9,479.9 1554.7,479 1555.5,479.1 1556.3,479.1 1557.1,479.2 1557.9,479.2 1558.7,479.3 1559.5,480.2 1560.3,481 1561.1,480.5 1561.9,478.7 1562.7,477.3 1563.5,477.7 1564.3,477.3 1565.1,475.8 1565.9,475 1566.7,474.9 1567.5,474.6 1568.3,474.3 1569.1,473.5 1569.9,473.1 1570.7,473.1 1571.5,472.9 1572.3,473.4 1573.1,473.7 1573.9,473.4 1574.7,473.8 1575.5,473.9 1576.3,474.1 1577.1,474 1577.9,473.3 1578.7,472.9 1579.5,473.2 1580.3,474.6 1581.1,476.8 1581.9,479.1 1582.7,479.4 1583.5,478.8 1584.3,479.6 1585.1,480 1585.9,479.9 1586.7,480.3 1587.5,480.3 1588.3,479.6 1589.1,479.3 1589.9,479.2 1590.7,478.9 1591.5,479.1 1592.3,478.9 1593.1,478.4 1593.9,478.4 1594.7,479.2 1595.5,479.7 1596.3,479.2 1597.1,478.7 1597.9,479.1 1598.7,479.4 1599.5,479.7 1600.3,479.5 1601.1,478.5 1601.9,478.2 1602.7,478.1 1603.5,478.9 1604.3,480.3 1605.1,479.7 1605.9,478.4 1606.7,478.7 1607.5,479.3 1608.3,479.8 1609.1,479.6 1609.9,479.3 1610.7,479.5 1611.5,479.6 1612.3,479.1 1613.1,478.1 1613.9,477.2 1614.7,475.9 1615.5,474.1 1616.3,473.2 1617.1,472.5 1617.9,471.8 1618.7,471.1 1619.5,469.8 1620.3,469 1621.1,468.6 1621.9,468.3 1622.7,467.2 1623.5,466.3 1624.3,465.7 1625.1,465.4 1625.9,466.2 1626.7,466.9 1627.5,467.7 1628.3,469 1629.1,470.7 1629.9,472.3 1630.7,473.4 1631.5,473.5 1632.3,473.5 1633.1,474.6 1633.9,476.6 1634.7,478.1 1635.5,478.1 1636.3,478 1637.1,478.6 1637.9,479 1638.7,478.8 1639.5,477.9 1640.3,477.4 1641.1,478.8 1641.9,480.2 1642.7,479.5 1643.5,478.3 1644.3,478.4 1645.1,479.2 1645.9,480.5 1646.7,480.2 1647.5,479.4 1648.3,479.7 1649.1,479.7 1649.9,479.9 1650.7,479.6 1651.5,479.2 1652.3,479.4 1653.1,479.5 1653.9,480.2 1654.7,479.7 1655.5,478.5 1656.3,478.7 1657.1,480.5 1657.9,480.8 1658.7,480 1659.5,480.4 1660.3,480.2 1661.1,479.5 1661.9,479.4 1662.7,479.9 1663.5,480.4 1664.3,479.6 1665.1,479.2 1665.9,480.5 1666.7,480.3 1667.5,478.9 1668.3,478.5 1669.1,478.6 1669.9,479.2 1670.7,479.6 1671.5,479.3 1672.3,478.6 1673.1,478.7 1673.9,479.4 1674.7,480 1675.5,480.3 1676.3,479.5 1677.1,479.2 1677.9,478.9 1678.7,478.8 1679.5,479.3 1680.3,478.8 1681.1,478 1681.9,478.3 1682.7,478.6 1683.5,478.5 1684.3,479.1 1685.1,479.2 1685.9,479 1686.7,479.8 1687.5,480.1 1688.3,479.5 1689.1,479.3 1689.9,480 1690.7,479.5 1691.5,478 1692.3,477.5 1693.1,477.5 1693.9,477.1 1694.7,477.2 1695.5,478.1 1696.3,478.5 1697.1,478.7 1697.9,478.9 1698.7,478.2 1699.5,478 1700.3,478 1701.1,477.9 1701.9,478.2 1702.7,478.6 1703.5,478.9 1704.3,478.8 1705.1,478.1 1705.9,477.6 1706.7,477.1 1707.5,477.4 1708.3,478.2 1709.1,479.3 1709.9,479.6 1710.7,479.8 1711.5,480.5 1712.3,480.4 1713.1,479.2 1713.9,477.8 1714.7,477.2 1715.5,477.8 1716.3,478 1717.1,477.8 1717.9,477.7 1718.7,477.9 1719,478.7" fill="none" stroke="#ff00ff" stroke-width="2.4" stroke-linejoin="round" stroke-linecap="butt" clip-path="url(#cr3)"/>
<clipPath id="cr4"><rect x="1142.7" y="482.1" width="577.5" height="121.6"/></clipPath>
<polyline points="1142.7,596.4 1143.5,596.9 1144.3,595.3 1145.1,594.2 1145.9,594 1146.7,594.2 1147.5,593.2 1148.3,594 1149.1,593.9 1149.9,593 1150.7,593 1151.5,594.3 1152.3,594.7 1153.1,593.3 1153.9,593.4 1154.7,593.3 1155.5,591.3 1156.3,589.9 1157.1,588.8 1157.9,588.5 1158.7,588.1 1159.5,587.2 1160.3,586.2 1161.1,585 1161.9,584.5 1162.7,584.6 1163.5,584.7 1164.3,583.2 1165.1,582.7 1165.9,584.6 1166.7,586.2 1167.5,586.5 1168.3,587.6 1169.1,589.3 1169.9,590 1170.7,590 1171.5,591.1 1172.3,591.9 1173.1,592.6 1173.9,592.3 1174.7,593.3 1175.5,593.4 1176.3,593.2 1177.1,594.7 1177.9,595.2 1178.7,595.1 1179.5,596.9 1180.3,596.2 1181.1,596.3 1181.9,597.3 1182.7,598.4 1183.5,598.6 1184.3,598.6 1185.1,599.4 1185.9,599.5 1186.7,600.4 1187.5,601 1188.3,598.9 1189.1,596.8 1189.9,597.5 1190.7,597.9 1191.5,598.7 1192.3,598.7 1193.1,597.8 1193.9,597.8 1194.7,598.5 1195.5,598.2 1196.3,597.4 1197.1,599.2 1197.9,599.4 1198.7,599.3 1199.5,599.2 1200.3,598.6 1201.1,599.2 1201.9,600.2 1202.7,600.4 1203.5,599.8 1204.3,599 1205.1,598.9 1205.9,600.1 1206.7,599.8 1207.5,598.5 1208.3,597.3 1209.1,597.5 1209.9,597.9 1210.7,599.7 1211.5,599.5 1212.3,598.7 1213.1,599.5 1213.9,601.4 1214.7,600.4 1215.5,598.5 1216.3,598.4 1217.1,597.8 1217.9,597.7 1218.7,599.5 1219.5,601.5 1220.3,601 1221.1,599.6 1221.9,599 1222.7,599.5 1223.5,599.6 1224.3,597.9 1225.1,598 1225.9,600.2 1226.7,600.3 1227.5,600.6 1228.3,600.2 1229.1,600.2 1229.9,599.3 1230.7,599.9 1231.5,600.8 1232.3,600.3 1233.1,599.4 1233.9,599.6 1234.7,598.6 1235.5,598.2 1236.3,599.6 1237.1,600.6 1237.9,599.9 1238.7,598.8 1239.5,599.7 1240.3,599.8 1241.1,598.4 1241.9,597.5 1242.7,599.6 1243.5,600.3 1244.3,599.4 1245.1,597.7 1245.9,598 1246.7,599.8 1247.5,600.3 1248.3,599.8 1249.1,599.3 1249.9,599.4 1250.7,598.9 1251.5,598.7 1252.3,598.6 1253.1,599.2 1253.9,599.3 1254.7,600.1 1255.5,599.9 1256.3,599.4 1257.1,600.2 1257.9,599.1 1258.7,599.7 1259.5,600.6 1260.3,600 1261.1,598.3 1261.9,599.9 1262.7,600.9 1263.5,600.2 1264.3,597.9 1265.1,598.3 1265.9,599 1266.7,599.4 1267.5,600.1 1268.3,599.6 1269.1,600.3 1269.9,599.7 1270.7,598.2 1271.5,598.1 1272.3,598.8 1273.1,599.6 1273.9,600.1 1274.7,599.8 1275.5,599.6 1276.3,597.6 1277.1,596.6 1277.9,598.4 1278.7,599.5 1279.5,599 1280.3,598.7 1281.1,599.9 1281.9,600.9 1282.7,599.6 1283.5,598.6 1284.3,599 1285.1,600.6 1285.9,600 1286.7,600.2 1287.5,600.7 1288.3,600.2 1289.1,599.2 1289.9,600 1290.7,600.3 1291.5,600.2 1292.3,600 1293.1,599.1 1293.9,599 1294.7,599 1295.5,599.5 1296.3,599.1 1297.1,599.1 1297.9,598.5 1298.7,598.8 1299.5,598.9 1300.3,599.1 1301.1,599.3 1301.9,599 1302.7,598.5 1303.5,597.9 1304.3,599.3 1305.1,599 1305.9,598.7 1306.7,598.8 1307.5,599.5 1308.3,599 1309.1,599.7 1309.9,600.7 1310.7,601.1 1311.5,600.7 1312.3,599.7 1313.1,598.9 1313.9,600.2 1314.7,600.7 1315.5,600.4 1316.3,600.1 1317.1,599.4 1317.9,599.2 1318.7,600.3 1319.5,600.3 1320.3,599.1 1321.1,599.8 1321.9,600 1322.7,600.2 1323.5,600.1 1324.3,600.6 1325.1,600.7 1325.9,600 1326.7,598.8 1327.5,599.6 1328.3,599.3 1329.1,598.7 1329.9,599.3 1330.7,598.8 1331.5,600.2 1332.3,600.8 1333.1,599.8 1333.9,600.2 1334.7,600.2 1335.5,599.8 1336.3,598.8 1337.1,599.7 1337.9,600 1338.7,600.2 1339.5,600.1 1340.3,600.5 1341.1,600.3 1341.9,600.6 1342.7,600.9 1343.5,600.4 1344.3,600.5 1345.1,600.2 1345.9,600 1346.7,599.7 1347.5,600.5 1348.3,600.9 1349.1,600.3 1349.9,600.5 1350.7,600.1 1351.5,599.3 1352.3,600.2 1353.1,600.8 1353.9,599.4 1354.7,598.5 1355.5,599.5 1356.3,600 1357.1,601.2 1357.9,600.4 1358.7,599.8 1359.5,599.6 1360.3,599.8 1361.1,599.2 1361.9,598.8 1362.7,598.9 1363.5,598.9 1364.3,599.4 1365.1,598.2 1365.9,597.9 1366.7,597.2 1367.5,596.9 1368.3,597.4 1369.1,595.7 1369.9,595.8 1370.7,594.1 1371.5,594 1372.3,593.5 1373.1,589.2 1373.9,587.1 1374.7,586.4 1375.5,583 1376.3,578.4 1377.1,573.6 1377.9,567.4 1378.7,559.6 1379.5,550.7 1380.3,542 1381.1,535.2 1381.9,530.1 1382.7,526.9 1383.5,526.6 1384.3,531.1 1385.1,536.9 1385.9,542.6 1386.7,549.7 1387.5,556.8 1388.3,562.5 1389.1,568.3 1389.9,575 1390.7,580.9 1391.5,585.2 1392.3,587.8 1393.1,590.8 1393.9,593.7 1394.7,595 1395.5,595.2 1396.3,596.2 1397.1,597.5 1397.9,596.8 1398.7,596.2 1399.5,596.2 1400.3,597.5 1401.1,598.4 1401.9,599.5 1402.7,599 1403.5,599.5 1404.3,600.2 1405.1,600.1 1405.9,598.9 1406.7,599.8 1407.5,599.4 1408.3,598.9 1409.1,598.7 1409.9,598.6 1410.7,598.2 1411.5,597.5 1412.3,598.9 1413.1,599.1 1413.9,598.5 1414.7,599.5 1415.5,601 1416.3,600 1417.1,599.5 1417.9,600.2 1418.7,599 1419.5,598.8 1420.3,598.7 1421.1,599.1 1421.9,599.9 1422.7,599.7 1423.5,598.9 1424.3,599 1425.1,599.2 1425.9,599.1 1426.7,599.1 1427.5,598.7 1428.3,598.8 1429.1,599.1 1429.9,599 1430.7,600.2 1431.5,599.9 1432.3,599.3 1433.1,599.4 1433.9,599.7 1434.7,600 1435.5,600.2 1436.3,599.9 1437.1,599.9 1437.9,601.2 1438.7,601.2 1439.5,600.7 1440.3,600.9 1441.1,600.5 1441.9,600 1442.7,600.7 1443.5,602.3 1444.3,601.7 1445.1,600.9 1445.9,600.1 1446.7,600.8 1447.5,601.7 1448.3,600.9 1449.1,600.9 1449.9,600.9 1450.7,600.5 1451.5,600.5 1452.3,599.6 1453.1,598.9 1453.9,598.7 1454.7,599.5 1455.5,597.8 1456.3,596.2 1457.1,595.3 1457.9,593.1 1458.7,591.4 1459.5,589.8 1460.3,588.4 1461.1,586.7 1461.9,585.4 1462.7,583.7 1463.5,582.2 1464.3,581.3 1465.1,580.7 1465.9,580.7 1466.7,581.8 1467.5,582.4 1468.3,582.3 1469.1,582.7 1469.9,584.7 1470.7,585.9 1471.5,587.9 1472.3,589.1 1473.1,589.8 1473.9,590.6 1474.7,592.3 1475.5,594.4 1476.3,593.6 1477.1,593.1 1477.9,592.9 1478.7,591.9 1479.5,590.4 1480.3,587.9 1481.1,587.3 1481.9,588.3 1482.7,585.7 1483.5,584.2 1484.3,584.3 1485.1,584.1 1485.9,583 1486.7,583.3 1487.5,583.6 1488.3,584.1 1489.1,584 1489.9,583.7 1490.7,583.4 1491.5,583.7 1492.3,586.1 1493.1,586.8 1493.9,588.8 1494.7,591.3 1495.5,591.7 1496.3,592.7 1497.1,593.5 1497.9,594.7 1498.7,595.2 1499.5,595.9 1500.3,597.4 1501.1,597 1501.9,596.7 1502.7,597.9 1503.5,598.9 1504.3,598.9 1505.1,600.2 1505.9,601.2 1506.7,601.5 1507.5,600.2 1508.3,599.8 1509.1,598.8 1509.9,599.3 1510.7,600 1511.5,600.3 1512.3,600.1 1513.1,599.8 1513.9,599.5 1514.7,599.7 1515.5,600.3 1516.3,600.8 1517.1,601 1517.9,601.3 1518.7,600.8 1519.5,599 1520.3,599.3 1521.1,599.7 1521.9,599.9 1522.7,601 1523.5,601 1524.3,600.4 1525.1,600.6 1525.9,601.1 1526.7,600.2 1527.5,600.1 1528.3,600.9 1529.1,601.2 1529.9,601.5 1530.7,601.1 1531.5,600.7 1532.3,599.8 1533.1,599.4 1533.9,599.3 1534.7,598.4 1535.5,600.1 1536.3,601 1537.1,600.5 1537.9,600.4 1538.7,601 1539.5,600.8 1540.3,601.5 1541.1,602.3 1541.9,601.6 1542.7,601.2 1543.5,600.8 1544.3,600.5 1545.1,600.4 1545.9,600.5 1546.7,600.4 1547.5,599.1 1548.3,599.5 1549.1,600.1 1549.9,599.4 1550.7,599.4 1551.5,599.3 1552.3,600.1 1553.1,600.8 1553.9,601 1554.7,600.1 1555.5,599.2 1556.3,599.6 1557.1,600.1 1557.9,599.9 1558.7,598 1559.5,598.3 1560.3,597.8 1561.1,598.9 1561.9,599.2 1562.7,599.1 1563.5,599.1 1564.3,598.4 1565.1,597.6 1565.9,598 1566.7,598.2 1567.5,597 1568.3,595.9 1569.1,595 1569.9,595.4 1570.7,594.2 1571.5,593.3 1572.3,593.1 1573.1,593.1 1573.9,593.9 1574.7,595 1575.5,595.3 1576.3,595.7 1577.1,595.4 1577.9,594.2 1578.7,595 1579.5,596.4 1580.3,596.7 1581.1,594.7 1581.9,594.8 1582.7,596.4 1583.5,596.7 1584.3,596.8 1585.1,597.7 1585.9,597.3 1586.7,597 1587.5,598.7 1588.3,599.8 1589.1,600.5 1589.9,600.8 1590.7,600.2 1591.5,599.7 1592.3,599 1593.1,598.6 1593.9,599.6 1594.7,600.9 1595.5,601.4 1596.3,601.7 1597.1,600.1 1597.9,599.1 1598.7,600.6 1599.5,600.8 1600.3,599.2 1601.1,598.8 1601.9,600.1 1602.7,600.5 1603.5,599.5 1604.3,599.5 1605.1,599 1605.9,598.1 1606.7,597.7 1607.5,598.1 1608.3,597.7 1609.1,596.8 1609.9,596.7 1610.7,599.1 1611.5,598.9 1612.3,599 1613.1,599.1 1613.9,599.4 1614.7,598.9 1615.5,599.5 1616.3,600 1617.1,600.2 1617.9,599.1 1618.7,599.1 1619.5,600 1620.3,600.9 1621.1,599.4 1621.9,599.5 1622.7,599.5 1623.5,600.1 1624.3,600.4 1625.1,600.2 1625.9,600.2 1626.7,600 1627.5,599.4 1628.3,599.1 1629.1,598.5 1629.9,599 1630.7,599.1 1631.5,599.7 1632.3,600.4 1633.1,600.5 1633.9,600.6 1634.7,600.2 1635.5,598.5 1636.3,599.5 1637.1,599.9 1637.9,599.4 1638.7,599 1639.5,600.2 1640.3,601.1 1641.1,600.9 1641.9,600.2 1642.7,600.6 1643.5,601.2 1644.3,601.7 1645.1,601 1645.9,599.6 1646.7,598.6 1647.5,597.9 1648.3,597 1649.1,596 1649.9,595.6 1650.7,594.1 1651.5,593.2 1652.3,592.9 1653.1,591.8 1653.9,590.5 1654.7,589.2 1655.5,589.7 1656.3,589 1657.1,587.9 1657.9,587.4 1658.7,586.4 1659.5,585.8 1660.3,586.5 1661.1,585.4 1661.9,585.7 1662.7,585.9 1663.5,584.5 1664.3,584.4 1665.1,584.8 1665.9,586.2 1666.7,586.1 1667.5,586.5 1668.3,588.5 1669.1,589.2 1669.9,589.2 1670.7,590.9 1671.5,592.2 1672.3,594.3 1673.1,594.4 1673.9,593.1 1674.7,593.1 1675.5,593.4 1676.3,594.5 1677.1,595.2 1677.9,596 1678.7,595.7 1679.5,594.9 1680.3,595.9 1681.1,598 1681.9,598.4 1682.7,597.8 1683.5,597.9 1684.3,598.2 1685.1,598.2 1685.9,598 1686.7,599.2 1687.5,599 1688.3,598.6 1689.1,597.7 1689.9,599.3 1690.7,599.9 1691.5,598.7 1692.3,600.2 1693.1,600.1 1693.9,598.9 1694.7,598.7 1695.5,600.2 1696.3,600.4 1697.1,600.2 1697.9,599.6 1698.7,599.4 1699.5,600 1700.3,599.6 1701.1,599.8 1701.9,598.6 1702.7,598.4 1703.5,598.8 1704.3,599.9 1705.1,598.6 1705.9,598.8 1706.7,600.1 1707.5,600.8 1708.3,602 1709.1,601.9 1709.9,601 1710.7,600 1711.5,598.5 1712.3,598.6 1713.1,599.3 1713.9,599.2 1714.7,598.5 1715.5,598.6 1716.3,599.3 1717.1,600.5 1717.9,600.3 1718.7,599.7 1719,599.6" fill="none" stroke="#000000" stroke-width="2.4" stroke-linejoin="round" stroke-linecap="butt" clip-path="url(#cr4)"/>
<clipPath id="cr5"><rect x="1142.7" y="602.3" width="577.5" height="121.6"/></clipPath>
<polyline points="1142.7,714.2 1143.5,714.4 1144.3,714.1 1145.1,714.6 1145.9,714.1 1146.7,713.2 1147.5,714.5 1148.3,714.4 1149.1,713.2 1149.9,713.8 1150.7,714.2 1151.5,713.8 1152.3,714.1 1153.1,713.9 1153.9,713.8 1154.7,712.7 1155.5,711.7 1156.3,711.4 1157.1,710.8 1157.9,709.5 1158.7,708.2 1159.5,707.3 1160.3,706.9 1161.1,706.5 1161.9,706.4 1162.7,705.9 1163.5,704.9 1164.3,703.9 1165.1,704.1 1165.9,706 1166.7,707.3 1167.5,707.4 1168.3,708.4 1169.1,709 1169.9,709.8 1170.7,710.4 1171.5,710.5 1172.3,710.1 1173.1,710.2 1173.9,712.5 1174.7,713.7 1175.5,713.2 1176.3,713.8 1177.1,714.1 1177.9,714.7 1178.7,715 1179.5,715.9 1180.3,716.3 1181.1,715.9 1181.9,717.3 1182.7,717.3 1183.5,716.6 1184.3,718.2 1185.1,718.7 1185.9,718.9 1186.7,719 1187.5,718.4 1188.3,717.9 1189.1,718.3 1189.9,719.2 1190.7,721.1 1191.5,721 1192.3,719.3 1193.1,718.9 1193.9,719.6 1194.7,719.6 1195.5,718.8 1196.3,719 1197.1,720.8 1197.9,720.3 1198.7,718.2 1199.5,717.6 1200.3,718.5 1201.1,719.6 1201.9,719.8 1202.7,719 1203.5,718.3 1204.3,719.4 1205.1,720 1205.9,719.5 1206.7,719.3 1207.5,719.7 1208.3,719.3 1209.1,718.7 1209.9,718.9 1210.7,718.8 1211.5,720 1212.3,719.8 1213.1,719 1213.9,719.7 1214.7,719.9 1215.5,718.2 1216.3,719.2 1217.1,720.2 1217.9,718.7 1218.7,718.6 1219.5,718.3 1220.3,718.4 1221.1,717.2 1221.9,717.5 1222.7,718.7 1223.5,719.5 1224.3,719.9 1225.1,720.2 1225.9,720.6 1226.7,720.5 1227.5,720 1228.3,719 1229.1,720 1229.9,722.4 1230.7,722.2 1231.5,721 1232.3,720.5 1233.1,720.3 1233.9,720 1234.7,720.7 1235.5,719.7 1236.3,719.9 1237.1,720.5 1237.9,718.6 1238.7,718.8 1239.5,718.1 1240.3,718.5 1241.1,719.1 1241.9,719.2 1242.7,719.3 1243.5,718.9 1244.3,718.9 1245.1,718.5 1245.9,718.5 1246.7,718.5 1247.5,719.3 1248.3,718.9 1249.1,719.6 1249.9,719.3 1250.7,719.5 1251.5,720.4 1252.3,719.4 1253.1,718.3 1253.9,718.7 1254.7,717.6 1255.5,718.9 1256.3,718.9 1257.1,718.5 1257.9,719.2 1258.7,719.9 1259.5,720.9 1260.3,720.4 1261.1,721.3 1261.9,721 1262.7,719.4 1263.5,719.2 1264.3,720.4 1265.1,719.9 1265.9,719.7 1266.7,719.2 1267.5,718.6 1268.3,718.8 1269.1,718.4 1269.9,718.2 1270.7,719.5 1271.5,721.3 1272.3,721.3 1273.1,720.1 1273.9,719.9 1274.7,720.5 1275.5,720.9 1276.3,720.1 1277.1,719.3 1277.9,719.6 1278.7,721.1 1279.5,721.7 1280.3,719.3 1281.1,718.2 1281.9,719.7 1282.7,719.8 1283.5,720 1284.3,720.6 1285.1,719.6 1285.9,718.1 1286.7,717.7 1287.5,718.7 1288.3,718.7 1289.1,719.1 1289.9,718.6 1290.7,718.6 1291.5,718.2 1292.3,718.8 1293.1,719.3 1293.9,720.2 1294.7,720.6 1295.5,719.6 1296.3,719.4 1297.1,720.9 1297.9,720.5 1298.7,720.3 1299.5,720.5 1300.3,721.1 1301.1,720.9 1301.9,720.5 1302.7,720 1303.5,718.9 1304.3,718.8 1305.1,719.3 1305.9,719.5 1306.7,719.6 1307.5,719.7 1308.3,719.5 1309.1,718.7 1309.9,718.4 1310.7,719.8 1311.5,719.9 1312.3,719.1 1313.1,719.8 1313.9,719.9 1314.7,719.2 1315.5,717.8 1316.3,718 1317.1,719.1 1317.9,720.3 1318.7,719.2 1319.5,718.8 1320.3,718.5 1321.1,718.9 1321.9,719.1 1322.7,717.3 1323.5,717.1 1324.3,719.3 1325.1,719.6 1325.9,719.4 1326.7,720.4 1327.5,720 1328.3,718.3 1329.1,719.3 1329.9,720.2 1330.7,719.4 1331.5,719.5 1332.3,720.2 1333.1,719.4 1333.9,718.5 1334.7,718.5 1335.5,718.7 1336.3,719.3 1337.1,718.8 1337.9,719.6 1338.7,718.8 1339.5,719 1340.3,718.6 1341.1,719.5 1341.9,720.8 1342.7,721.3 1343.5,721.1 1344.3,720.2 1345.1,720 1345.9,720.3 1346.7,720.4 1347.5,720.1 1348.3,720.8 1349.1,720.9 1349.9,721.1 1350.7,720.9 1351.5,720.5 1352.3,719.6 1353.1,719.2 1353.9,718.9 1354.7,719.5 1355.5,720.1 1356.3,720.5 1357.1,720.3 1357.9,722.3 1358.7,721.3 1359.5,721.4 1360.3,720.6 1361.1,718.3 1361.9,719.4 1362.7,720 1363.5,718.2 1364.3,718.9 1365.1,718.3 1365.9,718.1 1366.7,717.8 1367.5,716.6 1368.3,716.8 1369.1,716 1369.9,715.4 1370.7,716.2 1371.5,716.9 1372.3,714 1373.1,711.3 1373.9,708.4 1374.7,705.5 1375.5,703.4 1376.3,700.3 1377.1,695 1377.9,689 1378.7,680.3 1379.5,671.3 1380.3,661.7 1381.1,655.2 1381.9,649.4 1382.7,645.5 1383.5,645.6 1384.3,650.2 1385.1,657.1 1385.9,663.2 1386.7,669.4 1387.5,677.1 1388.3,685.1 1389.1,691.4 1389.9,695.9 1390.7,700.1 1391.5,704.6 1392.3,709.9 1393.1,712.1 1393.9,713.7 1394.7,715.9 1395.5,717.6 1396.3,717.1 1397.1,715.7 1397.9,716.4 1398.7,716.8 1399.5,716.9 1400.3,716.8 1401.1,717.3 1401.9,717.6 1402.7,718.7 1403.5,718.6 1404.3,717.5 1405.1,717.3 1405.9,718.5 1406.7,719.7 1407.5,719.7 1408.3,718.5 1409.1,716.6 1409.9,717.8 1410.7,718.5 1411.5,718.5 1412.3,718.2 1413.1,718.6 1413.9,719.5 1414.7,721.4 1415.5,720.6 1416.3,719.5 1417.1,719.3 1417.9,719.3 1418.7,719.4 1419.5,719.2 1420.3,719.6 1421.1,720.4 1421.9,720.5 1422.7,720.3 1423.5,720.6 1424.3,719.8 1425.1,718.4 1425.9,717.8 1426.7,718.6 1427.5,719.5 1428.3,720.3 1429.1,720.5 1429.9,719.5 1430.7,719.9 1431.5,721.1 1432.3,721.4 1433.1,720.5 1433.9,721 1434.7,721.6 1435.5,721 1436.3,719.9 1437.1,719.2 1437.9,721 1438.7,721.2 1439.5,720.5 1440.3,719.7 1441.1,719.2 1441.9,719.8 1442.7,720.4 1443.5,720.7 1444.3,719.9 1445.1,720.9 1445.9,720.8 1446.7,720.7 1447.5,719.7 1448.3,720.3 1449.1,720.8 1449.9,719.7 1450.7,718.3 1451.5,718.8 1452.3,719 1453.1,717.5 1453.9,717.1 1454.7,717.4 1455.5,716.5 1456.3,715.8 1457.1,713.4 1457.9,711.4 1458.7,711.2 1459.5,711.2 1460.3,708.6 1461.1,706.9 1461.9,705.3 1462.7,703.7 1463.5,703.6 1464.3,702.5 1465.1,701.2 1465.9,699.4 1466.7,698.8 1467.5,699.2 1468.3,701.5 1469.1,703.6 1469.9,706.1 1470.7,708.1 1471.5,708.5 1472.3,709.3 1473.1,711.3 1473.9,712.8 1474.7,712.6 1475.5,713.5 1476.3,713.5 1477.1,713.1 1477.9,712.7 1478.7,710.6 1479.5,709.3 1480.3,709.2 1481.1,707.8 1481.9,706.1 1482.7,705.1 1483.5,704.7 1484.3,704.2 1485.1,704.5 1485.9,704.7 1486.7,705.2 1487.5,705.2 1488.3,704.7 1489.1,704.2 1489.9,704.4 1490.7,705.3 1491.5,707.6 1492.3,707.5 1493.1,708.7 1493.9,710.1 1494.7,709.7 1495.5,710.5 1496.3,711.7 1497.1,712.3 1497.9,713.1 1498.7,715 1499.5,717.2 1500.3,717.7 1501.1,717.7 1501.9,717.6 1502.7,717.5 1503.5,719.3 1504.3,719.8 1505.1,719.3 1505.9,719.9 1506.7,719.9 1507.5,719.4 1508.3,719.1 1509.1,719.1 1509.9,719.4 1510.7,720.4 1511.5,720.7 1512.3,720.5 1513.1,720.1 1513.9,720.5 1514.7,721.2 1515.5,719.8 1516.3,720.8 1517.1,720.9 1517.9,720.4 1518.7,719.9 1519.5,719.7 1520.3,719 1521.1,719 1521.9,719.5 1522.7,719.3 1523.5,720.8 1524.3,720.5 1525.1,717.7 1525.9,718.4 1526.7,720.2 1527.5,720.7 1528.3,720.7 1529.1,721 1529.9,721.4 1530.7,721.8 1531.5,722.1 1532.3,721.2 1533.1,720.7 1533.9,719.4 1534.7,719.6 1535.5,719.9 1536.3,721.8 1537.1,722.7 1537.9,721.2 1538.7,719.6 1539.5,720 1540.3,720.5 1541.1,720.9 1541.9,721.5 1542.7,720.7 1543.5,719 1544.3,720.6 1545.1,720.2 1545.9,720.2 1546.7,721.1 1547.5,720 1548.3,718.7 1549.1,718.8 1549.9,720 1550.7,721.1 1551.5,721.3 1552.3,720.1 1553.1,719.9 1553.9,720.8 1554.7,720.2 1555.5,720.8 1556.3,720.3 1557.1,719.8 1557.9,719.4 1558.7,719.4 1559.5,718.8 1560.3,718.5 1561.1,718.5 1561.9,718.4 1562.7,718.7 1563.5,718.5 1564.3,718 1565.1,717.8 1565.9,718.1 1566.7,718.7 1567.5,717.3 1568.3,716 1569.1,715.6 1569.9,715.6 1570.7,714.7 1571.5,714.1 1572.3,713.9 1573.1,714.3 1573.9,714.6 1574.7,714.2 1575.5,712.8 1576.3,712.4 1577.1,712.4 1577.9,714.7 1578.7,716 1579.5,716.2 1580.3,716 1581.1,716.6 1581.9,716.5 1582.7,716.3 1583.5,715.9 1584.3,716.6 1585.1,717.8 1585.9,719.6 1586.7,720.5 1587.5,719.7 1588.3,720.1 1589.1,720.1 1589.9,719.1 1590.7,718.4 1591.5,718.8 1592.3,718.8 1593.1,719.6 1593.9,720 1594.7,720.1 1595.5,720.3 1596.3,720.4 1597.1,720 1597.9,720.4 1598.7,719.4 1599.5,720.1 1600.3,720.5 1601.1,719.5 1601.9,719.2 1602.7,720.3 1603.5,720.3 1604.3,721.1 1605.1,721 1605.9,720 1606.7,719.5 1607.5,719.5 1608.3,718.6 1609.1,717.8 1609.9,718.6 1610.7,719.5 1611.5,719.8 1612.3,720.1 1613.1,720 1613.9,719.7 1614.7,719 1615.5,719.1 1616.3,720.4 1617.1,720 1617.9,719.7 1618.7,719.1 1619.5,719.6 1620.3,720.3 1621.1,721.8 1621.9,719.9 1622.7,719.4 1623.5,720.8 1624.3,720.6 1625.1,718.9 1625.9,720 1626.7,720.5 1627.5,719.6 1628.3,720.1 1629.1,719.6 1629.9,719.1 1630.7,719.4 1631.5,719.3 1632.3,719.5 1633.1,721.3 1633.9,720.2 1634.7,719.7 1635.5,720.5 1636.3,720.6 1637.1,721 1637.9,720.4 1638.7,720.3 1639.5,720.3 1640.3,720.2 1641.1,720 1641.9,720.4 1642.7,721.1 1643.5,719.9 1644.3,719.4 1645.1,719.6 1645.9,719.8 1646.7,719.4 1647.5,718.4 1648.3,716.5 1649.1,716.1 1649.9,715.5 1650.7,714.6 1651.5,713.6 1652.3,711.9 1653.1,712.1 1653.9,711.4 1654.7,709.8 1655.5,709.9 1656.3,710.1 1657.1,708.4 1657.9,707.6 1658.7,706.3 1659.5,705.1 1660.3,704.6 1661.1,705 1661.9,706 1662.7,705.5 1663.5,704.7 1664.3,705.5 1665.1,705.4 1665.9,705.5 1666.7,706.5 1667.5,706.3 1668.3,706.8 1669.1,708.7 1669.9,708.6 1670.7,710 1671.5,710.3 1672.3,711.7 1673.1,712.5 1673.9,712.4 1674.7,712.1 1675.5,713.7 1676.3,714.5 1677.1,714.6 1677.9,715.6 1678.7,716.6 1679.5,716.2 1680.3,716.5 1681.1,716.5 1681.9,717.7 1682.7,719.2 1683.5,720.6 1684.3,720.1 1685.1,719.9 1685.9,720.2 1686.7,719.3 1687.5,719.9 1688.3,719.3 1689.1,719.4 1689.9,720.4 1690.7,720.6 1691.5,720.5 1692.3,719.2 1693.1,719.6 1693.9,719.5 1694.7,719.1 1695.5,718.7 1696.3,720.2 1697.1,720.1 1697.9,719 1698.7,718.6 1699.5,719.4 1700.3,720.9 1701.1,720.3 1701.9,720 1702.7,720.4 1703.5,720.3 1704.3,720.5 1705.1,720.8 1705.9,720.8 1706.7,720.6 1707.5,719.5 1708.3,719.8 1709.1,719.9 1709.9,720.1 1710.7,719.9 1711.5,719.6 1712.3,719.9 1713.1,720.6 1713.9,719.6 1714.7,719.2 1715.5,720.5 1716.3,720.9 1717.1,720.2 1717.9,719.9 1718.7,719.5 1719,720.1" fill="none" stroke="#0000ff" stroke-width="2.4" stroke-linejoin="round" stroke-linecap="butt" clip-path="url(#cr5)"/>
<clipPath id="cr6"><rect x="1142.7" y="722.5" width="577.5" height="121.6"/></clipPath>
<polyline points="1142.7,840.4 1143.5,839.7 1144.3,839.5 1145.1,840 1145.9,840.2 1146.7,840.4 1147.5,840.3 1148.3,839.9 1149.1,840.2 1149.9,840.5 1150.7,840 1151.5,839.7 1152.3,839.6 1153.1,840.5 1153.9,840.8 1154.7,839.9 1155.5,840.3 1156.3,840.5 1157.1,839.9 1157.9,839.6 1158.7,839.4 1159.5,839.6 1160.3,840.1 1161.1,840.4 1161.9,840.3 1162.7,840.5 1163.5,840.1 1164.3,839.8 1165.1,840.7 1165.9,840.7 1166.7,840.2 1167.5,840.8 1168.3,840.6 1169.1,840.5 1169.9,840.5 1170.7,839.1 1171.5,839.1 1172.3,840.1 1173.1,839.9 1173.9,839.9 1174.7,840.7 1175.5,840.3 1176.3,839.5 1177.1,839.8 1177.9,840.6 1178.7,840.7 1179.5,839.6 1180.3,839.9 1181.1,839.7 1181.9,839.3 1182.7,839.5 1183.5,839.3 1184.3,839.9 1185.1,840.8 1185.9,840.7 1186.7,840.7 1187.5,840.6 1188.3,840.5 1189.1,840.4 1189.9,839.7 1190.7,839.9 1191.5,840.3 1192.3,839.9 1193.1,840.1 1193.9,840.8 1194.7,840.9 1195.5,840 1196.3,839.8 1197.1,840.3 1197.9,840.3 1198.7,840 1199.5,840.4 1200.3,840.5 1201.1,840.8 1201.9,841.7 1202.7,841.4 1203.5,841 1204.3,841.2 1205.1,841.8 1205.9,841 1206.7,840.1 1207.5,840.2 1208.3,840.2 1209.1,840 1209.9,840.3 1210.7,840.3 1211.5,840.2 1212.3,840.1 1213.1,840.3 1213.9,839.8 1214.7,840.3 1215.5,840.4 1216.3,840 1217.1,839.5 1217.9,840.3 1218.7,839.6 1219.5,839.7 1220.3,840.3 1221.1,840 1221.9,839.6 1222.7,839.1 1223.5,839.7 1224.3,840.4 1225.1,840.5 1225.9,840.3 1226.7,840.4 1227.5,840.4 1228.3,839.9 1229.1,840.1 1229.9,840.9 1230.7,840.4 1231.5,840.7 1232.3,840.7 1233.1,840.8 1233.9,840.3 1234.7,840.5 1235.5,840.5 1236.3,840.3 1237.1,840.3 1237.9,840 1238.7,840.1 1239.5,840.2 1240.3,840.5 1241.1,840.1 1241.9,839.6 1242.7,839.9 1243.5,840 1244.3,840.1 1245.1,840.8 1245.9,840.8 1246.7,840.6 1247.5,840 1248.3,840.2 1249.1,840.5 1249.9,839.9 1250.7,840.3 1251.5,840.3 1252.3,840.1 1253.1,840.1 1253.9,839.9 1254.7,840 1255.5,839.6 1256.3,839.8 1257.1,840.6 1257.9,839.9 1258.7,839.5 1259.5,840.3 1260.3,839.6 1261.1,838.7 1261.9,839.9 1262.7,840.8 1263.5,840.9 1264.3,841.1 1265.1,840.7 1265.9,840.4 1266.7,840 1267.5,840.5 1268.3,841.1 1269.1,840.8 1269.9,840.2 1270.7,839.5 1271.5,839.7 1272.3,839.8 1273.1,840.4 1273.9,840.2 1274.7,840.3 1275.5,840.3 1276.3,840.9 1277.1,840.2 1277.9,840.7 1278.7,841.6 1279.5,840.8 1280.3,840.2 1281.1,840.7 1281.9,841 1282.7,840.6 1283.5,839.7 1284.3,839.9 1285.1,839.8 1285.9,840.9 1286.7,840.7 1287.5,840.3 1288.3,840.7 1289.1,840.6 1289.9,840.2 1290.7,840.9 1291.5,840.3 1292.3,839.9 1293.1,841 1293.9,841.5 1294.7,841.3 1295.5,840.7 1296.3,840.3 1297.1,841 1297.9,841.5 1298.7,841.3 1299.5,841.2 1300.3,840.5 1301.1,840.9 1301.9,840.8 1302.7,839.7 1303.5,839.4 1304.3,839.9 1305.1,840.4 1305.9,840.6 1306.7,840.4 1307.5,840.4 1308.3,840.4 1309.1,840.6 1309.9,840.8 1310.7,840.8 1311.5,840.6 1312.3,840.5 1313.1,840.4 1313.9,840.7 1314.7,840.6 1315.5,841.1 1316.3,840.8 1317.1,840.5 1317.9,840.1 1318.7,840.2 1319.5,840.5 1320.3,840.4 1321.1,840 1321.9,839.9 1322.7,840.4 1323.5,840.7 1324.3,841 1325.1,841.1 1325.9,840.3 1326.7,839.6 1327.5,839.8 1328.3,839.5 1329.1,839.8 1329.9,840.8 1330.7,840.8 1331.5,840.2 1332.3,840.1 1333.1,840.1 1333.9,839.8 1334.7,840.4 1335.5,840.7 1336.3,841.1 1337.1,840.5 1337.9,840.7 1338.7,840.6 1339.5,840.7 1340.3,840.4 1341.1,840.7 1341.9,840.3 1342.7,840.1 1343.5,840.4 1344.3,840.8 1345.1,841.1 1345.9,841.4 1346.7,840.8 1347.5,839.5 1348.3,839.7 1349.1,839.5 1349.9,840.2 1350.7,840.6 1351.5,839.9 1352.3,839.9 1353.1,840.4 1353.9,840.7 1354.7,841.3 1355.5,841.1 1356.3,841.2 1357.1,841.4 1357.9,840.7 1358.7,840.4 1359.5,840.2 1360.3,840.7 1361.1,841.3 1361.9,841.4 1362.7,840.7 1363.5,840.2 1364.3,839.9 1365.1,839.9 1365.9,840.6 1366.7,840.8 1367.5,839.5 1368.3,839.5 1369.1,840.6 1369.9,840.2 1370.7,840.3 1371.5,840.3 1372.3,840.9 1373.1,841.1 1373.9,841 1374.7,841.1 1375.5,840.9 1376.3,841.2 1377.1,841.7 1377.9,841.3 1378.7,840.4 1379.5,840.2 1380.3,840.4 1381.1,840.5 1381.9,840.6 1382.7,840.5 1383.5,840.9 1384.3,840.9 1385.1,840.9 1385.9,840.8 1386.7,840.8 1387.5,840.5 1388.3,841.3 1389.1,841.2 1389.9,841.1 1390.7,841.2 1391.5,841.4 1392.3,841.2 1393.1,840.9 1393.9,840.4 1394.7,840 1395.5,840.5 1396.3,840.6 1397.1,840.9 1397.9,841.4 1398.7,840.3 1399.5,840.7 1400.3,841.4 1401.1,841.5 1401.9,841.2 1402.7,840.2 1403.5,840.2 1404.3,840.8 1405.1,841 1405.9,841.5 1406.7,841.2 1407.5,841 1408.3,840.9 1409.1,840.7 1409.9,840.7 1410.7,840.5 1411.5,840.6 1412.3,840.6 1413.1,840.6 1413.9,839.9 1414.7,840 1415.5,840.8 1416.3,840.8 1417.1,840.3 1417.9,840.4 1418.7,840.6 1419.5,841.3 1420.3,840.7 1421.1,841.2 1421.9,840.8 1422.7,840.8 1423.5,840.7 1424.3,840.7 1425.1,841.3 1425.9,841.3 1426.7,840.7 1427.5,840.7 1428.3,841.8 1429.1,841.8 1429.9,841.1 1430.7,840.8 1431.5,840.9 1432.3,841.1 1433.1,841.2 1433.9,840.6 1434.7,840.6 1435.5,840.7 1436.3,841.6 1437.1,841.8 1437.9,841.2 1438.7,841.3 1439.5,841.5 1440.3,840.8 1441.1,840.6 1441.9,841.2 1442.7,841.2 1443.5,841.1 1444.3,841.5 1445.1,840.9 1445.9,840.2 1446.7,840.7 1447.5,841.2 1448.3,841.7 1449.1,841.1 1449.9,840.9 1450.7,841.1 1451.5,840.8 1452.3,840.3 1453.1,840.7 1453.9,841 1454.7,841.8 1455.5,842 1456.3,840.6 1457.1,840.2 1457.9,840.2 1458.7,840.3 1459.5,840.5 1460.3,841 1461.1,841.2 1461.9,840.2 1462.7,839.7 1463.5,840 1464.3,841.3 1465.1,841.4 1465.9,840.2 1466.7,840 1467.5,840.9 1468.3,841.6 1469.1,841.6 1469.9,841.3 1470.7,841.3 1471.5,841.1 1472.3,841 1473.1,841.7 1473.9,841 1474.7,840.4 1475.5,840.3 1476.3,840.2 1477.1,840.9 1477.9,841.2 1478.7,840.7 1479.5,841.6 1480.3,842.1 1481.1,841.3 1481.9,840.4 1482.7,840.3 1483.5,840.4 1484.3,840.1 1485.1,840.1 1485.9,840.6 1486.7,840.9 1487.5,841 1488.3,840.8 1489.1,841.8 1489.9,841.9 1490.7,841.4 1491.5,841.1 1492.3,841.6 1493.1,841.4 1493.9,841.9 1494.7,841.6 1495.5,840.7 1496.3,840.9 1497.1,841.9 1497.9,841.7 1498.7,841.1 1499.5,841.1 1500.3,841 1501.1,840.6 1501.9,840.7 1502.7,840.6 1503.5,840.7 1504.3,841 1505.1,840.7 1505.9,841.2 1506.7,841.3 1507.5,841.5 1508.3,841.7 1509.1,841.8 1509.9,841.6 1510.7,841.4 1511.5,841.1 1512.3,841.1 1513.1,840.7 1513.9,840.9 1514.7,841.3 1515.5,841.2 1516.3,841 1517.1,840.8 1517.9,841.4 1518.7,841 1519.5,841.1 1520.3,841.2 1521.1,841.4 1521.9,840.8 1522.7,840.2 1523.5,839.9 1524.3,840.4 1525.1,840.5 1525.9,841.3 1526.7,841.4 1527.5,840.1 1528.3,840.2 1529.1,841.1 1529.9,841.7 1530.7,841.4 1531.5,841.3 1532.3,841.4 1533.1,841.6 1533.9,842 1534.7,841.4 1535.5,840.5 1536.3,840.7 1537.1,840.9 1537.9,840.7 1538.7,840.7 1539.5,840.7 1540.3,840.8 1541.1,841.2 1541.9,840.8 1542.7,840.4 1543.5,840.6 1544.3,841.3 1545.1,842 1545.9,841.8 1546.7,841.8 1547.5,841.2 1548.3,840.2 1549.1,840.7 1549.9,840.5 1550.7,840.2 1551.5,840.6 1552.3,841.4 1553.1,840.5 1553.9,840.7 1554.7,841.6 1555.5,841.3 1556.3,840.4 1557.1,840.7 1557.9,840.8 1558.7,841 1559.5,841.3 1560.3,840.9 1561.1,841.1 1561.9,841.4 1562.7,840.4 1563.5,840.7 1564.3,841 1565.1,840.5 1565.9,840.4 1566.7,840.4 1567.5,840.8 1568.3,841 1569.1,841.5 1569.9,841.7 1570.7,841.2 1571.5,841 1572.3,841.1 1573.1,841 1573.9,840.7 1574.7,841.4 1575.5,841.5 1576.3,841.3 1577.1,840.8 1577.9,841.6 1578.7,842.3 1579.5,841.5 1580.3,840.6 1581.1,840.9 1581.9,841.1 1582.7,841.2 1583.5,841.1 1584.3,841.2 1585.1,841 1585.9,841 1586.7,840.9 1587.5,841.2 1588.3,841.5 1589.1,841.2 1589.9,841.2 1590.7,840.8 1591.5,840.8 1592.3,841.1 1593.1,841.5 1593.9,841.2 1594.7,841.3 1595.5,840.6 1596.3,841 1597.1,841.6 1597.9,841.4 1598.7,840.6 1599.5,840.6 1600.3,841.1 1601.1,840.8 1601.9,841.1 1602.7,841 1603.5,841.4 1604.3,842.4 1605.1,842.3 1605.9,841.6 1606.7,840.7 1607.5,841.1 1608.3,841.2 1609.1,841.3 1609.9,841.5 1610.7,840.6 1611.5,841 1612.3,841.1 1613.1,841.1 1613.9,841.6 1614.7,840.9 1615.5,841 1616.3,840.8 1617.1,839.9 1617.9,840 1618.7,840.6 1619.5,841.5 1620.3,841.8 1621.1,841.6 1621.9,841 1622.7,840.2 1623.5,840.8 1624.3,841.1 1625.1,841.8 1625.9,842.3 1626.7,842.5 1627.5,842 1628.3,841.5 1629.1,840.8 1629.9,840.8 1630.7,840.8 1631.5,841.2 1632.3,840.7 1633.1,840.8 1633.9,840.7 1634.7,840.9 1635.5,841.2 1636.3,841 1637.1,841 1637.9,841 1638.7,841.5 1639.5,841.3 1640.3,841.9 1641.1,841.9 1641.9,840.3 1642.7,840.3 1643.5,841.1 1644.3,841.6 1645.1,841.2 1645.9,841.2 1646.7,841 1647.5,841.1 1648.3,840.8 1649.1,840.9 1649.9,839.7 1650.7,840.2 1651.5,841.7 1652.3,841.4 1653.1,841.2 1653.9,842.2 1654.7,842.2 1655.5,841.8 1656.3,841.3 1657.1,841.5 1657.9,841.3 1658.7,840.6 1659.5,841.2 1660.3,841.4 1661.1,842 1661.9,841.9 1662.7,841 1663.5,840.9 1664.3,841.3 1665.1,841.5 1665.9,841.1 1666.7,841.2 1667.5,841.5 1668.3,841.7 1669.1,841.8 1669.9,841.4 1670.7,840.6 1671.5,840.4 1672.3,841.2 1673.1,841.1 1673.9,840.9 1674.7,840.8 1675.5,840.4 1676.3,840.3 1677.1,839.9 1677.9,840.5 1678.7,841 1679.5,842 1680.3,841.7 1681.1,841.2 1681.9,841.4 1682.7,841.5 1683.5,841 1684.3,841 1685.1,841.4 1685.9,842.3 1686.7,841.3 1687.5,840.5 1688.3,841.7 1689.1,842.4 1689.9,841.8 1690.7,842.7 1691.5,841.9 1692.3,841.6 1693.1,841.1 1693.9,840.8 1694.7,840.4 1695.5,840.2 1696.3,840.2 1697.1,841.2 1697.9,840.9 1698.7,841.3 1699.5,841.3 1700.3,841 1701.1,841.1 1701.9,841.1 1702.7,841 1703.5,841.2 1704.3,841.1 1705.1,840.6 1705.9,840.3 1706.7,840.7 1707.5,841.4 1708.3,842.1 1709.1,842.2 1709.9,841.8 1710.7,841.8 1711.5,841.6 1712.3,841.8 1713.1,841.5 1713.9,841.4 1714.7,841.2 1715.5,841.5 1716.3,841.9 1717.1,841 1717.9,841 1718.7,841.1 1719,841.9" fill="none" stroke="#ff0000" stroke-width="2.4" stroke-linejoin="round" stroke-linecap="butt" clip-path="url(#cr6)"/>
<rect x="1142.2" y="0.5" width="229.2" height="32.9" fill="#fff" stroke="#1a1a1a" stroke-width="1"/>
<line x1="1153" y1="17.9" x2="1211" y2="17.9" stroke="#007f7f" stroke-width="2.4" stroke-linecap="butt"/>
<text transform="translate(1218.4,27.2) scale(0.9416,1)" font-size="27.6" text-anchor="start" >Au+TRI+HCl</text>
<rect x="1142.2" y="121.2" width="229.2" height="32.4" fill="#fff" stroke="#1a1a1a" stroke-width="1"/>
<line x1="1153" y1="138.1" x2="1211" y2="138.1" stroke="#7f00ff" stroke-width="2.4" stroke-linecap="butt"/>
<text transform="translate(1218.4,147.4) scale(0.9416,1)" font-size="27.6" text-anchor="start" >Au+THI+HCl</text>
<rect x="1143.4" y="241.4" width="244.3" height="32.4" fill="#fff" stroke="#1a1a1a" stroke-width="1"/>
<line x1="1153" y1="258.3" x2="1211" y2="258.3" stroke="#00ff00" stroke-width="2.4" stroke-linecap="butt"/>
<text transform="translate(1218.4,267.6) scale(0.9416,1)" font-size="27.6" text-anchor="start" >Au+CBM+HCl</text>
<rect x="1142.2" y="361.6" width="241.6" height="32.4" fill="#fff" stroke="#1a1a1a" stroke-width="1"/>
<line x1="1153" y1="378.5" x2="1211" y2="378.5" stroke="#ff00ff" stroke-width="2.4" stroke-linecap="butt"/>
<text transform="translate(1218.4,387.8) scale(0.9416,1)" font-size="27.6" text-anchor="start" >Au+ACE+HCl</text>
<rect x="1142.2" y="481.9" width="259.3" height="32.4" fill="#fff" stroke="#1a1a1a" stroke-width="1"/>
<line x1="1153" y1="498.8" x2="1211" y2="498.8" stroke="#000000" stroke-width="2.4" stroke-linecap="butt"/>
<text transform="translate(1218.4,508.1) scale(0.9416,1)" font-size="27.6" text-anchor="start" >Pesticide alone</text>
<rect x="1142.2" y="602.1" width="241.6" height="32.4" fill="#fff" stroke="#1a1a1a" stroke-width="1"/>
<line x1="1153" y1="619" x2="1211" y2="619" stroke="#0000ff" stroke-width="2.4" stroke-linecap="butt"/>
<text transform="translate(1218.4,628.3) scale(0.9416,1)" font-size="27.6" text-anchor="start" >Ethanol alone</text>
<rect x="1142.2" y="722.3" width="183.9" height="32.4" fill="#fff" stroke="#1a1a1a" stroke-width="1"/>
<line x1="1153" y1="739.2" x2="1211" y2="739.2" stroke="#ff0000" stroke-width="2.4" stroke-linecap="butt"/>
<text transform="translate(1218.4,748.5) scale(0.9416,1)" font-size="27.6" text-anchor="start" >Au alone</text>
<text transform="translate(1142.7,874.8) scale(0.965,1)" font-size="27.2" text-anchor="middle" >400</text>
<text transform="translate(1238.8,874.8) scale(0.965,1)" font-size="27.2" text-anchor="middle" >600</text>
<text transform="translate(1334.8,874.8) scale(0.965,1)" font-size="27.2" text-anchor="middle" >800</text>
<text transform="translate(1430.8,874.8) scale(0.965,1)" font-size="27.2" text-anchor="middle" >1000</text>
<text transform="translate(1526.9,874.8) scale(0.965,1)" font-size="27.2" text-anchor="middle" >1200</text>
<text transform="translate(1623,874.8) scale(0.965,1)" font-size="27.2" text-anchor="middle" >1400</text>
<text transform="translate(1719,874.8) scale(0.965,1)" font-size="27.2" text-anchor="middle" >1600</text>
<text x="1312.1" y="926.4" font-size="28.8">Raman Shift (cm<tspan font-size="15.5" dy="-14.5">-1</tspan><tspan dy="14.5">)</tspan></text>
<text transform="translate(1102.8,393.7) rotate(-90)" font-size="28" text-anchor="middle" textLength="168.6" lengthAdjust="spacingAndGlyphs">Intensity (au)</text>
<text transform="translate(1023.3,171.5) scale(0.975,1)" font-size="40" text-anchor="start" >(b)</text>
</g>
</svg>
</body></html>
